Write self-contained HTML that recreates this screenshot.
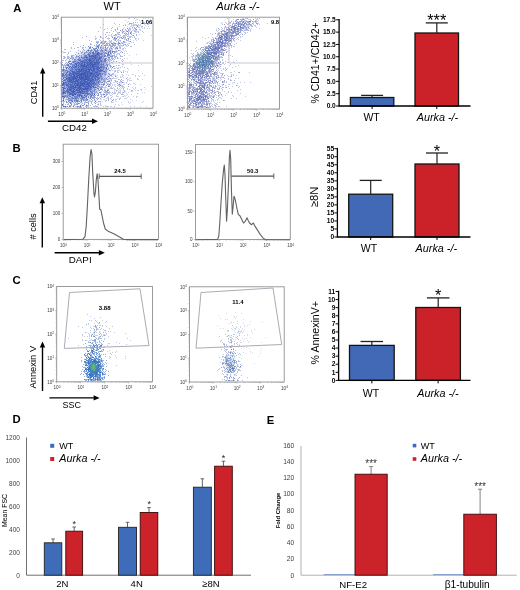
<!DOCTYPE html><html><head><meta charset="utf-8"><style>html,body{margin:0;padding:0;background:#fff;}body{width:520px;height:590px;overflow:hidden;}svg{display:block;font-family:"Liberation Sans",sans-serif;filter:blur(0.35px);}</style></head><body><svg width="520" height="590" viewBox="0 0 520 590"><defs><filter id="bl1" x="-60%" y="-60%" width="220%" height="220%"><feGaussianBlur stdDeviation="1"/></filter><filter id="bl2" x="-60%" y="-60%" width="220%" height="220%"><feGaussianBlur stdDeviation="2"/></filter><filter id="bl4" x="-60%" y="-60%" width="220%" height="220%"><feGaussianBlur stdDeviation="4"/></filter><clipPath id="cA1"><rect x="62.0" y="17.7" width="90.5" height="90.0"/></clipPath><clipPath id="cA2"><rect x="188.0" y="17.7" width="91.0" height="90.8"/></clipPath><clipPath id="cC1"><rect x="57.2" y="287.0" width="94.8" height="94.30000000000001"/></clipPath><clipPath id="cC2"><rect x="190.0" y="287.3" width="93.69999999999999" height="94.19999999999999"/></clipPath></defs><text x="13.2" y="11.9" font-size="11.3" font-weight="bold">A</text>
<text x="103.6" y="10" font-size="11">WT</text>
<text x="216.2" y="10" font-size="11.3" font-style="italic">Aurka -/-</text>
<g clip-path="url(#cA1)"><ellipse cx="84" cy="76" rx="17" ry="27" fill="#5472c6" opacity="0.8" filter="url(#bl4)" transform="rotate(40 84 76)"/></g>
<path d="M94 77h1M74 77h1M81 74h1M89 70h1M87 65h1M66 67h1M63 106h1M77 95h1M71 74h1M81 73h1M89 83h1M79 88h1M73 74h1M91 57h1M105 67h1M72 86h1M75 63h1M89 81h1M63 69h1M69 87h1M80 61h1M98 52h1M83 70h1M84 93h1M85 66h1M67 97h1M71 85h1M106 32h1M76 83h1M101 58h1M85 78h1M74 87h1M75 83h1M99 80h1M68 83h1M100 50h1M97 50h1M97 72h1M91 70h1M83 76h1M87 73h1M107 59h1M87 94h1M81 78h1M110 53h1M86 91h1M83 92h1M111 56h1M91 97h1M67 88h1M86 57h1M65 84h1M124 41h1M103 38h1M74 78h1M93 67h1M75 54h1M114 68h1M85 79h1M87 76h1M100 73h1M69 77h1M72 61h1M68 61h1M87 61h1M108 53h1M101 54h1M89 73h1M96 57h1M116 47h1M79 74h1M100 58h1M93 82h1M98 54h1M82 80h1M81 101h1M93 60h1M63 84h1M67 91h1M78 79h1M87 64h1M79 77h1M71 80h1M74 83h1M81 91h1M63 88h1M72 88h1M63 93h1M68 91h1M82 47h1M91 85h1M97 57h1M81 76h1M99 68h1M70 70h1M66 70h1M104 56h1M78 87h1M97 56h1M75 78h1M77 92h1M73 76h1M77 90h1M114 93h1M100 60h1M103 63h1M92 74h1M98 53h1M97 56h1M69 77h1M65 79h1M73 62h1M87 67h1M79 80h1M90 83h1M76 76h1M86 73h1M81 82h1M66 91h1M83 74h1M102 61h1M87 99h1M116 65h1M64 87h1M68 83h1M76 100h1M63 67h1M90 69h1M84 64h1M103 69h1M86 61h1M81 85h1M76 80h1M112 49h1M94 63h1M95 64h1M73 92h1M91 87h1M82 75h1M82 81h1M72 65h1M91 67h1M66 73h1M110 42h1M69 69h1M63 73h1M66 68h1M91 74h1M92 55h1M69 82h1M103 84h1M84 64h1M83 89h1M83 45h1M71 100h1M68 58h1M87 91h1M84 63h1M86 89h1M77 63h1M78 103h1M76 92h1M106 92h1M110 55h1M110 51h1M91 91h1M79 72h1M88 86h1M95 57h1M97 63h1M79 96h1M76 96h1M85 52h1M100 53h1M89 82h1M99 61h1M77 81h1M101 71h1M92 63h1M77 76h1M106 50h1M68 62h1M68 78h1M83 61h1M64 69h1M90 65h1M76 98h1M72 72h1M77 104h1M88 75h1M95 57h1M115 30h1M87 93h1M82 77h1M84 86h1M92 52h1M74 77h1M93 69h1M106 68h1M87 82h1M85 82h1M104 78h1M97 64h1M73 64h1M93 86h1M107 32h1M93 73h1M68 81h1M88 50h1M63 83h1M98 54h1M90 73h1M80 85h1M70 80h1M87 84h1M81 85h1M72 59h1M82 97h1M89 58h1M68 83h1M84 87h1M93 70h1M70 89h1M90 51h1M90 105h1M88 86h1M97 59h1M86 81h1M88 86h1M91 94h1M88 70h1M103 46h1M81 69h1M95 87h1M76 75h1M78 83h1M93 65h1M90 66h1M96 76h1M100 48h1M74 81h1M98 75h1M109 57h1M93 62h1M107 64h1M84 50h1M81 100h1M80 107h1M84 73h1M75 63h1M104 60h1M110 75h1M84 83h1M88 85h1M90 43h1M63 70h1M72 94h1M90 84h1M87 71h1M92 73h1M67 84h1M83 100h1M72 77h1M88 64h1M87 88h1M84 65h1M85 77h1M80 70h1M98 62h1M90 53h1M107 65h1M112 27h1M83 78h1M99 59h1M70 103h1M72 72h1M80 79h1M84 86h1M82 91h1M81 68h1M90 85h1M87 90h1M70 77h1M93 79h1M83 82h1M85 89h1M65 95h1M86 78h1M68 77h1M66 97h1M94 57h1M98 63h1M86 86h1M72 101h1M82 86h1M107 66h1M103 57h1M113 42h1M107 90h1M97 54h1M108 76h1M67 95h1M97 72h1M74 78h1M85 88h1M112 56h1M79 76h1M73 72h1M77 101h1M66 101h1M79 91h1M73 92h1M69 61h1M79 76h1M80 77h1M78 90h1M98 93h1M66 76h1M69 67h1M91 44h1M74 93h1M92 61h1M104 71h1M96 74h1M80 92h1M98 83h1M70 70h1M73 83h1M86 85h1M82 65h1M86 60h1M84 68h1M92 86h1M72 71h1M87 69h1M76 70h1M87 85h1M83 71h1M81 78h1M87 83h1M86 102h1M100 103h1M87 73h1M96 72h1M84 73h1M71 89h1M87 68h1M74 96h1M85 70h1M88 86h1M74 71h1M84 83h1M83 75h1M98 41h1M95 50h1M81 78h1M91 72h1M75 93h1M73 57h1M73 76h1M80 74h1M90 86h1M105 58h1M83 47h1M62 101h1M76 63h1M95 84h1M82 48h1M79 77h1M88 83h1M90 65h1M104 72h1M86 72h1M79 62h1M67 71h1M122 56h1M100 59h1M87 72h1M101 42h1M84 65h1M100 71h1M80 85h1M84 80h1M64 85h1M74 84h1M62 94h1M86 105h1M92 66h1M68 75h1M63 96h1M89 61h1M90 78h1M65 77h1M100 93h1M69 57h1M76 84h1M121 60h1M87 78h1M77 78h1M94 80h1M82 72h1M75 99h1M93 52h1M71 86h1M65 74h1M88 83h1M79 91h1M98 69h1M78 87h1M81 80h1M92 61h1M105 65h1M100 40h1M90 82h1M87 79h1M69 94h1M62 79h1M65 104h1M74 88h1M64 82h1M75 57h1M73 58h1M72 95h1M92 93h1M66 59h1M74 84h1M66 102h1M102 78h1M62 87h1M112 56h1M90 44h1M94 94h1M79 78h1M88 76h1M92 64h1M63 92h1M93 69h1M96 64h1M81 65h1M87 86h1M81 73h1M84 79h1M88 50h1M66 96h1M95 62h1M91 69h1M77 103h1M90 59h1M91 81h1M78 79h1M83 64h1M80 86h1M74 67h1M104 49h1M96 44h1M75 91h1M83 89h1M86 63h1M90 74h1M66 82h1M95 57h1M71 67h1M98 74h1M100 81h1M81 78h1M81 71h1M93 75h1M78 77h1M67 94h1M123 45h1M65 88h1M81 85h1M113 61h1M98 88h1M72 69h1M74 79h1M117 53h1M69 106h1M83 82h1M72 86h1M85 97h1M76 78h1M99 82h1M86 82h1M71 73h1M77 77h1M88 69h1M92 67h1M74 67h1M111 43h1M69 81h1M78 84h1M62 100h1M88 46h1M81 99h1M80 85h1M85 87h1M87 89h1M62 76h1M63 74h1M76 81h1M80 69h1M86 71h1M79 94h1M88 65h1M83 65h1M68 79h1M65 52h1M75 81h1M63 89h1M69 75h1M84 85h1M84 66h1M87 71h1M74 74h1M95 101h1M75 67h1M70 94h1M97 46h1M112 62h1M70 64h1M104 81h1M77 101h1M75 94h1M99 73h1M93 65h1M67 74h1M122 52h1M106 43h1M96 48h1M72 67h1M66 79h1M85 47h1M72 71h1M84 97h1M69 61h1M91 50h1M64 75h1M74 78h1M84 95h1M81 64h1M70 100h1M121 56h1M97 72h1M104 73h1M82 73h1M107 55h1M73 88h1M104 55h1M87 76h1M98 66h1M75 72h1M93 64h1M62 74h1M71 99h1M118 41h1M93 68h1M104 45h1M119 54h1M62 51h1M76 65h1M69 73h1M81 81h1M78 77h1M95 76h1M83 66h1M91 63h1M115 29h1M80 76h1M105 41h1M70 106h1M85 75h1M64 75h1M91 82h1M82 93h1M91 78h1M89 65h1M124 53h1M85 100h1M84 79h1M123 42h1M103 65h1M117 57h1M86 70h1M88 76h1M91 56h1M62 96h1M79 73h1M87 54h1M89 71h1M72 92h1M71 70h1M83 69h1M83 62h1M78 79h1M97 46h1M108 85h1M88 82h1M90 59h1M74 89h1M73 79h1M95 97h1M102 51h1M63 93h1M73 81h1M79 90h1M94 74h1M84 91h1M99 71h1M99 63h1M63 92h1M96 51h1M94 73h1M80 95h1M94 75h1M105 72h1M73 93h1M80 85h1M77 76h1M95 52h1M79 85h1M104 29h1M96 61h1M109 76h1M71 88h1M80 74h1M82 73h1M103 55h1M73 62h1M96 62h1M80 106h1M73 78h1M89 80h1M93 96h1M80 75h1M75 90h1M91 73h1M83 80h1M64 80h1M66 87h1M81 62h1M71 85h1M85 79h1M70 102h1M71 97h1M73 76h1M94 64h1M69 79h1M87 72h1M68 90h1M89 94h1M71 84h1M78 64h1M101 45h1M67 54h1M86 72h1M115 70h1M86 57h1M97 82h1M89 48h1M72 100h1M80 81h1M74 75h1M89 48h1M74 94h1M93 76h1M104 96h1M96 47h1M97 77h1M97 63h1M96 85h1M77 81h1M76 72h1M84 58h1M77 85h1M66 99h1M82 88h1M99 72h1M101 45h1M98 52h1M126 40h1M90 75h1M74 91h1M74 68h1M100 60h1M68 93h1M84 71h1M92 54h1M86 100h1M80 105h1M97 85h1M89 72h1M70 78h1M64 83h1M83 86h1M86 62h1M65 83h1M104 71h1M74 101h1M106 63h1M94 83h1M82 93h1M101 51h1M98 52h1M95 83h1M93 80h1M68 86h1M64 90h1M89 77h1M93 64h1M93 95h1M81 76h1M89 60h1M88 77h1M100 64h1M94 78h1M82 93h1M65 92h1M101 71h1M63 103h1M83 100h1M82 65h1M79 69h1M79 71h1M106 68h1M79 106h1M77 100h1M94 83h1M82 69h1M72 101h1M93 69h1M97 75h1M65 99h1M76 55h1M84 74h1M65 67h1M75 64h1M90 59h1M84 94h1M90 47h1M91 69h1M81 84h1M79 89h1M92 55h1M67 89h1M67 76h1M95 54h1M94 54h1M85 76h1M101 89h1M75 82h1M84 52h1M107 69h1M100 54h1M72 58h1M99 90h1M63 88h1M79 58h1M82 93h1M78 80h1M96 76h1M82 97h1M62 105h1M105 71h1M90 56h1M72 90h1M82 83h1M93 69h1M81 63h1M79 86h1M87 74h1M103 58h1M78 47h1M92 94h1M90 80h1M98 54h1M98 79h1M85 77h1M88 50h1M91 81h1M101 56h1M72 55h1M93 83h1M75 88h1M88 62h1M70 76h1M83 45h1M74 81h1M80 88h1M82 68h1M87 87h1M78 79h1M79 71h1M96 50h1M78 66h1M78 85h1M93 66h1M81 85h1M77 96h1M79 86h1M119 32h1M114 46h1M115 58h1M77 104h1M70 86h1M72 99h1M91 82h1M97 93h1M75 73h1M70 88h1M94 84h1M100 98h1M96 71h1M71 82h1M80 73h1M77 88h1M95 69h1M68 77h1M81 95h1M77 86h1M98 85h1M83 84h1M72 77h1M99 62h1M79 91h1M96 54h1M84 62h1M63 56h1M72 93h1M92 63h1M94 94h1M120 67h1M81 96h1M90 75h1M90 68h1M101 77h1M80 65h1M94 56h1M73 44h1M81 79h1M97 72h1M93 83h1M71 100h1M91 59h1M88 67h1M89 90h1M89 89h1M70 84h1M84 73h1M80 92h1M85 88h1M80 67h1M76 78h1M67 77h1M96 45h1M75 98h1M119 24h1M64 97h1M63 78h1M94 68h1M97 62h1M85 79h1M85 72h1M76 83h1M79 96h1M81 82h1M63 72h1M88 91h1M93 86h1M63 91h1M91 78h1M89 75h1M69 88h1M67 71h1M88 104h1M87 67h1M103 50h1M90 80h1M69 60h1M76 93h1M67 102h1M95 68h1M78 70h1M74 87h1M109 84h1M86 88h1M80 81h1M88 74h1M77 84h1M70 78h1M73 80h1M84 64h1M68 53h1M89 40h1M79 103h1M94 67h1M70 78h1M92 65h1M69 77h1M97 67h1M93 106h1M83 49h1M103 61h1M97 61h1M69 106h1M113 66h1M78 68h1M112 59h1M108 43h1M83 97h1M77 80h1M85 56h1M92 66h1M95 103h1M90 91h1M90 81h1M87 84h1M62 70h1M88 83h1M75 98h1M106 82h1M91 70h1M86 70h1M108 73h1M93 79h1M71 101h1M80 46h1M86 89h1M74 76h1M80 77h1M94 64h1M106 68h1M78 79h1M73 90h1M90 94h1M91 82h1M107 51h1M67 84h1M87 71h1M69 100h1M101 61h1M67 90h1M80 67h1M63 84h1M95 62h1M79 78h1M114 51h1M92 86h1M85 78h1M95 49h1M116 56h1M76 67h1M85 71h1M72 62h1M90 87h1M81 79h1M74 105h1M84 103h1M95 58h1M62 76h1M73 78h1M85 81h1M90 57h1M93 67h1M108 59h1M96 58h1M84 76h1M89 56h1M92 92h1M87 57h1M88 71h1M80 66h1M82 99h1M83 74h1M81 72h1M83 65h1M86 90h1M70 66h1M67 92h1M79 92h1M69 105h1M71 89h1M83 84h1M88 84h1M89 56h1M79 94h1M62 89h1M98 75h1M74 72h1M88 78h1M91 80h1M66 78h1M85 75h1M98 66h1M66 75h1M66 62h1M80 64h1M104 83h1M101 70h1M117 81h1M84 81h1M93 55h1M78 92h1M98 48h1M92 76h1M74 77h1M66 95h1M87 63h1M88 69h1M73 77h1M77 98h1M86 92h1M78 69h1M63 99h1M104 90h1M79 72h1M66 77h1M73 78h1M90 87h1M91 63h1M100 70h1M72 91h1M98 53h1M100 66h1M89 61h1M76 73h1M97 104h1M88 64h1M108 53h1M73 90h1M80 74h1M80 79h1M98 98h1M117 32h1M79 74h1M85 59h1M108 64h1M76 69h1M90 74h1M99 54h1M114 55h1M79 86h1M84 65h1M91 73h1M94 94h1M78 69h1M80 75h1M92 97h1M73 90h1M97 84h1M97 45h1M85 92h1M106 67h1M91 95h1M72 78h1M88 79h1M90 73h1M63 91h1M85 75h1M69 96h1M84 74h1M75 77h1M111 62h1M69 73h1M72 77h1M85 88h1M74 74h1M89 58h1M130 41h1M81 77h1M83 57h1M81 79h1M86 79h1M121 45h1M65 70h1M93 71h1M82 64h1M101 57h1M75 90h1M114 38h1M99 44h1M93 49h1M124 67h1M92 93h1M88 80h1M78 62h1M98 70h1M81 90h1M93 65h1M87 88h1M73 90h1M77 97h1M93 53h1M92 71h1M83 70h1M98 73h1M85 79h1M66 67h1M104 82h1M84 72h1M96 60h1M92 79h1M64 79h1M96 92h1M92 84h1M74 84h1M70 72h1M63 100h1M89 47h1M82 78h1M99 57h1M78 89h1M84 57h1M85 62h1M86 60h1M86 51h1M92 78h1M97 51h1M62 85h1M84 66h1M93 68h1M112 46h1M75 102h1M79 85h1M84 82h1M93 64h1M95 58h1M74 62h1M95 78h1M65 88h1M67 88h1M80 74h1M80 105h1M64 106h1M67 79h1M63 105h1M79 89h1M76 63h1M69 94h1M93 85h1M64 92h1M102 69h1M73 86h1M82 58h1M77 73h1M100 36h1M76 62h1M102 70h1M71 57h1M109 70h1M64 70h1M68 71h1M86 77h1M71 56h1M77 94h1M90 60h1M80 70h1M96 68h1M83 86h1M101 66h1M76 99h1M86 107h1M95 48h1M102 87h1M73 79h1M72 68h1M70 100h1M106 53h1M109 61h1M69 87h1M62 81h1M77 82h1M83 60h1M88 103h1M83 86h1M77 68h1M115 40h1M71 77h1M96 51h1M81 100h1M62 64h1M70 99h1M85 73h1M95 79h1M108 81h1M63 92h1M95 72h1M84 97h1M99 52h1M110 52h1M92 67h1M80 91h1M97 49h1M95 56h1M78 89h1M70 85h1M85 93h1M96 72h1M88 80h1M69 80h1M99 92h1M74 81h1M79 82h1M77 80h1M97 55h1M87 100h1M69 94h1M75 63h1M109 70h1M97 64h1M92 63h1M97 79h1M92 75h1M85 66h1M90 60h1M102 73h1M90 46h1M124 44h1M88 77h1M64 84h1M98 67h1M83 73h1M79 74h1M85 74h1M85 99h1M98 60h1M99 70h1M97 58h1M78 92h1M89 70h1M63 69h1M66 75h1M71 47h1M92 64h1M71 63h1M109 84h1M79 82h1M79 83h1M95 39h1M93 55h1M83 74h1M103 43h1M87 52h1M98 46h1M89 60h1M71 102h1M103 73h1M63 91h1M70 73h1M79 97h1M83 89h1M100 74h1M64 57h1M68 85h1M82 67h1M100 57h1M72 80h1M67 80h1M95 65h1M94 72h1M88 60h1M69 80h1M70 90h1M81 85h1M76 100h1M88 62h1M100 42h1M92 67h1M105 74h1M77 85h1M110 70h1M76 66h1M86 71h1M121 72h1M83 67h1M92 80h1M88 93h1M89 82h1M68 83h1M77 84h1M63 100h1M93 70h1M91 95h1M70 78h1M86 95h1M85 91h1M88 86h1M103 64h1M122 66h1M82 96h1M94 71h1M95 58h1M73 79h1M89 83h1M108 76h1M82 91h1M79 90h1M81 77h1M70 82h1M95 101h1M91 41h1M90 64h1M65 72h1M85 74h1M86 93h1M63 66h1M92 64h1M63 96h1M86 105h1M86 106h1M83 70h1M95 80h1M78 71h1M64 88h1M85 77h1M98 69h1M62 85h1M74 73h1M97 53h1M105 55h1M88 72h1M95 66h1M78 103h1M75 87h1M101 42h1M88 93h1M63 85h1M103 57h1M96 55h1M81 66h1M76 87h1M99 92h1M64 97h1M111 54h1M77 76h1M103 54h1M63 100h1M102 54h1M86 78h1M90 69h1M81 76h1M96 81h1M81 63h1M82 73h1M88 96h1M96 38h1M69 81h1M102 82h1M84 91h1M96 68h1M82 91h1M80 82h1M91 67h1M72 74h1M77 47h1M104 74h1M101 70h1M76 101h1M81 93h1M87 74h1M78 83h1M91 56h1M94 78h1M83 65h1M95 59h1M88 103h1M95 55h1M77 65h1M90 81h1M79 70h1M72 86h1M77 75h1M81 89h1M62 62h1M81 96h1M87 50h1M78 65h1M77 92h1M81 71h1M78 75h1M105 47h1M94 73h1M69 106h1M82 84h1M75 86h1M81 68h1M67 86h1M63 87h1M113 44h1M69 86h1M115 57h1M105 69h1M80 94h1M68 62h1M81 77h1M105 61h1M69 79h1M91 78h1M97 70h1M63 83h1M86 98h1M83 89h1M107 47h1M82 67h1M77 74h1M94 89h1M88 60h1M84 83h1M111 74h1M93 81h1M89 78h1M106 43h1M86 56h1M106 53h1M98 53h1M77 84h1M91 72h1M73 91h1M93 56h1M68 52h1M78 67h1M106 69h1M89 60h1M111 30h1M101 53h1M79 87h1M76 74h1M88 51h1M96 76h1M92 71h1M87 63h1M101 67h1M74 82h1M106 53h1M92 79h1M91 56h1M86 69h1M88 76h1M78 84h1M90 62h1M113 55h1M82 62h1M64 83h1M85 79h1M69 66h1M110 53h1M78 53h1M81 83h1M70 89h1M78 85h1M113 51h1M107 83h1M83 68h1M91 64h1M71 67h1M78 72h1M73 86h1M83 90h1M81 57h1M84 84h1M65 71h1M69 74h1M65 57h1M98 42h1M96 60h1M102 67h1M90 96h1M92 86h1M68 84h1M72 88h1M89 75h1M88 78h1M87 99h1M95 84h1M82 76h1M86 93h1M76 52h1M77 85h1M81 65h1M94 55h1M95 51h1M68 66h1M76 81h1M71 78h1M102 70h1M98 45h1M87 75h1M94 63h1M72 82h1M93 60h1M97 79h1M76 100h1M84 81h1M77 84h1M80 73h1M87 64h1M71 75h1M87 64h1M93 69h1M65 49h1M63 82h1M91 83h1M87 74h1M93 48h1M98 64h1M102 62h1M87 92h1M72 71h1M64 106h1M88 97h1M90 60h1M90 75h1M74 78h1M74 76h1M77 71h1M81 68h1M105 50h1M84 70h1M72 91h1M91 50h1M103 84h1M78 65h1M82 66h1M82 96h1M100 37h1M87 59h1M67 93h1M92 56h1M89 67h1M93 58h1M89 67h1M71 80h1M93 58h1M67 96h1M93 93h1M69 93h1M68 101h1M109 54h1M89 71h1M89 79h1M85 73h1M73 88h1M98 61h1M73 86h1M85 91h1M80 75h1M96 62h1M63 98h1M62 104h1M100 67h1M78 96h1M65 91h1M91 63h1M62 92h1M101 41h1M68 89h1M128 33h1M79 63h1M87 74h1M72 92h1M67 78h1M95 105h1M115 43h1M63 76h1M92 68h1M81 88h1M99 80h1M99 56h1M93 74h1M77 71h1M94 102h1M98 62h1M79 75h1M81 57h1M117 48h1M69 75h1M94 63h1M94 87h1M67 71h1M87 76h1M122 64h1M94 56h1M95 62h1M78 81h1M113 66h1M91 75h1M118 70h1M76 65h1M82 60h1M91 62h1M88 74h1M84 83h1M68 87h1M83 72h1M77 80h1M68 99h1M95 71h1M75 94h1M74 61h1M89 70h1M98 70h1M80 86h1M93 74h1M74 100h1M64 80h1M100 75h1M91 99h1M75 78h1M84 56h1M90 101h1M82 69h1M104 58h1M86 75h1M73 73h1M81 68h1M80 64h1M97 68h1M99 59h1M74 92h1M63 96h1M84 74h1M94 97h1M63 65h1M103 67h1M69 74h1M81 65h1M65 107h1M81 53h1M95 103h1M72 82h1M85 89h1M111 28h1M101 50h1M83 70h1M71 93h1M70 81h1M82 85h1M66 101h1M76 76h1M64 56h1M82 84h1M70 61h1M69 88h1M81 83h1M67 67h1M88 54h1M69 81h1M94 68h1M98 59h1M103 80h1M82 78h1M91 52h1M83 85h1M77 56h1M77 83h1M91 66h1M80 98h1M77 101h1M83 77h1M65 81h1M78 83h1M81 92h1M83 73h1M85 62h1M76 86h1M78 64h1M91 86h1M95 83h1M80 92h1M75 67h1M87 93h1M75 83h1M127 68h1M90 62h1M79 92h1M97 53h1M63 88h1M71 68h1M77 73h1M102 66h1M63 98h1M89 68h1M77 85h1M77 107h1M89 87h1M70 93h1M101 88h1M77 89h1M80 94h1M87 75h1M71 91h1M90 60h1M95 62h1M93 79h1M70 96h1M88 58h1M74 96h1M90 94h1M64 64h1M84 95h1M78 83h1M92 97h1M75 78h1M91 96h1M88 94h1M66 90h1M64 73h1M89 76h1M63 88h1M103 41h1M82 71h1M118 44h1M88 63h1M90 68h1M64 96h1M63 75h1M94 66h1M98 68h1M89 75h1M105 46h1M110 53h1M85 102h1M91 58h1M97 57h1M86 84h1M62 85h1M87 92h1M93 87h1M86 78h1M80 88h1M101 87h1M72 65h1M74 93h1M69 100h1M95 58h1M83 82h1M62 97h1M70 94h1M84 100h1M87 62h1M72 76h1M96 98h1M97 49h1M87 78h1M89 85h1M73 86h1M88 89h1M89 74h1M87 99h1M68 98h1M129 43h1M103 63h1M73 90h1M64 96h1M70 75h1M80 75h1M79 85h1M81 85h1M96 61h1M92 70h1M76 78h1M74 81h1M91 61h1M94 65h1M78 59h1M94 69h1M62 96h1M97 59h1M63 102h1M83 75h1M93 59h1M69 89h1M82 103h1M106 63h1M95 64h1M66 79h1M88 94h1M67 67h1M72 79h1M75 81h1M78 95h1M77 106h1M112 67h1M87 69h1M65 82h1M73 79h1M75 77h1M80 86h1M94 63h1M87 79h1M67 82h1M63 93h1M67 90h1M92 76h1M106 48h1M74 75h1M63 96h1M80 81h1M79 91h1M80 78h1M88 88h1M89 71h1M79 75h1M82 79h1M86 67h1M79 88h1M67 72h1M100 67h1M80 82h1M86 98h1M77 73h1M82 70h1M81 75h1M71 80h1M63 87h1M104 54h1M84 67h1M75 59h1M103 94h1M84 86h1M68 87h1M82 69h1M71 80h1M95 89h1M75 83h1M67 57h1M73 75h1M112 44h1M74 72h1M94 88h1M78 62h1M89 93h1M77 100h1M109 32h1M85 94h1M84 98h1M94 78h1M90 60h1M88 80h1M96 64h1M106 58h1M112 52h1M84 74h1M81 61h1M82 98h1M86 69h1M71 56h1M84 83h1M80 100h1M81 61h1M80 71h1M87 75h1M78 53h1M67 72h1M96 72h1M93 87h1M99 67h1M86 74h1M91 66h1M83 73h1M82 98h1M68 103h1M74 104h1M97 75h1M88 71h1M93 51h1M104 43h1M93 87h1M82 71h1M72 101h1M99 71h1M86 67h1M106 60h1M79 78h1M93 84h1M79 92h1M74 103h1M110 56h1M77 63h1M65 96h1M73 67h1M75 98h1M85 68h1M84 81h1M87 86h1M73 86h1M102 79h1M93 83h1M73 95h1M67 78h1M105 59h1M88 85h1M76 89h1M106 62h1M91 74h1M65 74h1M84 73h1M97 54h1M97 54h1M98 47h1M86 52h1M99 58h1M97 42h1M78 62h1M81 71h1M79 74h1M102 53h1M66 70h1M68 64h1M81 92h1M84 83h1M71 98h1M101 68h1M82 69h1M73 62h1M82 74h1M85 89h1M69 59h1M72 83h1M81 91h1M80 82h1M81 63h1M107 44h1M62 87h1M66 85h1M63 106h1M105 49h1M73 67h1M85 62h1M78 101h1M104 71h1M63 101h1M90 79h1M123 48h1M71 100h1M85 60h1M91 85h1M82 88h1M76 85h1M104 67h1M78 94h1M70 80h1M94 85h1M79 79h1M76 70h1M84 81h1M91 69h1M89 47h1M87 59h1M78 90h1M76 64h1M102 50h1M97 68h1M82 92h1M101 88h1M79 101h1M87 76h1M68 91h1M90 55h1M69 101h1M101 57h1M78 87h1M87 90h1M64 93h1M67 65h1M82 65h1M108 54h1M125 44h1M74 76h1M66 84h1M62 73h1M69 89h1M84 88h1M63 67h1M66 69h1M66 84h1M81 83h1M74 93h1M91 102h1M85 66h1M84 84h1M104 41h1M84 55h1M80 83h1M63 96h1M89 60h1M92 62h1M92 73h1M88 76h1M72 95h1M84 72h1M101 50h1M71 94h1M96 54h1M105 47h1M82 66h1M87 80h1M78 85h1M63 106h1M93 76h1M86 66h1M86 84h1M86 59h1M84 84h1M63 82h1M67 58h1M89 67h1M67 65h1M63 90h1M89 58h1M86 87h1M80 75h1M85 59h1M130 28h1M79 59h1M109 84h1M63 84h1M109 58h1M90 69h1M92 58h1M98 53h1M90 95h1M109 55h1M90 68h1M107 38h1M80 63h1M90 97h1M115 71h1M84 80h1M72 81h1M73 79h1M93 68h1M82 78h1M109 59h1M95 75h1M68 65h1M70 90h1M83 83h1M93 48h1M101 67h1M82 57h1M84 76h1M97 78h1M70 86h1M65 74h1M74 84h1M74 100h1M64 106h1M102 61h1M71 86h1M85 73h1M105 53h1M80 93h1M99 53h1M78 58h1M75 96h1M113 31h1M84 92h1M77 81h1M94 94h1M85 95h1M71 81h1M76 74h1M84 83h1M80 71h1M73 69h1M90 69h1M86 96h1M93 79h1M77 73h1M70 83h1M88 84h1M90 73h1M70 93h1M74 81h1M73 66h1M92 104h1M77 81h1M100 77h1M81 63h1M84 95h1M79 64h1M82 63h1M84 79h1M79 73h1M82 81h1M89 50h1M74 60h1M91 69h1M64 82h1M73 95h1M93 54h1M93 65h1M110 67h1M92 61h1M91 85h1M77 61h1M84 76h1M114 56h1M89 79h1M93 75h1M74 81h1M88 65h1M85 83h1M63 89h1M88 71h1M106 58h1M69 72h1M79 95h1M75 85h1M85 77h1M79 95h1M80 78h1M71 77h1M86 66h1M105 49h1M94 48h1M85 69h1M103 71h1M73 87h1M79 57h1M103 51h1M86 55h1M81 79h1M64 93h1M79 87h1M72 66h1M75 98h1M97 52h1M94 90h1M89 56h1M70 90h1M104 96h1M95 76h1M88 73h1M95 66h1M86 65h1M82 83h1M98 75h1M76 79h1M97 43h1M83 61h1M71 104h1M83 89h1M88 54h1M101 70h1M70 63h1M90 65h1M97 69h1M84 83h1M102 48h1M72 95h1M69 71h1M81 78h1M105 55h1M95 75h1M84 75h1M76 106h1M73 87h1M64 58h1M72 94h1M70 85h1M99 45h1M100 47h1M82 90h1M94 66h1M76 89h1M90 60h1M86 82h1M99 58h1M111 60h1M82 66h1M92 70h1M91 85h1M91 93h1M63 100h1M83 105h1M104 97h1M81 65h1M118 65h1M65 93h1M110 46h1M88 79h1M86 83h1M112 55h1M98 104h1M86 98h1M81 90h1M83 67h1M92 47h1M93 67h1M63 70h1M77 80h1M90 86h1M83 68h1M62 104h1M88 97h1M63 98h1M97 71h1M86 86h1M65 66h1M70 70h1M64 97h1M75 94h1M77 97h1M81 82h1M73 73h1M71 90h1M97 75h1M105 62h1M81 75h1M92 66h1M96 66h1M69 80h1M92 58h1M79 92h1M80 106h1M94 56h1M80 88h1M114 66h1M73 78h1M108 81h1M90 47h1M105 61h1M74 85h1M96 57h1M79 84h1M108 52h1M109 55h1M81 55h1M95 58h1M102 70h1M81 74h1M103 67h1M96 62h1M70 58h1M98 31h1M116 61h1M80 83h1M108 60h1M97 62h1M63 77h1M64 52h1M95 50h1M68 100h1M92 71h1M101 65h1M64 71h1M71 58h1M74 75h1M98 79h1M88 85h1M81 74h1M72 77h1M72 72h1M84 79h1M104 56h1M90 72h1M83 91h1M91 87h1M85 72h1M85 80h1M78 83h1M94 50h1M90 87h1M82 77h1M99 57h1M76 89h1M72 70h1M73 85h1M105 59h1M98 60h1M70 85h1M97 47h1M65 106h1M83 99h1M87 64h1M82 88h1M78 75h1M87 73h1M97 53h1M87 83h1M87 89h1M78 88h1M68 92h1M66 106h1M100 58h1M119 43h1M74 74h1M86 63h1M90 63h1M90 88h1M94 82h1M97 65h1M79 95h1M88 90h1M73 102h1M77 94h1M63 81h1M84 60h1M101 61h1M77 85h1M96 61h1M98 81h1M87 80h1M98 59h1M100 92h1M79 69h1M84 81h1M95 76h1M87 87h1M86 67h1M88 53h1M117 68h1M89 57h1M80 77h1M81 74h1M95 55h1M103 71h1M89 93h1M89 53h1M101 64h1M105 90h1M85 77h1M70 87h1M94 99h1M99 62h1M76 80h1M70 70h1M106 78h1M92 94h1M83 82h1M86 70h1M98 95h1M91 63h1M93 70h1M94 69h1M77 95h1M71 80h1M74 73h1M93 52h1M87 72h1M66 64h1M98 57h1M94 50h1M86 67h1M95 75h1M83 88h1M93 64h1M88 65h1M109 44h1M98 86h1M83 76h1M87 84h1M91 72h1M78 73h1M82 69h1M89 80h1M76 73h1M81 88h1M75 104h1M70 87h1M84 84h1M85 106h1M76 97h1M123 25h1M99 68h1M95 52h1M69 88h1M72 94h1M65 74h1M84 74h1M74 84h1M62 95h1M89 82h1M101 63h1M73 82h1M65 92h1M87 89h1M83 71h1M78 59h1M83 85h1M86 79h1M96 51h1M97 67h1M68 65h1M78 73h1M92 76h1M76 65h1M93 61h1M62 84h1M76 104h1M93 79h1M75 64h1M79 101h1M68 83h1M79 87h1M93 64h1M67 81h1M96 72h1M80 61h1M74 81h1M83 68h1M93 55h1M78 79h1M82 72h1M120 55h1M87 64h1M87 95h1M66 83h1M91 55h1M70 66h1M82 77h1M85 57h1M85 86h1M79 63h1M81 97h1M89 85h1M82 77h1M101 79h1M80 98h1M97 46h1M100 56h1M71 87h1M99 68h1M104 59h1M79 87h1M93 60h1M89 86h1M96 91h1M73 91h1M106 36h1M88 53h1M100 43h1M86 97h1M97 49h1M88 69h1M82 77h1M82 84h1M70 79h1M63 104h1M86 93h1M85 78h1M90 65h1M115 56h1M84 83h1M63 83h1M91 65h1M75 76h1M76 76h1M93 62h1M79 87h1M79 66h1M66 90h1M78 75h1M89 71h1M87 76h1M67 106h1M95 77h1M72 71h1M91 92h1M77 92h1M88 49h1M75 87h1M86 76h1M121 37h1M105 78h1M76 66h1M79 78h1M81 95h1M63 75h1M77 73h1M98 81h1M79 94h1M62 93h1M87 63h1M86 89h1M65 77h1M93 83h1M69 99h1M95 55h1M83 79h1M101 49h1M74 89h1M84 66h1M84 89h1M76 66h1M82 60h1M97 60h1M122 52h1M84 99h1M78 73h1M72 91h1M74 66h1M80 65h1M105 37h1M77 100h1M93 70h1M65 106h1M62 91h1M100 96h1M90 62h1M85 56h1M73 72h1M73 80h1M66 102h1M76 56h1M62 75h1M96 70h1M99 55h1M70 61h1M98 74h1M80 79h1M92 59h1M87 82h1M62 92h1M88 87h1M94 70h1M97 79h1M91 89h1M86 96h1M82 78h1M93 95h1M94 93h1M84 57h1M85 67h1M79 57h1M77 81h1M92 77h1M68 65h1M72 101h1M78 85h1M100 71h1M108 54h1M131 46h1M103 62h1M85 70h1M82 77h1M70 105h1M109 81h1M75 73h1M81 80h1M77 71h1M63 69h1M76 85h1M79 92h1M75 69h1M64 90h1M81 85h1M81 104h1M87 77h1M71 104h1M67 92h1M99 55h1M72 79h1M94 45h1M79 55h1M120 58h1M90 53h1M99 74h1M113 47h1M65 65h1M73 91h1M96 46h1M65 63h1M81 89h1M89 86h1M90 91h1M121 51h1M101 53h1M80 86h1M69 78h1M93 66h1M88 62h1M88 62h1M64 91h1M94 49h1M78 82h1M76 93h1M87 94h1M85 89h1M98 101h1M84 53h1M93 64h1M86 84h1M71 63h1M85 85h1M86 71h1M94 91h1M76 71h1M66 90h1M90 79h1M101 73h1M103 68h1M91 73h1M83 73h1M68 86h1M92 73h1M88 72h1M96 61h1M105 41h1M86 66h1M92 64h1M93 62h1M81 70h1M77 84h1M66 73h1M96 48h1M77 76h1M62 84h1M69 89h1M70 87h1M72 72h1M85 73h1M84 81h1M75 78h1M91 55h1M71 71h1M93 84h1M97 52h1M88 59h1M67 88h1M116 38h1M84 73h1M81 80h1M93 98h1M85 87h1M105 60h1M71 67h1M82 67h1M81 61h1M82 84h1M106 71h1M102 56h1M92 58h1M98 65h1M87 76h1M96 53h1M97 69h1M86 66h1M65 80h1M89 69h1M62 79h1M95 51h1M84 69h1M68 79h1M81 88h1M105 50h1M66 74h1M62 93h1M72 97h1M86 79h1M72 64h1M106 68h1M69 63h1M99 58h1M78 95h1M63 70h1M75 87h1M80 59h1M81 102h1M63 58h1M75 69h1M70 89h1M109 62h1M118 68h1M86 79h1M87 81h1M75 66h1M72 91h1M82 74h1M86 65h1M71 79h1M97 72h1M95 71h1M88 69h1M97 69h1M94 59h1M81 101h1M70 102h1M63 106h1M71 55h1M83 66h1M89 88h1M74 93h1M88 66h1M113 45h1M109 49h1M120 52h1M83 83h1M70 80h1M71 89h1M92 92h1M84 59h1M79 77h1M83 79h1M71 103h1M102 70h1M63 80h1M73 106h1M72 86h1M108 55h1M111 48h1M88 105h1M84 65h1M76 78h1M81 75h1M95 63h1M81 75h1M83 96h1M83 88h1M62 71h1M75 77h1M76 101h1M98 47h1M85 84h1M97 63h1M108 76h1M79 75h1M64 76h1M103 61h1M88 88h1M87 61h1M104 59h1M87 65h1M106 64h1M110 59h1M90 73h1M65 74h1M107 65h1M84 78h1M70 86h1M62 76h1M85 87h1M94 99h1M93 52h1M74 71h1M97 51h1M88 67h1M114 43h1M72 68h1M82 93h1M65 79h1M81 98h1M73 65h1M76 84h1M73 94h1M85 93h1M101 60h1M86 51h1M94 59h1M75 87h1M80 93h1M78 75h1M86 69h1M98 63h1M84 102h1M112 58h1M114 59h1M78 50h1M89 60h1M103 24h1M71 78h1M63 92h1M72 78h1M91 79h1M81 69h1M67 85h1M95 66h1M110 98h1M79 91h1M76 90h1M76 78h1M76 79h1M66 73h1M89 62h1M104 84h1M68 97h1M87 86h1M90 90h1M90 80h1M86 77h1M78 106h1M96 65h1M82 78h1M73 92h1M109 52h1M93 97h1M99 57h1M98 52h1M75 79h1M83 54h1M102 59h1M81 66h1M95 38h1M91 101h1M76 81h1M74 71h1M79 85h1M119 43h1M74 48h1M77 75h1M74 77h1M94 64h1M108 57h1M63 60h1M101 95h1M68 95h1M67 64h1M63 92h1M95 51h1M71 87h1M63 82h1M101 84h1M68 62h1M98 45h1M69 90h1M72 101h1M98 83h1M101 56h1M65 95h1M87 58h1M91 87h1M95 56h1M94 67h1M95 63h1M70 64h1M78 83h1M87 67h1M98 46h1M77 77h1M94 53h1M77 86h1M76 89h1M75 76h1M84 62h1M67 63h1M92 55h1M76 79h1M135 38h1M98 86h1M66 76h1M90 60h1M90 69h1M62 85h1M78 69h1M84 91h1M80 84h1M83 70h1M89 61h1M89 70h1M102 43h1M62 65h1M74 81h1M89 61h1M72 56h1M74 83h1M73 94h1M76 79h1M82 84h1M88 102h1M83 97h1M74 99h1M97 50h1M86 100h1M106 64h1M90 61h1M99 90h1M88 72h1M67 85h1M108 90h1M63 78h1M70 79h1M63 84h1M84 88h1M92 83h1M80 89h1M84 76h1M68 77h1M62 60h1M79 70h1M89 73h1M69 96h1M76 76h1M90 69h1M91 77h1M82 52h1M110 65h1M74 65h1M87 84h1M78 56h1M75 86h1M84 80h1M86 76h1M87 82h1M86 57h1M78 82h1M88 55h1M90 58h1M78 60h1M100 87h1M68 80h1M79 74h1M89 78h1M98 68h1M101 62h1M84 84h1M89 64h1M79 69h1M89 84h1M91 84h1M89 52h1M112 37h1M90 89h1M94 96h1M69 95h1M92 52h1M109 80h1M104 94h1M96 73h1M85 55h1M117 28h1M103 81h1M94 64h1M73 79h1M65 82h1M90 96h1M83 65h1M110 66h1M87 102h1M76 87h1M90 75h1M73 98h1M71 82h1M90 68h1M80 79h1M86 90h1M93 57h1M93 70h1M82 77h1M113 51h1M95 75h1M87 67h1M96 63h1M77 88h1M72 93h1M66 68h1M88 84h1M63 68h1M63 92h1M85 55h1M95 78h1M77 59h1M92 61h1M63 88h1M86 78h1M97 80h1M89 76h1M71 75h1M89 56h1M72 79h1M96 80h1M76 72h1M97 71h1M108 52h1M94 55h1M63 83h1M97 53h1M72 98h1M82 62h1M69 71h1M91 64h1M83 79h1M71 87h1M94 66h1M93 56h1M70 90h1M77 87h1M68 91h1M92 90h1M83 99h1M76 96h1M124 55h1M71 76h1M68 68h1M91 69h1M71 69h1M77 91h1M88 85h1M76 56h1M83 84h1M73 106h1M88 77h1M64 49h1M103 66h1M82 62h1M90 89h1M82 89h1M81 73h1M105 72h1M75 86h1M92 80h1M110 95h1M86 79h1M63 90h1M81 99h1M97 73h1M92 91h1M78 83h1M98 89h1M72 82h1M91 84h1M74 75h1M100 54h1M83 86h1M92 59h1M71 88h1M94 60h1M79 71h1M98 78h1M72 74h1M92 53h1M103 57h1M91 73h1M107 49h1M69 98h1M100 48h1M63 99h1M76 71h1M91 80h1M105 58h1M79 91h1M108 55h1M79 86h1M84 104h1M87 88h1M92 72h1M104 61h1M84 53h1M114 54h1M78 63h1M90 56h1M72 81h1M75 61h1M94 87h1M72 84h1M62 75h1M83 67h1M63 92h1M103 56h1M103 79h1M79 60h1M96 60h1M80 84h1M76 103h1M95 74h1M78 79h1M67 56h1M98 66h1M82 61h1M102 41h1M79 76h1M80 60h1M68 92h1M86 76h1M95 36h1M84 76h1M70 93h1M67 106h1M95 86h1M74 85h1M96 41h1M94 68h1M81 77h1M117 47h1M81 76h1M85 62h1M77 80h1M77 85h1M87 84h1M86 88h1M73 105h1M91 55h1M62 70h1M84 74h1M97 75h1M93 56h1M103 48h1M67 91h1M75 60h1M63 78h1M114 38h1M76 89h1M90 84h1M67 96h1M69 72h1M92 56h1M80 87h1M68 79h1M77 69h1M67 64h1M92 98h1M83 105h1M98 60h1M87 62h1M63 69h1M68 56h1M108 50h1M116 35h1M87 77h1M87 94h1M76 74h1M82 65h1M82 91h1M84 82h1M79 89h1M65 96h1M107 28h1M90 69h1M70 90h1M69 92h1M97 77h1M90 51h1M74 94h1M81 65h1M75 97h1M85 60h1M89 64h1M92 77h1M81 75h1M71 63h1M92 71h1M85 101h1M100 57h1M89 60h1M98 64h1M84 97h1M91 103h1M85 75h1M80 95h1M63 74h1M80 51h1M78 72h1M73 88h1M78 90h1M79 78h1M67 85h1M71 67h1M102 42h1M89 76h1M91 77h1M71 48h1M92 83h1M72 86h1M68 78h1M72 97h1M91 96h1M70 106h1M93 76h1M62 81h1M74 100h1M91 61h1M63 73h1M92 78h1M79 60h1M95 73h1M69 78h1M104 63h1M102 64h1M89 60h1M122 61h1M88 46h1M70 93h1M93 81h1M86 95h1M90 97h1M80 71h1M100 74h1M105 55h1M78 82h1M103 40h1M90 72h1M90 81h1M89 89h1M86 70h1M97 88h1M70 85h1M131 23h1M74 76h1M98 71h1M62 90h1M88 66h1M63 83h1M63 71h1M79 71h1M79 74h1M67 104h1M85 76h1M86 96h1M77 85h1M73 78h1M65 80h1M70 92h1M86 75h1M96 66h1M97 97h1M72 84h1M89 63h1M80 106h1M90 67h1M88 68h1M69 89h1M73 71h1M85 72h1M68 68h1M82 95h1M78 93h1M88 83h1M64 86h1M82 84h1M80 74h1M76 90h1M95 80h1M75 81h1M73 80h1M86 86h1M101 45h1M89 78h1M77 80h1M77 89h1M80 83h1M97 66h1M68 101h1M85 89h1M98 77h1M81 95h1M83 79h1M82 90h1M62 96h1M98 52h1M82 83h1M108 86h1M81 92h1M99 78h1M109 40h1M79 88h1M85 75h1M86 61h1M86 84h1M78 88h1M68 104h1M127 40h1M68 74h1M102 50h1M74 91h1M84 79h1M117 29h1M66 85h1M62 84h1M74 91h1M86 91h1M77 62h1M64 88h1M95 80h1M90 88h1M64 65h1M71 91h1M84 54h1M87 50h1M73 42h1M96 59h1M67 70h1M98 94h1M78 82h1M84 64h1M72 95h1M83 75h1M86 57h1M73 88h1M91 49h1M85 57h1M80 60h1M92 53h1M103 64h1M82 76h1M89 82h1M68 57h1M82 105h1M96 83h1M97 54h1M81 69h1M94 57h1M96 79h1M89 55h1M79 80h1M81 66h1M75 85h1M80 85h1M89 54h1M85 77h1M78 87h1M89 100h1M75 63h1M81 77h1M70 69h1M109 51h1M69 79h1M73 92h1M67 99h1M75 80h1M68 81h1M64 95h1M92 65h1M69 76h1M76 83h1M90 47h1M73 75h1M83 60h1M122 29h1M100 73h1M82 67h1M70 76h1M75 78h1M95 55h1M62 87h1M86 79h1M93 85h1M66 78h1M98 107h1M100 51h1M90 66h1M80 62h1M100 36h1M73 106h1M86 66h1M77 92h1M83 82h1M86 58h1M75 101h1M82 85h1M98 50h1M86 89h1M80 70h1M89 63h1M88 71h1M70 74h1M75 78h1M94 95h1M91 63h1M86 99h1M72 66h1M110 51h1M76 98h1M86 88h1M64 92h1M82 61h1M83 73h1M88 66h1M83 70h1M104 92h1M72 73h1M66 84h1M90 48h1M73 86h1M85 66h1M81 96h1M74 65h1M63 87h1M75 72h1M94 76h1M89 55h1M84 66h1M69 98h1M103 48h1M98 82h1M85 96h1M82 105h1M98 78h1M68 89h1M64 84h1M87 87h1M81 70h1M93 75h1M107 53h1M90 63h1M86 105h1M74 91h1M82 76h1M63 85h1M90 81h1M85 81h1M94 53h1M102 86h1M85 81h1M95 48h1M88 62h1M85 71h1M88 74h1M81 71h1M84 77h1M74 77h1M90 93h1M94 92h1M85 68h1M87 91h1M78 75h1M101 75h1M75 61h1M72 87h1M90 63h1M72 85h1M69 84h1M67 80h1M95 79h1M83 74h1M118 42h1M100 69h1M92 79h1M76 78h1M76 66h1M105 91h1M74 63h1M97 74h1M84 89h1M71 64h1M65 93h1M70 81h1M84 64h1M84 78h1M99 78h1M75 83h1M90 98h1M64 101h1M109 38h1M63 94h1M89 86h1M93 51h1M89 82h1M90 86h1M73 55h1M73 61h1M83 49h1M74 89h1M110 78h1M82 81h1M104 79h1M69 106h1M77 73h1M76 80h1M94 62h1M109 86h1M98 76h1M84 62h1M97 53h1M99 68h1M85 75h1M84 63h1M87 94h1M62 64h1M96 42h1M83 93h1M94 63h1M82 73h1M95 53h1M101 49h1M71 105h1M115 86h1M73 98h1M80 88h1M85 69h1M98 68h1M87 59h1M81 52h1M72 95h1M94 61h1M81 107h1M69 90h1M99 68h1M86 55h1M69 66h1M93 87h1M80 106h1M69 93h1M89 69h1M89 73h1M78 56h1M76 69h1M85 76h1M77 82h1M86 81h1M98 55h1M83 93h1M85 72h1M92 47h1M96 66h1M82 83h1M62 76h1M98 73h1M104 61h1M80 102h1M81 95h1M87 65h1M87 75h1M102 51h1M87 86h1M90 75h1M62 94h1M85 76h1M66 78h1M73 91h1M78 84h1M82 37h1M62 104h1M78 98h1M63 92h1M99 73h1M65 60h1M64 86h1M62 69h1M105 59h1M79 60h1M104 53h1M92 73h1M98 58h1M106 91h1M85 64h1M93 75h1M69 75h1M93 74h1M75 82h1M97 74h1M75 77h1M81 100h1M68 98h1M77 72h1M81 84h1M63 106h1M87 59h1M97 54h1M73 71h1M100 47h1M77 83h1M95 72h1M81 84h1M82 74h1M81 74h1M96 77h1M104 45h1M98 67h1M88 76h1M63 75h1M75 69h1M89 60h1M73 95h1M94 91h1M88 69h1M84 72h1M96 56h1M90 69h1M85 62h1M68 64h1M98 62h1M92 81h1M96 74h1M87 77h1M86 86h1M83 83h1M89 70h1M83 70h1M94 77h1M75 85h1M91 69h1M87 79h1M79 71h1M77 79h1M69 61h1M101 64h1M83 77h1M94 57h1M99 53h1M91 62h1M94 82h1M106 51h1M89 59h1M109 57h1M104 66h1M93 64h1M64 88h1M105 50h1M99 77h1M67 75h1M70 91h1M108 54h1M63 89h1M90 52h1M89 72h1M83 80h1M71 73h1M83 82h1M89 59h1M63 74h1M74 61h1M100 70h1M89 78h1M74 64h1M80 79h1M73 74h1M81 96h1M73 86h1M85 70h1M98 81h1M103 62h1M70 89h1M77 106h1M77 81h1M74 59h1M100 27h1M81 68h1M70 103h1M75 100h1M93 53h1M95 66h1M80 81h1M63 97h1M74 98h1M107 65h1M96 68h1M100 69h1M69 74h1M69 67h1M104 56h1M91 81h1M79 78h1M71 82h1M107 56h1M78 74h1M100 58h1M75 87h1M70 73h1M87 78h1M86 83h1M77 77h1M84 89h1M86 76h1M94 82h1M74 72h1M88 78h1M66 68h1M86 65h1M92 73h1M70 61h1M75 74h1M84 73h1M81 56h1M62 83h1M79 69h1M71 93h1M63 96h1M88 84h1M90 66h1M95 87h1M88 88h1M71 94h1M80 83h1M78 72h1M81 88h1M65 77h1M72 57h1M92 50h1M85 87h1M80 89h1M102 74h1M111 58h1M80 77h1M63 88h1M70 73h1M73 87h1M102 60h1M104 80h1M96 59h1M71 81h1M104 51h1M83 93h1M78 69h1M84 61h1M112 67h1M95 87h1M90 68h1M76 90h1M73 73h1M90 75h1M88 80h1M85 65h1M68 81h1M86 76h1M70 94h1M75 93h1M113 58h1M87 81h1M87 106h1M89 56h1M102 56h1M84 63h1M80 74h1M91 76h1M88 82h1M88 84h1M70 96h1M74 87h1M79 87h1M78 79h1M74 78h1M69 84h1M83 58h1M97 66h1M73 89h1M82 63h1M84 104h1M102 84h1M131 36h1M63 80h1M63 83h1M71 71h1M70 82h1M99 101h1M84 65h1M83 80h1M66 82h1M87 105h1M90 81h1M100 60h1M83 78h1M71 91h1M86 68h1M111 57h1M101 57h1M86 69h1M69 63h1M94 49h1M87 73h1M74 91h1M90 91h1M90 98h1M90 63h1M129 23h1M83 69h1M91 64h1M93 72h1M96 52h1M113 53h1M106 67h1M99 84h1M91 95h1M71 75h1M80 91h1M86 74h1M86 36h1M69 67h1M69 102h1M80 87h1M84 89h1M116 47h1M70 84h1M95 79h1M75 81h1M79 86h1M79 77h1M103 43h1M74 73h1M81 87h1M81 72h1M76 87h1M105 74h1M63 93h1M68 78h1M72 86h1M78 67h1M74 97h1M87 83h1M65 91h1M80 91h1M69 80h1M80 59h1M86 65h1M75 80h1M62 73h1M83 97h1M79 74h1M86 78h1M102 56h1M108 73h1M119 62h1M94 85h1M99 62h1M90 62h1M78 99h1M75 66h1M84 80h1M82 82h1M111 53h1M92 100h1M84 65h1M90 74h1M86 76h1M95 62h1M85 67h1M91 60h1M92 82h1M72 94h1M84 97h1M84 90h1M71 92h1M99 58h1M84 95h1M95 64h1M94 70h1M101 96h1M90 75h1M81 87h1M72 82h1M96 69h1M105 45h1M63 78h1M70 98h1M119 46h1M90 73h1M66 85h1M76 60h1M96 67h1M101 43h1M84 72h1M88 87h1M62 74h1M65 75h1M111 35h1M73 76h1M91 73h1M114 23h1M77 91h1M63 77h1M92 65h1M65 70h1M75 94h1M100 67h1M77 74h1M94 100h1M72 81h1M84 70h1M120 56h1M67 81h1M99 56h1M64 80h1M84 88h1M62 74h1M111 66h1M91 69h1M112 78h1M88 68h1M66 91h1M100 104h1M85 81h1M89 54h1M95 55h1M112 37h1M73 94h1M69 77h1M88 86h1M66 65h1M99 70h1M64 92h1M72 77h1M96 48h1M71 79h1M70 58h1M82 78h1M78 100h1M63 95h1M96 87h1M74 59h1M85 88h1M90 84h1M76 64h1M77 71h1M75 67h1M83 68h1M104 42h1M119 47h1M67 91h1M109 51h1M73 77h1M112 43h1M79 74h1M89 73h1M97 106h1M87 71h1M72 98h1M84 78h1M69 92h1M64 77h1M69 77h1M81 80h1M64 72h1M70 68h1M105 34h1M82 98h1M90 84h1M87 88h1M90 50h1M101 86h1M89 55h1M92 61h1M67 72h1M88 85h1M67 89h1M93 56h1M77 76h1M81 57h1M78 103h1M88 101h1M99 68h1M95 76h1M117 58h1M86 71h1M82 51h1M87 73h1M81 80h1M110 65h1M81 69h1M93 65h1M76 64h1M65 106h1M100 76h1M74 89h1M116 61h1M86 93h1M90 65h1M101 78h1M78 106h1M96 74h1M66 72h1M79 107h1M72 74h1M74 89h1M75 73h1M93 80h1M74 78h1M87 76h1M98 82h1M83 76h1M87 57h1M75 66h1M91 57h1M88 88h1M91 80h1M63 83h1M63 67h1M62 105h1M96 84h1M73 95h1M95 58h1M104 68h1M99 44h1M62 104h1M102 50h1M79 71h1M95 95h1M76 81h1M85 96h1M70 74h1M78 90h1M79 91h1M74 89h1M79 70h1M71 76h1M72 86h1M73 61h1M63 52h1M92 66h1M85 82h1M97 62h1M62 83h1M97 76h1M78 71h1M81 74h1M101 37h1M90 76h1M95 101h1M76 75h1M92 95h1M103 60h1M93 52h1M90 64h1M79 76h1M91 69h1M103 52h1M80 70h1M117 37h1M70 51h1M84 70h1M77 77h1" stroke="#3a52ae" stroke-opacity="0.4" stroke-width="1" transform="translate(0 0.5)"/>
<path d="M119 86h1M102 38h1M111 68h1M111 56h1M91 94h1M108 52h1M128 30h1M132 87h1M122 38h1M107 44h1M102 74h1M104 76h1M101 46h1M119 48h1M98 54h1M112 36h1M76 57h1M120 85h1M107 54h1M111 55h1M110 82h1M102 78h1M116 41h1M103 63h1M133 74h1M105 86h1M116 46h1M110 50h1M118 39h1M132 28h1M106 85h1M111 80h1M92 78h1M133 35h1M111 88h1M105 96h1M103 83h1M106 70h1M89 88h1M108 54h1M127 31h1M120 89h1M122 87h1M108 74h1M112 33h1M96 60h1M130 80h1M106 95h1M118 34h1M125 33h1M96 69h1M127 36h1M96 94h1M102 58h1M115 92h1M81 90h1M87 66h1M99 97h1M135 28h1M118 39h1M91 56h1M105 96h1M115 38h1M116 51h1M108 51h1M99 53h1M115 43h1M131 32h1M92 63h1M90 70h1M100 88h1M119 82h1M98 95h1M112 51h1M127 22h1M115 39h1M114 71h1M129 24h1M107 92h1M130 33h1M119 50h1M140 84h1M125 20h1M123 82h1M100 66h1M115 76h1M80 68h1M91 50h1M107 79h1M103 61h1M108 46h1M108 57h1M119 83h1M123 32h1M108 79h1M114 52h1M131 24h1M147 24h1M135 20h1M97 98h1M101 97h1M125 48h1M107 43h1M108 90h1M109 94h1M113 39h1M96 91h1M118 93h1M127 79h1M136 29h1M109 49h1M100 82h1M110 47h1M111 79h1M127 31h1M105 48h1M117 58h1M123 96h1M138 27h1M145 89h1M92 72h1M122 45h1M104 59h1M106 87h1M120 35h1M112 51h1M103 61h1M117 87h1M127 71h1M110 45h1M128 18h1M98 72h1M108 45h1M135 29h1M101 89h1M105 100h1M143 40h1M119 79h1M138 70h1M115 47h1M110 45h1M123 41h1M105 34h1M93 65h1M104 52h1M80 105h1M135 84h1M94 97h1M93 70h1M117 98h1M123 28h1M123 35h1M103 52h1M89 75h1M136 34h1M109 64h1M126 31h1M83 77h1M120 48h1M105 89h1M136 96h1M106 41h1M107 54h1M106 100h1M127 44h1M125 36h1M106 36h1M110 41h1M108 89h1M93 56h1M99 58h1M118 50h1M138 90h1M102 53h1M94 94h1M128 31h1M98 90h1M103 106h1M140 30h1M124 58h1M84 89h1M107 91h1M118 104h1M114 106h1M73 89h1M141 26h1M126 33h1M117 96h1M132 37h1M114 52h1M110 87h1M107 79h1M131 64h1M89 80h1M103 47h1M109 50h1M110 84h1M127 88h1M123 38h1M107 106h1M111 40h1M106 91h1M136 29h1M101 82h1M96 55h1M129 28h1M134 37h1M117 94h1M124 35h1M113 87h1M102 47h1M119 70h1M138 79h1M105 53h1M103 85h1M92 61h1M119 37h1M106 74h1M114 43h1M118 50h1M123 94h1M107 81h1M108 97h1M122 32h1M103 85h1M135 29h1M123 86h1M115 24h1M86 76h1M96 74h1M94 97h1M109 86h1M99 39h1M124 36h1M140 89h1M111 86h1M126 46h1M77 77h1M116 50h1M138 38h1M107 94h1M95 63h1M115 84h1M86 73h1M128 21h1M120 41h1M121 85h1M81 88h1M84 76h1M108 56h1M119 105h1M102 58h1M83 82h1M97 95h1M120 37h1M112 51h1M105 77h1M116 43h1M95 106h1M117 71h1M114 61h1M112 96h1M106 93h1M125 96h1M114 40h1M110 83h1M110 85h1M108 35h1M114 82h1M122 29h1M98 52h1M100 92h1M105 75h1M108 100h1M103 57h1M107 55h1M82 65h1M107 92h1M129 28h1M121 79h1M123 43h1M122 92h1M115 52h1M121 82h1M120 43h1M118 42h1M80 93h1M136 29h1M133 83h1M103 58h1M130 33h1M94 98h1M112 46h1M117 36h1M94 58h1M81 71h1M146 22h1M130 30h1M136 35h1M104 52h1M143 22h1M94 74h1M107 94h1M135 75h1M128 38h1M87 62h1M117 90h1M114 29h1M123 45h1M123 88h1M102 89h1M113 38h1M100 67h1M118 45h1M114 38h1M139 34h1M117 88h1M128 38h1M106 72h1M105 95h1M99 50h1M75 70h1M90 69h1M118 36h1M98 51h1M103 52h1M121 94h1M105 50h1M135 88h1M123 37h1M106 45h1M99 87h1M111 95h1M112 51h1M98 58h1M89 80h1M82 90h1M111 48h1M120 77h1M80 75h1M104 94h1M141 23h1M125 39h1M88 96h1M130 78h1M125 45h1M109 81h1M107 79h1M101 54h1M120 47h1M115 37h1M111 52h1M106 73h1M87 76h1M110 83h1M131 42h1M123 37h1M109 44h1M93 62h1M97 67h1M99 77h1M122 43h1M101 65h1M121 77h1M122 76h1M108 92h1M76 76h1M109 92h1M109 93h1M106 70h1M116 34h1M126 34h1M120 91h1M101 68h1M137 90h1M112 52h1M139 29h1M105 56h1M113 44h1M123 35h1M104 99h1M75 106h1M135 22h1M130 23h1M92 52h1M120 40h1M102 53h1M113 74h1M90 81h1M114 35h1M108 98h1M108 106h1M121 102h1M110 54h1M101 76h1M113 78h1M90 83h1M113 99h1M123 87h1M94 90h1M126 98h1M125 42h1M103 53h1M151 35h1M94 61h1M128 102h1M124 42h1M95 100h1M125 24h1M123 90h1M103 91h1M116 90h1M140 25h1M100 70h1M90 76h1M115 44h1M131 94h1M143 32h1M123 36h1M87 92h1M101 52h1M120 45h1M109 45h1M131 32h1M127 28h1M126 82h1M118 43h1M115 34h1M117 44h1M134 28h1M104 49h1M107 54h1M114 51h1M89 78h1M129 37h1M115 51h1M91 74h1M91 57h1M110 82h1M133 88h1M127 94h1M105 52h1M128 39h1M112 57h1M87 56h1M123 60h1M129 55h1M96 106h1M132 100h1M112 43h1M121 31h1M131 90h1M99 84h1M100 89h1M112 63h1M133 29h1M129 89h1M112 45h1M116 78h1M108 89h1M99 61h1M132 27h1M114 85h1M115 80h1M138 39h1M135 24h1M109 75h1M128 41h1M134 33h1M125 44h1M114 51h1M107 77h1M121 81h1M97 74h1M100 70h1M103 87h1M109 41h1M120 84h1M109 48h1M122 42h1M136 35h1M118 72h1M116 67h1M88 56h1M110 48h1M121 94h1M133 42h1M134 30h1M89 87h1M116 99h1M115 48h1M123 80h1M117 48h1M124 33h1M128 29h1M107 50h1M94 53h1M128 40h1M148 24h1M121 81h1M121 72h1M109 54h1M126 30h1M126 39h1M112 48h1M112 100h1M127 89h1M111 102h1M97 81h1M102 74h1M109 65h1M135 31h1M107 48h1M122 46h1M114 43h1M111 34h1M138 25h1M105 92h1M128 92h1M119 50h1M119 43h1M91 99h1M122 86h1M110 92h1M100 101h1M138 26h1M99 46h1M116 90h1M131 33h1M126 39h1M118 43h1M102 77h1M123 89h1M117 88h1M130 32h1M114 70h1M122 32h1M98 105h1M111 101h1M97 86h1M106 78h1M97 92h1M110 78h1M109 48h1M136 30h1M127 31h1M101 47h1M91 63h1M112 85h1M98 94h1M93 91h1M122 74h1M120 92h1M114 35h1M86 56h1M100 94h1M77 102h1M124 37h1M100 50h1M120 40h1M91 67h1M96 89h1M118 32h1M97 43h1M114 56h1M108 86h1M109 44h1M133 24h1M102 44h1M121 79h1M83 92h1M112 52h1M109 78h1M122 85h1M103 70h1M140 29h1M124 27h1M107 66h1M139 76h1M96 106h1M76 77h1M119 43h1M115 74h1M142 92h1M117 51h1M117 37h1M115 39h1M143 18h1M113 73h1M85 62h1M107 42h1M102 59h1M125 34h1M108 53h1M89 77h1M126 83h1M94 83h1M107 55h1M121 37h1M128 84h1M102 101h1M95 90h1M117 43h1M97 87h1M123 37h1M92 94h1M103 84h1M111 46h1M105 105h1M119 43h1M98 47h1M127 81h1M105 45h1M116 96h1M97 41h1M92 59h1M103 93h1M103 99h1M74 74h1M115 51h1M113 82h1M114 57h1M122 104h1M115 75h1M107 106h1M122 30h1M98 83h1M131 91h1M94 89h1M86 104h1M90 61h1M107 91h1M128 101h1M130 26h1M109 91h1M129 41h1M122 82h1M127 28h1M144 87h1M133 25h1M110 66h1M136 100h1M119 34h1M114 106h1M111 97h1M119 43h1M96 56h1M129 31h1M107 98h1M95 92h1M87 99h1M110 44h1M136 38h1M114 72h1M82 63h1M151 86h1M107 84h1M109 85h1M135 28h1M111 75h1M110 52h1M105 106h1M104 87h1M107 61h1M98 47h1M142 26h1M113 60h1M119 40h1M138 32h1M108 96h1M104 47h1M127 28h1M100 46h1M87 67h1M92 56h1M105 53h1M85 73h1M98 101h1M92 59h1M110 106h1M105 82h1M126 95h1M98 94h1M73 73h1M104 75h1M107 45h1M94 66h1M99 55h1M110 60h1M127 31h1M105 81h1M110 56h1M125 37h1M132 90h1M97 90h1M106 94h1M99 74h1M136 19h1M106 56h1M105 52h1M103 95h1M111 51h1M93 90h1M130 33h1M111 46h1M109 77h1M145 18h1M101 82h1M102 82h1M81 64h1M107 47h1M118 79h1M109 73h1M121 88h1M122 30h1M102 46h1M94 93h1M104 96h1M94 49h1M100 50h1M115 45h1M117 93h1M115 100h1M134 37h1M122 82h1M96 75h1M106 56h1M133 40h1M102 51h1M101 91h1M128 45h1M142 31h1M111 36h1M86 83h1M117 70h1M109 74h1M129 23h1M134 27h1M104 94h1M105 44h1M127 46h1M120 48h1M104 54h1M94 81h1M149 23h1M128 86h1M130 61h1M115 81h1M130 84h1M108 98h1M69 77h1M98 88h1M101 55h1M123 31h1M95 93h1M110 75h1M108 52h1M127 77h1M128 45h1M134 83h1M117 83h1M92 57h1M108 60h1M77 90h1M117 81h1M98 44h1M125 98h1M110 50h1M124 98h1M134 24h1M114 89h1M114 37h1M116 48h1M137 19h1M93 65h1M120 93h1M102 54h1M97 67h1M118 44h1M112 44h1M109 92h1M114 78h1M118 34h1M81 64h1M122 31h1M112 43h1M128 86h1M104 43h1M127 53h1M114 53h1M102 90h1M107 90h1M84 92h1M108 52h1M91 91h1M99 57h1M97 88h1M142 31h1M104 81h1M110 49h1M109 54h1M113 35h1M92 101h1M108 39h1M98 77h1M119 36h1M100 99h1M122 49h1M115 43h1M111 40h1M79 68h1M88 107h1M118 65h1M129 27h1M137 26h1M89 79h1M86 72h1M117 83h1M118 79h1M122 94h1M103 54h1M125 25h1M120 81h1M102 55h1M115 68h1M106 95h1M146 106h1M118 53h1M102 51h1M91 69h1M123 72h1M128 69h1M116 52h1M95 92h1M95 61h1M108 80h1M88 63h1M111 42h1M117 40h1M106 85h1M127 31h1M96 57h1M87 102h1M111 43h1M109 63h1M111 43h1M100 105h1M100 89h1M123 70h1M124 91h1M91 57h1M121 86h1M101 55h1M114 52h1M127 72h1M116 101h1M117 48h1M114 90h1M111 83h1M129 36h1M120 98h1M130 23h1M140 106h1M111 87h1M112 74h1M98 75h1M98 56h1M122 43h1M120 44h1M97 84h1M124 84h1M109 51h1M107 75h1M136 54h1M92 61h1M122 33h1M123 31h1M90 66h1M101 54h1M122 86h1M107 77h1M103 85h1M123 41h1M150 19h1M100 71h1M96 98h1M113 51h1M128 38h1M104 60h1M113 73h1M141 90h1M111 80h1M126 42h1M130 106h1M77 97h1M130 29h1M124 47h1M110 50h1M139 29h1M97 72h1M127 58h1M91 107h1M137 93h1M113 77h1M124 90h1M112 92h1M104 56h1M130 39h1M125 29h1M112 70h1M120 35h1M129 30h1M149 28h1M116 91h1M96 82h1M133 35h1M121 43h1M112 50h1M75 58h1M117 72h1M108 84h1M126 45h1M104 53h1M108 92h1M108 53h1M108 86h1M130 102h1M87 80h1M119 53h1M118 92h1M117 34h1M96 53h1M110 47h1M118 84h1M120 30h1M98 103h1M114 37h1M116 81h1M130 32h1M112 92h1M115 34h1M98 55h1M139 27h1M100 102h1M90 89h1M88 76h1M113 53h1M108 86h1M136 25h1M106 100h1M105 92h1M134 28h1M115 52h1M92 79h1M89 59h1M148 26h1M144 22h1M126 51h1M107 84h1M106 51h1M126 33h1M137 78h1M106 94h1M137 25h1M113 45h1M128 84h1M104 62h1M123 92h1M134 31h1M84 74h1M114 44h1M133 30h1M105 42h1M108 38h1M107 81h1M137 79h1M129 103h1M129 18h1M144 28h1M123 92h1M97 76h1M123 88h1M130 33h1M133 23h1M137 26h1M120 85h1M123 64h1M106 52h1M136 24h1M108 99h1M122 59h1M93 65h1M112 76h1M111 69h1M111 45h1M89 95h1M102 94h1M136 31h1M117 48h1M137 31h1M138 75h1M99 56h1M102 89h1M142 79h1M90 92h1M105 62h1M83 77h1M118 36h1M123 29h1M99 87h1M99 70h1M134 89h1M112 88h1M108 100h1M115 99h1M131 25h1M133 26h1M118 67h1M105 60h1M88 86h1M125 30h1M124 33h1M108 54h1M118 96h1M101 57h1M120 37h1M122 82h1M97 42h1M105 81h1M92 62h1M109 35h1M105 50h1M88 55h1M118 33h1M125 91h1M115 35h1M141 27h1M117 54h1M119 38h1M98 98h1M108 47h1M100 61h1M75 87h1M110 41h1M105 56h1M116 38h1M90 98h1M135 90h1M99 75h1M128 84h1M102 52h1M126 30h1M90 60h1M130 46h1M102 97h1M97 95h1M118 91h1M114 84h1M97 55h1M117 48h1M111 49h1M99 74h1M106 45h1M115 78h1M83 107h1M130 32h1M88 87h1M119 34h1M128 79h1M114 92h1M124 91h1M100 52h1M130 99h1M89 98h1M112 100h1M110 50h1M124 33h1M98 88h1M116 48h1M115 49h1M128 33h1M122 75h1M101 53h1M107 55h1M86 99h1M108 52h1M119 99h1M130 23h1M127 34h1M95 54h1M127 38h1M97 99h1M108 37h1M122 80h1M125 38h1M112 73h1M129 29h1M114 80h1M92 59h1M83 72h1M118 85h1M109 63h1M104 84h1M119 84h1M138 31h1M125 50h1M100 89h1M97 102h1M81 106h1M131 34h1M81 71h1M103 94h1M115 76h1M109 60h1M125 25h1M106 85h1M99 64h1M132 74h1M111 41h1M92 80h1M115 48h1M132 23h1M94 60h1M142 102h1M128 43h1M100 47h1M115 36h1M133 22h1M119 92h1M129 37h1M134 31h1M125 32h1M123 31h1M105 60h1M121 42h1M116 50h1M91 75h1M96 42h1M96 82h1M111 50h1M114 37h1M109 43h1M111 93h1M139 25h1M115 44h1M100 88h1M112 100h1M83 98h1M113 93h1M108 51h1M123 44h1M134 27h1M106 49h1M114 42h1M112 51h1M118 58h1M105 46h1M123 77h1M105 60h1M114 88h1M124 82h1M120 80h1M113 68h1M123 41h1M99 54h1M130 33h1M106 45h1M120 76h1M95 46h1M112 94h1M122 38h1M132 25h1M124 87h1M116 39h1M110 80h1M117 33h1M135 30h1M91 60h1M103 71h1M106 83h1M97 54h1M111 97h1M97 46h1M96 63h1M111 78h1M82 93h1M128 24h1M116 95h1M118 40h1M124 38h1M120 87h1M91 60h1M108 78h1M119 86h1M101 76h1M98 89h1M105 52h1M119 99h1M119 65h1M112 45h1M108 58h1M113 99h1M111 46h1M107 93h1M106 65h1M95 89h1M99 86h1M88 93h1M111 81h1M105 87h1M133 33h1M124 51h1M103 43h1M118 89h1M100 92h1M145 25h1M121 83h1M135 76h1M142 23h1M102 82h1M87 62h1M88 106h1M127 36h1M134 25h1M126 93h1M101 80h1M115 39h1M104 88h1M108 68h1M100 59h1M122 93h1M101 48h1M94 58h1M107 54h1M104 55h1M107 45h1M120 90h1M103 77h1M109 42h1M116 82h1M111 101h1M91 67h1M108 57h1M101 52h1M106 48h1M130 41h1M107 62h1M97 88h1M112 74h1M120 50h1M137 25h1M101 92h1M105 93h1M128 32h1M99 92h1M117 46h1M92 56h1M115 49h1M109 81h1M122 48h1M148 18h1M109 56h1M133 25h1M98 79h1M96 102h1M141 64h1M134 18h1M81 70h1M101 105h1M97 61h1M130 36h1M105 79h1M128 38h1M116 51h1M109 45h1M101 89h1M142 73h1M133 35h1M103 94h1M92 80h1M84 83h1M109 84h1M140 22h1M78 80h1M110 51h1M119 84h1M112 55h1M125 37h1M147 28h1M88 76h1M135 39h1M127 28h1M116 55h1M98 69h1M106 78h1M87 67h1M116 31h1M115 89h1M110 88h1M101 64h1M99 79h1M108 99h1M93 54h1M107 88h1M132 91h1M123 72h1M89 101h1M91 80h1M119 85h1M106 98h1M114 75h1M96 55h1M131 31h1M117 49h1M130 41h1M138 32h1M117 75h1M130 37h1M120 85h1M90 58h1M110 52h1M99 81h1M111 48h1M111 75h1M121 38h1M120 80h1M94 106h1M101 96h1M115 93h1M111 99h1M98 48h1M119 26h1M114 39h1M131 80h1M128 34h1M129 78h1M107 90h1M144 24h1M101 76h1M132 35h1M126 78h1M100 101h1M143 101h1M114 45h1M131 26h1M110 79h1M115 104h1M115 38h1M124 92h1M120 46h1M144 92h1M120 30h1M82 64h1M135 22h1M119 42h1M109 78h1M131 90h1M112 59h1M106 60h1M104 91h1M136 40h1M136 27h1M125 29h1M109 88h1M97 83h1M119 92h1M139 20h1M117 27h1M118 50h1M112 56h1M132 30h1M120 71h1M73 90h1M129 80h1M119 82h1M124 31h1M82 72h1M122 38h1M115 45h1M125 71h1M105 48h1M89 83h1M128 32h1M128 96h1M120 85h1M128 29h1M102 49h1M127 97h1M135 31h1M144 75h1M126 31h1M133 35h1M113 100h1M137 26h1M118 85h1M122 94h1M98 83h1M108 53h1M114 93h1M112 88h1M119 32h1M112 84h1M113 102h1M122 96h1M93 95h1M105 90h1M141 89h1M127 31h1M91 92h1M107 57h1M108 83h1M94 96h1M116 76h1M95 56h1M91 51h1M99 49h1M116 41h1M136 97h1M105 42h1M111 76h1M120 30h1M124 39h1M98 53h1M107 89h1M107 90h1M127 34h1M128 39h1M142 26h1M128 30h1M111 47h1M118 43h1M114 91h1M112 102h1M107 55h1M101 94h1M134 18h1M110 74h1M90 54h1M128 36h1M94 106h1M123 84h1M120 97h1M114 37h1M128 35h1M126 78h1M127 26h1M135 32h1M106 71h1M104 94h1M123 75h1M99 78h1M142 28h1M96 100h1M106 79h1M117 29h1M119 45h1M119 98h1M106 43h1M83 62h1M88 81h1M105 69h1M123 96h1M106 50h1M86 61h1M129 83h1M104 89h1M103 44h1M116 54h1M94 90h1M108 68h1M115 76h1M119 32h1M126 35h1M136 29h1M105 70h1M94 102h1M119 90h1M100 66h1M98 59h1M104 50h1M132 27h1M109 74h1M106 44h1M91 89h1M120 47h1M101 53h1M123 71h1M134 36h1M136 27h1M117 77h1M131 31h1M88 99h1M125 34h1M106 94h1M125 35h1M114 45h1M119 54h1M104 84h1M140 24h1M97 99h1M101 47h1M119 88h1M99 53h1M93 58h1M101 60h1M108 69h1M99 62h1M128 75h1M101 79h1M101 94h1M147 20h1M106 50h1M106 106h1M84 71h1M96 87h1M115 40h1M104 61h1M116 38h1M111 106h1M101 99h1M127 80h1M138 65h1M93 61h1M124 95h1M101 84h1M124 35h1M108 57h1M95 57h1M108 93h1M136 34h1M135 25h1M108 92h1M96 54h1M107 81h1M120 82h1M113 43h1M96 106h1M127 44h1M134 106h1M111 56h1M120 30h1M105 80h1M134 44h1M104 65h1M118 84h1M93 60h1M131 34h1M133 96h1M86 69h1M102 52h1M89 52h1M138 24h1M115 80h1M107 97h1M121 37h1M137 22h1M88 74h1M136 25h1M135 87h1M115 81h1M113 39h1M122 32h1M95 53h1M93 57h1M122 36h1M103 97h1M98 95h1M102 55h1M117 83h1M126 74h1M88 90h1M111 88h1M137 96h1M117 85h1M144 27h1M119 45h1M133 22h1M105 73h1M114 48h1M108 57h1M96 53h1M124 42h1M108 67h1M123 49h1M99 56h1M123 41h1M84 85h1M119 84h1M107 52h1M98 55h1M115 34h1M92 81h1M121 81h1M86 85h1M105 101h1M136 32h1M106 91h1M91 88h1M96 55h1M92 88h1" stroke="#5262b8" stroke-opacity="0.3" stroke-width="1" transform="translate(0 0.5)"/>
<rect x="61.5" y="17.2" width="91.5" height="91" fill="none" stroke="#909090" stroke-width="0.9"/>
<text x="61.8" y="115.8" font-size="4.6" text-anchor="middle" fill="#3a3a3a">10<tspan font-size="3.22" dy="-1.5">0</tspan></text>
<text x="84.67" y="115.8" font-size="4.6" text-anchor="middle" fill="#3a3a3a">10<tspan font-size="3.22" dy="-1.5">1</tspan></text>
<text x="107.55" y="115.8" font-size="4.6" text-anchor="middle" fill="#3a3a3a">10<tspan font-size="3.22" dy="-1.5">2</tspan></text>
<text x="130.43" y="115.8" font-size="4.6" text-anchor="middle" fill="#3a3a3a">10<tspan font-size="3.22" dy="-1.5">3</tspan></text>
<text x="153.3" y="115.8" font-size="4.6" text-anchor="middle" fill="#3a3a3a">10<tspan font-size="3.22" dy="-1.5">4</tspan></text>
<text x="58.9" y="109.9" font-size="4.6" text-anchor="end" fill="#3a3a3a">10<tspan font-size="3.22" dy="-1.5">0</tspan></text>
<text x="58.9" y="87.15" font-size="4.6" text-anchor="end" fill="#3a3a3a">10<tspan font-size="3.22" dy="-1.5">1</tspan></text>
<text x="58.9" y="64.4" font-size="4.6" text-anchor="end" fill="#3a3a3a">10<tspan font-size="3.22" dy="-1.5">2</tspan></text>
<text x="58.9" y="41.65" font-size="4.6" text-anchor="end" fill="#3a3a3a">10<tspan font-size="3.22" dy="-1.5">3</tspan></text>
<text x="58.9" y="18.9" font-size="4.6" text-anchor="end" fill="#3a3a3a">10<tspan font-size="3.22" dy="-1.5">4</tspan></text>
<path d="M61.5 108.2v1.6M68.39 108.2v1M72.41 108.2v1M75.27 108.2v1M77.49 108.2v1M79.3 108.2v1M80.83 108.2v1M82.16 108.2v1M83.33 108.2v1M84.38 108.2v1.6M91.26 108.2v1M95.29 108.2v1M98.15 108.2v1M100.36 108.2v1M102.18 108.2v1M103.71 108.2v1M105.03 108.2v1M106.2 108.2v1M107.25 108.2v1.6M114.14 108.2v1M118.16 108.2v1M121.02 108.2v1M123.24 108.2v1M125.05 108.2v1M126.58 108.2v1M127.91 108.2v1M129.08 108.2v1M130.12 108.2v1.6M137.01 108.2v1M141.04 108.2v1M143.9 108.2v1M146.11 108.2v1M147.93 108.2v1M149.46 108.2v1M150.78 108.2v1M151.95 108.2v1M61.5 108.2h-1.6M61.5 101.35h-1M61.5 97.35h-1M61.5 94.5h-1M61.5 92.3h-1M61.5 90.5h-1M61.5 88.97h-1M61.5 87.65h-1M61.5 86.49h-1M61.5 85.45h-1.6M61.5 78.6h-1M61.5 74.6h-1M61.5 71.75h-1M61.5 69.55h-1M61.5 67.75h-1M61.5 66.22h-1M61.5 64.9h-1M61.5 63.74h-1M61.5 62.7h-1.6M61.5 55.85h-1M61.5 51.85h-1M61.5 49h-1M61.5 46.8h-1M61.5 45h-1M61.5 43.47h-1M61.5 42.15h-1M61.5 40.99h-1M61.5 39.95h-1.6M61.5 33.1h-1M61.5 29.1h-1M61.5 26.25h-1M61.5 24.05h-1M61.5 22.25h-1M61.5 20.72h-1M61.5 19.4h-1M61.5 18.24h-1" stroke="#999" stroke-width="0.6"/>
<path d="M103.1 17.2L103.1 63" stroke="#c0b6c6" stroke-width="0.8"/>
<path d="M103.1 63L153 63" stroke="#c0b6c6" stroke-width="0.8"/>
<text x="152.3" y="24.4" font-size="5.8" text-anchor="end" font-weight="bold">1.06</text>
<path d="M224 80h1M204 85h1M222 41h1M207 68h1M232 83h1M205 93h1M215 38h1M219 47h1M196 55h1M214 44h1M200 66h1M206 50h1M250 29h1M196 99h1M216 67h1M242 24h1M211 63h1M193 91h1M196 98h1M202 103h1M191 96h1M189 107h1M200 87h1M189 94h1M229 36h1M231 30h1M208 107h1M198 64h1M221 49h1M199 97h1M209 64h1M209 48h1M209 77h1M210 67h1M216 60h1M191 102h1M232 86h1M220 41h1M235 25h1M209 56h1M200 53h1M218 44h1M195 57h1M203 71h1M197 69h1M207 107h1M222 33h1M196 56h1M200 96h1M208 50h1M205 85h1M213 91h1M216 48h1M213 46h1M195 76h1M228 36h1M253 19h1M234 35h1M211 60h1M207 72h1M197 97h1M199 72h1M218 96h1M203 58h1M220 61h1M210 51h1M207 104h1M255 21h1M199 64h1M213 59h1M229 88h1M198 92h1M208 80h1M224 33h1M195 59h1M205 46h1M224 39h1M199 97h1M209 64h1M212 55h1M205 76h1M196 72h1M212 71h1M213 56h1M209 85h1M221 36h1M222 42h1M216 38h1M204 62h1M204 88h1M214 50h1M213 42h1M245 29h1M203 49h1M203 65h1M216 43h1M238 22h1M212 81h1M202 56h1M218 57h1M239 26h1M224 36h1M228 39h1M212 66h1M193 77h1M210 63h1M218 50h1M234 25h1M245 26h1M228 44h1M211 61h1M198 86h1M198 97h1M206 67h1M204 65h1M205 96h1M229 29h1M221 50h1M223 100h1M189 70h1M224 100h1M214 49h1M195 89h1M229 41h1M189 77h1M250 25h1M228 30h1M223 45h1M194 69h1M206 64h1M223 41h1M212 47h1M202 66h1M210 71h1M217 36h1M215 52h1M207 54h1M205 57h1M227 68h1M232 26h1M215 48h1M202 70h1M215 72h1M199 97h1M200 97h1M240 26h1M203 90h1M231 80h1M198 104h1M192 90h1M213 48h1M215 42h1M216 61h1M249 24h1M219 36h1M230 29h1M205 93h1M227 32h1M207 59h1M190 100h1M203 60h1M190 76h1M203 61h1M203 65h1M206 50h1M200 83h1M236 34h1M215 51h1M228 23h1M196 99h1M192 90h1M229 38h1M217 47h1M204 60h1M197 88h1M202 79h1M196 72h1M198 105h1M234 29h1M212 90h1M241 25h1M222 42h1M204 62h1M220 78h1M223 40h1M211 62h1M228 78h1M219 52h1M205 74h1M240 19h1M199 98h1M236 28h1M199 64h1M189 91h1M240 21h1M218 85h1M226 87h1M191 73h1M190 102h1M202 55h1M245 21h1M234 30h1M206 63h1M194 76h1M247 21h1M197 62h1M250 82h1M198 54h1M205 59h1M215 33h1M211 46h1M197 64h1M211 55h1M212 49h1M250 31h1M213 68h1M200 89h1M215 105h1M201 71h1M206 80h1M191 85h1M229 29h1M215 52h1M222 63h1M234 38h1M189 101h1M219 41h1M205 50h1M214 72h1M231 98h1M225 85h1M197 101h1M208 60h1M196 79h1M205 106h1M228 76h1M237 34h1M188 71h1M198 55h1M229 38h1M207 63h1M216 41h1M196 104h1M244 26h1M238 39h1M211 61h1M229 28h1M194 92h1M238 28h1M195 103h1M236 23h1M244 27h1M237 90h1M222 62h1M219 48h1M222 36h1M198 74h1M204 69h1M200 63h1M228 35h1M199 63h1M199 65h1M215 47h1M226 29h1M221 46h1M190 70h1M204 63h1M232 28h1M193 102h1M210 80h1M195 101h1M189 84h1M205 61h1M236 75h1M229 45h1M214 44h1M223 35h1M233 27h1M222 47h1M212 46h1M215 56h1M226 37h1M215 106h1M198 98h1M207 58h1M210 97h1M196 89h1M210 62h1M201 105h1M195 102h1M226 30h1M218 42h1M214 56h1M210 58h1M209 53h1M225 95h1M219 38h1M218 46h1M234 80h1M201 72h1M203 64h1M210 96h1M231 27h1M206 100h1M216 76h1M197 66h1M238 26h1M205 96h1M236 85h1M199 62h1M211 105h1M236 27h1M209 107h1M225 41h1M199 103h1M222 54h1M211 60h1M208 46h1M225 70h1M207 106h1M219 41h1M226 23h1M188 106h1M225 46h1M228 35h1M197 88h1M197 56h1M209 90h1M202 61h1M215 58h1M240 24h1M203 60h1M203 100h1M235 31h1M203 52h1M229 38h1M213 79h1M189 91h1M199 68h1M196 75h1M205 57h1M226 35h1M202 62h1M189 93h1M195 67h1M194 89h1M221 41h1M198 102h1M225 26h1M240 26h1M236 20h1M211 90h1M203 67h1M238 24h1M212 90h1M196 93h1M208 53h1M211 67h1M202 61h1M203 104h1M201 78h1M253 24h1M207 85h1M210 92h1M223 53h1M204 86h1M189 104h1M200 102h1M227 34h1M189 73h1M215 87h1M217 82h1M228 84h1M196 100h1M208 81h1M199 98h1M242 27h1M197 99h1M237 30h1M215 47h1M216 43h1M237 22h1M250 24h1M206 53h1M215 61h1M205 60h1M210 59h1M191 103h1M240 28h1M237 26h1M250 21h1M213 58h1M200 71h1M217 48h1M196 100h1M201 93h1M252 21h1M226 36h1M200 95h1M242 27h1M215 45h1M202 49h1M201 70h1M205 60h1M204 79h1M229 65h1M224 31h1M214 81h1M214 61h1M233 32h1M190 60h1M230 80h1M205 106h1M199 70h1M193 70h1M194 63h1M193 91h1M202 69h1M205 96h1M228 36h1M215 66h1M248 22h1M248 28h1M211 62h1M220 40h1M216 74h1M226 38h1M212 43h1M208 64h1M196 67h1M196 85h1M219 57h1M230 55h1M220 93h1M189 80h1M215 50h1M194 106h1M245 27h1M219 37h1M216 46h1M199 96h1M211 53h1M212 63h1M200 66h1M208 88h1M252 23h1M222 38h1M204 85h1M204 96h1M222 41h1M198 66h1M202 60h1M202 99h1M213 61h1M222 36h1M190 85h1M218 45h1M231 37h1M210 56h1M194 68h1M201 69h1M207 75h1M219 85h1M192 65h1M214 60h1M202 105h1M238 24h1M199 101h1M212 37h1M203 49h1M223 45h1M205 74h1M204 85h1M251 20h1M208 37h1M192 71h1M239 32h1M189 104h1M218 63h1M222 74h1M218 39h1M211 61h1M205 95h1M206 48h1M256 20h1M208 58h1M216 81h1M215 60h1M223 50h1M204 57h1M202 97h1M201 58h1M199 92h1M213 53h1M200 84h1M198 81h1M201 64h1M222 89h1M217 50h1M203 66h1M201 94h1M227 35h1M191 96h1M206 91h1M219 35h1M212 73h1M200 62h1M211 81h1M214 48h1M210 82h1M210 61h1M238 23h1M208 87h1M222 81h1M194 101h1M198 96h1M199 96h1M214 61h1M200 64h1M212 47h1M209 53h1M210 102h1M217 50h1M222 41h1M197 66h1M222 51h1M214 75h1M204 89h1M224 45h1M221 98h1M223 68h1M237 27h1M206 91h1M197 54h1M211 44h1M207 81h1M208 62h1M218 42h1M219 36h1M194 73h1M215 46h1M208 53h1M230 72h1M224 45h1M206 55h1M208 47h1M228 45h1M207 59h1M212 87h1M191 84h1M221 36h1M201 64h1M223 38h1M193 86h1M236 31h1M222 43h1M210 65h1M213 56h1M221 53h1M199 104h1M190 97h1M194 61h1M227 27h1M216 104h1M215 44h1M219 63h1M188 107h1M189 90h1M236 31h1M229 32h1M212 56h1M234 25h1M193 69h1M194 101h1M230 38h1M204 99h1M240 25h1M216 97h1M224 38h1M206 77h1M188 74h1M193 64h1M211 63h1M215 103h1M191 94h1M194 80h1M219 44h1M222 85h1M191 75h1M209 82h1M202 106h1M218 49h1M194 74h1M209 56h1M204 56h1M212 64h1M205 68h1M217 45h1M200 100h1M197 73h1M214 67h1M188 70h1M198 77h1M218 106h1M255 18h1M189 75h1M233 29h1M201 76h1M202 61h1M223 46h1M221 39h1M201 71h1M197 61h1M196 77h1M217 43h1M198 58h1M188 81h1M207 102h1M246 24h1M203 87h1M201 83h1M209 50h1M212 81h1M211 55h1M216 48h1M211 52h1M189 85h1M218 37h1M223 30h1M213 52h1M204 57h1M211 103h1M220 36h1M224 46h1M206 100h1M207 53h1M204 88h1M227 32h1M221 56h1M201 65h1M241 24h1M200 76h1M201 71h1M203 93h1M247 24h1M192 70h1M213 74h1M213 63h1M205 48h1M228 41h1M209 91h1M206 56h1M188 103h1M197 70h1M201 73h1M204 84h1M199 75h1M245 25h1M206 65h1M212 55h1M249 19h1M221 33h1M197 98h1M196 80h1M211 66h1M207 73h1M259 28h1M189 98h1M199 99h1M223 84h1M202 61h1M223 42h1M199 55h1M203 63h1M223 62h1M197 57h1M207 46h1M224 40h1M235 27h1M202 60h1M193 76h1M201 104h1M199 89h1M205 60h1M199 102h1M192 72h1M248 27h1M204 100h1M204 62h1M189 76h1M245 23h1M195 64h1M189 75h1M198 71h1M197 101h1M220 45h1M206 101h1M210 48h1M204 54h1M198 103h1M202 63h1M222 82h1M208 65h1M213 52h1M207 47h1M201 99h1M223 33h1M220 73h1M256 22h1M221 54h1M244 19h1M209 104h1M206 57h1M203 72h1M194 97h1M203 62h1M193 79h1M188 72h1M230 25h1M204 89h1M206 107h1M192 74h1M195 107h1M242 20h1M210 61h1M199 55h1M214 53h1M246 30h1M239 23h1M238 31h1M198 107h1M203 57h1M204 46h1M240 23h1M217 46h1M223 77h1M208 56h1M199 56h1M199 96h1M213 71h1M234 27h1M191 70h1M196 76h1M216 52h1M228 47h1M210 90h1M188 79h1M214 54h1M221 46h1M203 60h1M258 23h1M222 24h1M199 70h1M192 67h1M202 89h1M206 63h1M201 73h1M234 41h1M217 46h1M204 100h1M228 30h1M200 80h1M217 61h1M206 107h1M205 66h1M220 57h1M221 34h1M241 20h1M192 100h1M228 28h1M197 72h1M219 87h1M213 57h1M200 83h1M244 22h1M202 78h1M206 71h1M224 34h1M211 61h1M201 78h1M199 97h1M235 29h1M212 41h1M211 95h1M238 25h1M215 71h1M220 41h1M192 96h1M203 60h1M213 80h1M202 64h1M190 105h1M202 68h1M204 88h1M204 64h1M206 101h1M234 31h1M207 50h1M206 76h1M217 45h1M225 31h1M209 70h1M197 62h1M242 21h1M192 67h1M200 65h1M202 56h1M198 73h1M205 49h1M195 73h1M210 65h1M199 73h1M189 72h1M225 36h1M238 19h1M211 53h1M199 106h1M204 104h1M205 92h1M215 58h1M194 97h1M196 105h1M236 29h1M205 101h1M202 55h1M202 67h1M202 98h1M213 62h1M231 42h1M189 86h1M213 97h1M194 97h1M198 68h1M210 55h1M235 28h1M213 87h1M210 80h1M209 76h1M214 50h1M194 87h1M200 87h1M198 82h1M207 76h1M211 57h1M193 84h1M199 68h1M205 71h1M202 56h1M204 56h1M228 38h1M202 83h1M223 40h1M189 74h1M208 54h1M213 39h1M206 58h1M193 105h1M219 51h1M210 50h1M203 99h1M204 80h1M218 48h1M216 38h1M221 23h1M225 39h1M196 104h1M242 30h1M236 22h1M208 52h1M235 31h1M216 67h1M204 100h1M201 73h1M201 85h1M214 63h1M231 26h1M248 25h1M214 48h1M202 71h1M189 85h1M217 58h1M221 36h1M193 80h1M200 58h1M254 21h1M203 53h1M214 77h1M195 96h1M221 94h1M192 76h1M203 73h1M227 35h1M208 87h1M200 87h1M203 56h1M188 77h1M196 70h1M222 87h1M207 93h1M201 67h1M206 47h1M205 59h1M208 57h1M200 98h1M211 60h1M209 54h1M214 87h1M208 102h1M195 75h1M203 64h1M195 94h1M197 98h1M210 75h1M203 99h1M236 33h1M200 98h1M218 44h1M218 45h1M217 69h1M240 28h1M210 74h1M204 60h1M219 48h1M241 28h1M222 36h1M220 42h1M231 92h1M188 94h1M196 102h1M227 29h1M198 77h1M231 46h1M221 35h1M188 102h1M195 67h1M257 24h1M249 22h1M213 97h1M223 49h1M205 58h1M225 37h1M215 92h1M226 38h1M195 73h1M207 96h1M194 59h1M233 28h1M208 64h1M199 82h1M217 59h1M226 31h1M226 87h1M222 77h1M218 41h1M199 62h1M200 74h1M190 73h1M202 77h1M212 79h1M199 63h1M223 54h1M218 38h1M192 98h1M201 84h1M215 44h1M221 35h1M205 84h1M219 54h1M205 58h1M210 65h1M214 56h1M220 45h1M194 60h1M211 58h1M225 40h1M211 53h1M211 63h1M217 41h1M202 107h1M221 39h1M202 73h1M200 105h1M208 68h1M210 48h1M239 32h1M208 70h1M208 98h1M202 57h1M217 99h1M222 59h1M200 99h1M199 62h1M235 23h1M242 30h1M213 85h1M208 56h1M209 70h1M198 100h1M203 97h1M202 91h1M243 22h1M224 43h1M222 44h1M218 57h1M210 106h1M211 55h1M240 26h1M201 107h1M204 90h1M220 92h1M224 46h1M200 90h1M221 44h1M193 107h1M234 29h1M213 50h1M202 83h1M230 32h1M220 41h1M215 53h1M226 40h1M216 53h1M201 85h1M218 77h1M215 58h1M251 25h1M201 56h1M247 25h1M227 43h1M206 102h1M252 21h1M206 62h1M221 36h1M206 99h1M196 84h1M207 51h1M237 31h1M224 31h1M217 65h1M214 73h1M233 32h1M208 74h1M193 90h1M215 47h1M204 62h1M202 96h1M229 50h1M228 34h1M197 52h1M226 36h1M216 77h1M237 29h1M221 31h1M242 22h1M217 52h1M197 70h1M204 79h1M197 95h1M205 50h1M224 27h1M236 26h1M196 59h1M216 54h1M203 74h1M195 61h1M243 25h1M208 52h1M218 49h1M229 29h1M199 88h1M214 79h1M215 79h1M204 67h1M235 28h1M227 33h1M241 27h1M190 67h1M209 72h1M220 66h1M225 40h1M203 98h1M213 45h1M218 47h1M218 45h1M237 32h1M238 30h1M233 28h1M198 64h1M208 75h1M212 64h1M188 81h1M235 24h1M239 30h1M214 64h1M205 92h1M196 74h1M217 33h1M211 48h1M197 65h1M202 65h1M197 87h1M234 30h1M206 103h1M202 102h1M213 47h1M212 45h1M197 99h1M214 52h1M217 40h1M219 40h1M202 86h1M203 55h1M231 26h1M230 32h1M214 73h1M222 37h1M211 98h1M219 40h1M195 65h1M215 48h1M201 77h1M230 40h1M201 104h1M216 51h1M200 90h1M196 94h1M210 42h1M203 50h1M225 33h1M210 62h1M189 94h1M213 64h1M199 97h1M228 37h1M210 68h1M235 21h1M244 30h1M201 59h1M238 37h1M206 92h1M216 103h1M202 106h1M211 76h1M222 49h1M202 60h1M216 49h1M205 92h1M199 59h1M202 94h1M204 99h1M219 43h1M221 38h1M216 57h1M207 90h1M227 33h1M227 40h1M220 39h1M233 21h1M230 64h1M236 25h1M201 77h1M206 101h1M219 65h1M206 96h1M206 60h1M201 100h1M198 100h1M238 32h1M201 94h1M218 47h1M205 80h1M225 26h1M231 40h1M189 100h1M216 47h1M234 28h1M198 77h1M200 67h1M198 76h1M259 18h1M229 37h1M216 49h1M195 51h1M206 107h1M213 97h1M225 61h1M209 65h1M209 97h1M227 29h1M192 100h1M202 51h1M219 67h1M210 54h1M211 99h1M211 48h1M194 79h1M241 25h1M240 27h1M193 90h1M231 21h1M213 56h1M197 82h1M201 92h1M202 62h1M213 42h1M214 57h1M221 54h1M200 95h1M189 96h1M210 65h1M197 107h1M213 57h1M204 54h1M206 57h1M204 49h1M199 88h1M197 89h1M222 46h1M191 84h1M214 52h1M224 75h1M206 47h1M217 34h1M202 58h1M233 74h1M222 57h1M191 75h1M200 78h1M212 89h1M201 106h1M217 50h1M209 54h1M218 38h1M213 51h1M224 75h1M207 52h1M220 45h1M229 41h1M216 52h1M193 74h1M188 93h1M226 35h1M222 42h1M221 73h1M246 28h1M227 24h1M196 75h1M201 96h1M216 67h1M193 85h1M203 94h1M201 81h1M205 96h1M204 91h1M218 43h1M249 24h1M200 62h1M215 58h1M194 63h1M217 45h1M219 77h1M229 37h1M208 66h1M217 57h1M206 74h1M218 89h1M217 41h1M204 66h1M197 81h1M230 33h1M195 67h1M218 68h1M192 76h1M189 88h1M196 76h1M203 84h1M197 102h1M216 55h1M195 81h1M240 24h1M191 79h1M210 62h1M206 74h1M190 104h1M205 95h1M201 65h1M189 84h1M199 99h1M193 69h1M201 80h1M199 70h1M233 61h1M206 90h1M194 79h1M212 49h1M220 41h1M233 28h1M202 65h1M210 33h1M208 90h1M233 36h1M202 70h1M200 96h1M229 33h1M201 60h1M213 55h1M221 42h1M200 91h1M199 61h1M205 54h1M211 60h1M193 105h1M203 83h1M209 60h1M214 75h1M195 88h1M225 42h1M188 107h1M206 100h1M236 35h1M202 68h1M211 55h1M190 83h1M205 72h1M209 84h1M225 36h1M198 57h1M208 49h1M196 92h1M212 66h1M205 85h1M196 64h1M226 52h1M200 57h1M235 34h1M207 52h1M214 45h1M221 49h1M207 65h1M251 28h1M194 64h1M224 38h1M226 34h1M208 81h1M246 29h1M218 28h1M222 40h1M250 20h1M197 69h1M201 53h1M205 99h1M237 24h1M220 77h1M188 65h1M210 44h1M195 66h1M221 42h1M229 25h1M202 99h1M235 30h1M214 68h1M218 40h1M217 43h1M212 62h1M201 62h1M232 24h1M202 56h1M213 96h1M205 92h1M213 97h1M233 37h1M196 98h1M231 29h1M203 73h1M197 55h1M219 64h1M207 66h1M201 70h1M224 52h1M206 105h1M225 43h1M189 107h1M242 26h1M229 33h1M194 69h1M194 67h1M196 73h1M243 29h1M211 86h1M203 64h1M191 99h1M226 28h1M213 69h1M207 58h1M209 54h1M219 88h1M233 35h1M194 72h1M237 28h1M201 83h1M243 19h1M198 71h1M245 32h1M223 55h1M231 21h1M209 89h1M214 73h1M228 40h1M225 40h1M199 99h1M190 91h1M224 34h1M199 72h1M223 81h1M209 103h1M203 54h1M202 57h1M204 77h1M204 62h1M206 65h1M209 68h1M228 41h1M222 30h1M229 35h1M209 61h1M205 101h1M189 76h1M221 76h1M215 48h1M198 94h1M189 94h1M229 23h1M202 97h1M201 57h1M197 60h1M194 69h1M201 54h1M222 43h1M216 77h1M203 60h1M209 61h1M230 27h1M215 86h1M204 87h1M241 21h1M227 44h1M225 68h1M222 48h1M231 75h1M224 43h1M202 70h1M220 42h1M230 43h1M217 50h1M197 106h1M193 103h1M194 69h1M207 97h1M204 91h1M219 54h1M201 57h1M207 72h1M199 83h1M226 34h1M211 55h1M232 27h1M215 44h1M219 42h1M199 93h1M226 41h1M213 70h1M219 56h1M203 67h1M206 104h1M208 100h1M220 54h1M213 74h1M191 75h1M208 98h1M241 30h1M207 85h1M236 19h1M191 85h1M203 92h1M213 46h1M204 68h1M214 83h1M199 92h1M230 44h1M198 75h1M211 44h1M219 47h1M206 71h1M190 66h1M241 21h1M234 28h1M195 66h1M200 80h1M220 64h1M196 85h1M228 41h1M197 68h1M191 75h1M216 78h1M210 59h1M206 68h1M214 44h1M194 90h1M230 35h1M190 103h1M208 55h1M202 58h1M217 48h1M196 107h1M207 71h1M218 55h1M195 101h1M239 24h1M202 55h1M202 66h1M192 92h1M201 56h1M199 107h1M230 40h1M188 96h1M229 43h1M212 49h1M195 95h1M209 49h1M191 75h1M250 25h1M207 96h1M221 47h1M196 81h1M210 59h1M226 33h1M192 97h1M216 57h1M195 72h1M208 64h1M202 76h1M238 72h1M203 82h1M192 60h1M198 49h1M205 55h1M235 29h1M189 107h1M189 100h1M200 70h1M196 66h1M202 77h1M196 69h1M228 28h1M190 107h1M189 82h1M233 19h1M197 64h1M203 97h1M207 84h1M200 85h1M237 29h1M194 80h1M199 66h1M221 38h1M224 42h1M189 83h1M207 75h1M217 100h1M213 49h1M195 104h1M225 39h1M210 58h1M193 95h1M219 32h1M217 51h1M216 53h1M210 52h1M210 48h1M203 57h1M222 35h1M208 60h1M213 87h1M215 62h1M241 24h1M209 77h1M197 102h1M222 57h1M206 61h1M201 81h1M240 31h1M188 94h1M196 63h1M206 56h1M198 107h1M192 79h1M201 63h1M214 59h1M220 33h1M190 87h1M203 61h1M192 93h1M219 36h1M196 71h1M200 67h1M231 32h1M233 31h1M196 68h1M196 93h1M215 45h1M211 51h1M194 63h1M197 95h1M243 25h1M230 40h1M200 71h1M212 92h1M198 107h1M231 33h1M228 27h1M196 104h1M197 91h1M203 71h1M210 47h1M235 21h1M202 47h1M216 59h1M194 82h1M210 66h1M244 23h1M247 22h1M216 39h1M211 52h1M209 82h1M236 39h1M203 54h1M234 31h1M199 102h1M204 65h1M206 60h1M222 30h1M196 94h1M235 35h1M192 93h1M195 98h1M203 72h1M214 82h1M201 88h1M208 75h1M208 67h1M210 70h1M192 71h1M211 46h1M195 70h1M210 68h1M189 92h1M211 69h1M205 59h1M211 72h1M198 99h1M209 57h1M201 91h1M205 52h1M208 51h1M200 100h1M222 81h1M215 92h1M208 49h1M233 38h1M220 46h1M204 80h1M190 104h1M195 67h1M238 78h1M193 97h1M227 45h1M208 103h1M194 100h1M197 104h1M210 62h1M203 100h1M201 107h1M213 46h1M189 86h1M226 29h1M199 98h1M234 26h1M217 43h1M195 74h1M217 78h1M194 100h1M195 91h1M204 56h1M246 27h1M217 82h1M245 27h1M205 72h1M193 59h1M201 59h1M219 46h1M203 75h1M257 21h1M211 50h1M213 44h1M192 102h1M225 63h1M201 97h1M195 94h1M206 75h1M217 53h1M215 49h1M190 81h1M195 66h1M207 74h1M209 93h1M213 63h1M219 43h1M207 89h1M205 60h1M218 45h1M202 104h1M193 94h1M212 57h1M216 47h1M201 55h1M189 92h1M230 79h1M247 24h1M203 71h1M196 63h1M217 84h1M214 96h1M200 81h1M194 64h1M215 54h1M229 36h1M238 28h1M195 96h1M220 49h1M195 105h1M197 90h1M256 21h1M199 99h1M198 66h1M211 53h1M207 66h1M201 80h1M191 93h1M209 101h1M189 88h1M217 71h1M196 98h1M199 60h1M202 93h1M209 88h1M219 94h1M195 59h1M221 37h1M223 35h1M195 72h1M196 89h1M215 94h1M204 86h1M193 63h1M224 50h1M236 43h1M200 71h1M215 50h1M210 82h1M234 27h1M227 29h1M196 88h1M214 58h1M209 61h1M189 87h1M218 56h1M204 98h1M199 73h1M191 82h1M190 103h1M198 86h1M200 48h1M195 101h1M224 39h1M202 64h1M201 86h1M189 72h1M207 94h1M218 49h1M218 42h1M235 35h1M228 32h1M206 60h1M201 90h1M209 59h1M234 35h1M216 80h1M209 60h1M237 33h1M200 89h1M206 54h1M257 23h1M227 30h1M205 47h1M205 59h1M204 100h1M218 62h1M242 28h1M198 58h1M188 101h1M222 40h1M200 62h1M228 42h1M191 53h1M215 53h1M222 49h1M212 94h1M193 55h1M207 94h1M195 81h1M200 64h1M215 86h1M206 62h1M212 73h1M196 89h1M220 37h1M206 93h1M207 60h1M216 51h1M193 64h1M221 33h1M205 66h1M200 72h1M196 55h1M196 90h1M225 42h1M206 67h1M221 57h1M206 74h1M196 62h1M214 48h1M218 40h1M196 64h1M208 52h1M210 63h1M212 52h1M204 48h1M200 75h1M188 92h1M235 32h1M218 92h1M208 49h1M199 106h1M215 57h1M223 34h1M202 103h1M205 56h1M199 63h1M214 91h1M203 58h1M198 63h1M230 22h1M202 64h1M243 22h1M191 68h1M212 69h1M199 92h1M196 88h1M208 54h1M201 98h1M225 33h1M219 60h1M241 20h1M219 48h1M217 65h1M199 89h1M192 86h1M214 51h1M224 45h1M209 47h1M195 69h1M202 105h1M197 65h1M192 57h1M193 101h1M212 69h1M205 49h1M203 80h1M196 74h1M221 77h1M195 73h1M202 84h1M213 83h1M203 99h1M201 100h1M209 57h1M208 58h1M218 38h1M214 63h1M194 69h1M227 51h1M234 29h1M209 57h1M195 102h1M216 30h1M230 40h1M216 47h1M247 32h1M197 90h1M202 107h1M236 22h1M206 82h1M210 46h1M217 104h1M207 52h1M194 71h1M197 100h1M221 36h1M202 65h1M220 47h1M195 71h1M239 21h1M228 21h1M213 86h1M239 21h1M218 106h1M199 69h1M215 57h1M208 82h1M235 32h1M189 85h1M193 69h1M210 64h1M196 98h1M229 32h1M208 70h1M220 68h1M210 50h1M203 79h1M213 59h1M211 45h1M213 69h1M200 65h1M215 56h1M202 71h1M246 23h1M207 57h1M201 96h1M197 88h1M227 39h1M199 66h1M222 90h1M223 84h1M202 73h1M221 38h1M208 78h1M198 86h1M221 94h1M257 19h1M212 97h1M222 53h1M196 83h1M189 97h1M208 54h1M241 23h1M235 25h1M204 91h1M198 92h1M224 42h1M227 38h1M207 53h1M195 103h1M229 37h1M201 58h1M237 19h1M191 83h1M208 56h1M193 77h1M193 79h1M202 65h1M210 47h1M215 44h1M233 35h1M205 58h1M214 64h1M194 78h1M238 28h1M219 87h1M205 74h1M199 79h1M189 72h1M189 97h1M222 60h1M242 19h1M196 59h1M255 25h1M210 43h1M205 83h1M209 94h1M219 51h1M222 43h1M233 75h1M205 97h1M189 90h1M197 91h1M198 82h1M213 50h1M198 79h1M197 100h1M208 60h1M210 67h1M194 78h1M205 66h1M211 62h1M226 38h1M206 95h1M203 95h1M228 36h1M207 103h1M229 84h1M196 106h1M199 58h1M245 22h1M216 63h1M203 87h1M189 71h1M215 82h1M205 67h1M195 94h1M231 36h1M188 72h1M233 39h1M210 58h1M198 59h1M227 36h1M224 78h1M206 92h1M195 85h1M214 46h1M238 22h1M223 84h1M199 80h1M197 74h1M198 72h1M218 48h1M189 77h1M212 55h1M205 50h1M216 42h1M211 49h1M202 85h1M220 37h1M207 63h1M191 96h1M213 53h1M203 63h1M245 18h1M229 34h1M247 29h1M212 104h1M209 64h1M233 28h1M191 76h1M197 60h1M192 105h1M208 61h1M228 55h1M202 77h1M234 71h1M208 73h1M209 63h1M202 75h1M191 50h1M223 53h1M214 50h1M199 65h1M224 91h1M220 35h1M213 49h1M225 37h1M194 71h1M195 58h1M195 105h1M203 99h1M193 79h1M204 71h1M222 74h1M217 40h1M198 78h1M208 54h1M217 72h1M203 95h1M231 29h1M213 61h1M231 29h1M213 65h1M204 87h1M215 42h1M200 96h1M204 58h1M204 92h1M212 34h1M213 73h1M201 93h1M196 93h1M229 41h1M208 69h1M206 87h1M213 42h1M195 81h1M200 91h1M251 25h1M225 39h1M240 32h1M206 92h1M194 80h1M231 29h1M188 75h1M228 31h1M215 38h1M196 72h1M206 58h1M234 28h1M189 77h1M224 36h1M238 65h1M221 52h1M209 60h1M199 98h1M225 50h1M215 85h1M236 34h1M202 53h1M225 45h1M202 62h1M218 59h1M199 86h1M210 56h1M221 37h1M198 60h1M200 73h1M224 46h1M222 42h1M194 68h1M252 23h1M205 67h1M189 98h1M209 47h1M206 64h1M210 57h1M196 82h1M242 36h1M211 46h1M203 60h1M215 51h1M204 70h1M199 73h1M201 86h1M192 96h1M233 31h1M191 70h1M218 45h1M206 87h1M212 65h1M204 94h1M206 52h1M208 76h1M220 37h1M248 24h1M199 91h1M203 86h1M190 98h1M199 79h1M215 52h1M224 36h1M214 53h1M189 104h1M202 89h1M222 39h1M189 89h1M240 40h1M202 65h1M200 85h1M220 41h1M199 96h1M218 39h1M202 61h1M219 51h1M242 22h1M206 60h1M217 56h1M201 82h1M197 69h1M231 34h1M225 44h1M221 37h1M226 43h1M211 93h1M232 36h1M234 23h1M232 38h1M196 102h1M215 88h1M210 79h1M214 102h1M203 81h1M246 18h1M189 64h1M221 75h1M197 68h1M191 66h1M201 96h1M215 59h1M244 28h1M211 101h1M203 58h1M211 86h1M195 83h1M198 83h1M208 71h1M211 100h1M191 85h1M201 105h1M196 91h1M212 63h1M193 88h1M198 103h1M202 87h1M192 101h1M220 37h1M209 41h1M211 46h1M195 79h1M193 66h1M208 93h1M222 43h1M201 75h1M227 35h1M199 56h1M216 56h1M194 88h1M189 96h1M188 74h1M196 47h1M207 73h1M189 87h1M250 21h1M212 89h1M231 39h1M194 95h1M209 45h1M220 40h1M212 52h1M204 51h1M200 73h1M241 27h1M233 96h1M192 69h1M206 99h1M199 63h1M219 38h1M200 73h1M208 84h1M227 36h1M193 92h1M223 100h1M206 68h1M207 105h1M226 51h1M236 32h1M200 78h1M231 32h1M213 83h1M214 88h1M205 74h1M196 103h1M200 66h1M208 46h1M244 20h1M217 58h1M246 20h1M224 31h1M224 48h1M205 55h1M222 50h1M217 42h1M190 75h1M236 23h1M198 99h1M240 29h1M227 62h1M204 53h1M207 48h1M206 82h1M237 19h1M198 97h1M203 94h1M206 88h1M243 24h1M195 67h1M214 49h1M197 91h1M213 55h1M202 67h1M210 56h1M243 21h1M250 24h1M213 99h1M190 65h1M222 50h1M189 75h1M205 66h1M222 49h1M208 62h1M200 92h1M204 68h1M222 81h1M205 64h1M239 26h1M222 45h1M197 74h1M217 73h1M197 107h1M240 93h1M200 71h1M212 73h1M223 87h1M210 80h1M231 36h1M202 76h1M202 82h1M207 47h1M231 37h1M211 70h1M252 26h1M234 28h1M203 47h1M197 70h1M231 74h1M198 63h1M215 58h1M190 86h1M212 49h1M206 74h1M208 45h1M210 52h1M212 77h1M219 48h1M200 80h1M189 69h1M216 39h1M195 55h1M207 87h1M247 21h1M203 54h1M209 56h1M203 99h1M209 104h1M193 65h1M218 47h1M233 23h1M214 72h1M190 73h1M195 91h1M199 71h1M221 42h1M218 76h1M212 47h1M224 31h1M222 39h1M225 34h1M218 56h1M194 69h1M202 105h1M223 52h1M259 24h1M212 63h1M214 72h1M198 96h1M237 28h1M214 48h1M249 23h1M201 101h1M225 41h1M192 94h1M205 60h1M195 97h1M217 47h1M216 62h1M210 69h1M198 97h1M218 75h1M201 89h1M199 61h1M221 42h1M218 55h1M207 51h1M203 103h1M206 72h1M195 91h1M220 39h1M221 31h1M198 70h1M209 51h1M214 53h1M198 99h1M209 103h1M207 99h1M215 37h1M199 68h1M202 59h1M212 50h1M214 59h1M213 40h1M192 102h1M204 58h1M248 21h1M193 60h1M191 93h1M212 47h1M224 37h1M203 58h1M193 99h1M201 62h1M225 36h1M211 46h1M207 68h1M218 95h1M218 50h1M205 67h1M238 26h1M240 27h1M221 31h1M209 56h1M212 99h1M195 75h1M203 65h1M200 55h1M194 65h1M209 63h1M250 30h1M231 33h1M237 38h1M215 33h1M190 99h1M196 104h1M200 82h1M231 76h1M207 52h1M209 50h1M198 98h1M202 77h1M196 85h1M221 49h1M207 107h1M213 41h1M237 19h1M218 48h1M205 74h1M220 40h1M240 21h1M202 60h1M217 59h1M194 87h1M232 32h1M213 53h1M207 72h1M207 43h1M238 29h1M204 72h1M189 98h1M199 91h1M232 33h1M211 74h1M205 55h1M215 73h1M208 58h1M196 76h1M209 104h1M218 37h1M207 84h1M192 72h1M198 75h1M190 63h1M215 100h1M199 58h1M208 76h1M236 23h1M223 73h1M209 86h1M203 56h1M223 54h1M212 65h1M190 103h1M235 27h1M197 107h1M222 87h1M220 37h1M233 30h1M199 54h1M206 104h1M205 83h1M214 90h1M207 53h1M193 104h1M204 96h1M245 33h1M220 39h1M200 72h1M222 96h1M228 91h1M208 62h1M203 61h1M223 45h1M231 41h1M226 69h1M206 58h1M189 75h1M193 100h1M219 33h1M203 71h1M202 61h1M213 56h1M249 21h1M191 73h1M230 31h1M238 31h1M202 82h1M191 91h1M222 73h1M209 84h1M219 37h1M224 46h1M197 98h1M193 64h1M207 58h1M192 101h1M206 80h1M200 68h1M235 28h1M193 87h1M200 74h1M205 63h1M197 96h1M195 100h1M207 42h1M196 62h1M197 99h1M204 66h1M193 77h1M196 77h1M239 29h1M226 33h1M225 40h1M250 21h1M209 73h1M201 65h1M209 61h1M205 70h1M214 47h1M258 20h1M203 82h1M214 52h1M222 82h1M207 79h1M216 56h1M256 23h1M232 26h1M199 65h1M193 64h1M257 23h1M202 74h1M201 73h1M200 76h1M215 54h1M217 88h1M188 105h1M206 77h1M220 46h1M228 62h1M209 45h1M241 24h1M220 35h1M205 64h1M202 63h1M242 28h1M210 56h1M216 51h1M210 61h1M199 59h1M193 76h1M242 23h1M244 25h1M217 44h1M242 22h1M228 41h1M199 87h1M205 63h1M199 80h1M218 93h1M194 66h1M202 92h1M207 48h1M218 70h1M203 90h1M218 32h1M199 58h1M190 84h1M214 49h1M208 62h1M207 98h1M194 101h1M204 106h1M189 74h1M214 88h1M206 103h1M205 70h1M211 85h1M189 91h1M191 105h1M232 30h1M243 19h1M211 96h1M229 36h1M244 32h1M214 52h1M203 69h1M216 78h1M206 50h1M198 77h1M230 43h1M196 70h1M219 51h1M204 72h1M206 91h1M222 46h1M197 71h1M209 59h1M205 49h1M220 48h1M194 91h1M238 26h1M198 73h1M207 73h1M217 38h1M232 24h1M203 101h1M210 59h1M191 95h1M199 75h1M225 36h1M205 60h1M208 96h1M208 80h1M213 39h1M210 106h1M226 81h1M212 62h1M236 20h1M198 89h1M233 33h1M204 75h1M192 74h1M194 100h1M244 24h1M202 66h1M195 92h1M210 48h1M224 24h1M199 62h1M228 27h1M208 63h1M236 60h1M209 47h1M216 68h1M203 100h1M202 91h1M249 21h1M216 60h1M201 90h1M192 89h1M197 74h1M204 65h1M243 19h1M222 41h1M213 53h1M206 73h1M231 35h1M203 85h1M204 53h1M199 58h1M199 69h1M205 76h1M205 65h1M228 33h1M194 93h1M207 76h1M216 44h1M235 27h1M199 85h1M212 58h1M235 27h1M243 31h1M213 100h1M239 86h1M202 85h1M196 81h1M222 46h1M191 77h1M194 77h1M189 82h1M200 79h1M198 99h1M215 60h1M200 62h1M205 48h1M219 43h1M214 53h1M220 45h1M205 107h1M202 93h1M196 63h1M220 46h1M231 36h1M225 46h1M214 105h1M191 96h1M201 106h1M220 37h1M240 30h1M210 68h1M193 85h1M209 87h1M190 100h1M198 66h1M218 55h1M189 96h1M208 62h1M205 62h1M193 81h1M199 85h1M197 99h1M204 70h1M195 75h1M200 60h1M219 35h1M201 72h1M199 70h1M217 56h1M218 48h1M203 98h1M212 50h1M211 57h1M207 56h1M232 33h1M198 58h1M206 65h1M218 77h1M209 69h1M230 44h1M200 99h1M196 62h1M243 25h1M216 81h1M237 31h1M192 68h1M208 66h1M204 54h1M199 95h1M240 21h1M199 63h1M222 41h1M211 49h1M210 68h1M197 103h1M202 59h1M203 63h1M230 35h1M200 81h1M220 97h1M197 90h1M202 72h1M197 66h1M213 49h1M221 32h1M212 63h1M216 54h1M226 52h1M218 48h1M191 86h1M204 64h1M212 60h1M198 75h1M217 88h1M217 43h1M216 36h1M191 89h1M219 47h1M208 86h1M238 28h1M232 26h1M201 103h1M224 35h1M233 22h1M217 51h1M211 66h1M206 72h1M215 57h1M235 66h1M237 30h1M200 101h1M231 36h1M203 61h1M242 24h1M221 47h1M205 57h1M225 34h1M193 71h1M235 27h1M215 72h1M192 54h1M212 67h1M200 88h1M217 58h1M208 100h1M198 61h1M226 32h1M194 64h1M211 48h1M206 64h1M202 79h1M199 82h1M220 50h1M214 54h1M211 52h1M189 74h1M207 82h1M203 64h1M193 59h1M193 69h1M243 28h1M200 58h1M200 78h1M209 105h1M227 43h1M203 54h1M197 77h1M218 53h1M195 76h1M205 62h1M241 33h1M230 36h1M198 56h1M204 78h1M199 67h1M203 64h1M224 80h1M201 97h1M208 91h1M210 85h1M208 59h1M242 34h1M189 64h1M193 107h1M207 61h1M198 64h1M215 66h1M248 21h1M190 65h1M202 66h1M218 50h1M231 35h1M205 79h1M215 46h1M229 33h1M205 70h1M203 87h1M212 52h1M206 75h1M213 49h1M205 67h1M203 97h1M193 103h1M189 93h1M219 58h1M219 92h1M213 64h1M237 28h1M213 58h1M230 34h1M224 35h1M216 53h1M203 98h1M196 93h1M201 74h1M199 83h1M207 55h1M204 67h1M215 62h1M202 69h1M255 21h1M234 36h1M198 95h1M203 63h1M228 24h1M200 84h1M211 57h1M226 34h1M218 33h1M205 83h1M192 77h1M238 33h1M208 75h1M191 91h1M223 37h1M201 106h1M208 53h1M195 90h1M204 103h1M224 24h1M200 81h1M234 26h1M210 66h1M225 87h1M197 62h1M200 49h1M206 73h1M190 75h1M235 23h1M230 31h1M221 39h1M213 97h1M226 93h1M196 67h1M195 101h1M210 53h1M240 37h1M190 84h1M205 60h1M199 98h1M200 73h1M212 81h1M197 99h1M227 18h1M226 37h1M209 96h1M224 82h1M206 62h1M188 93h1M194 106h1M255 22h1M240 32h1M211 98h1M202 81h1M204 69h1M206 48h1M243 27h1M249 21h1M193 66h1M216 73h1M220 37h1M207 61h1M203 83h1M191 97h1M207 104h1M202 57h1M211 66h1M189 92h1M215 48h1M206 80h1M232 29h1M191 98h1M202 91h1M205 69h1M198 53h1M191 72h1M207 54h1M207 78h1M209 78h1M198 64h1M213 61h1M204 72h1M208 42h1M205 47h1M201 101h1M206 64h1M238 34h1M212 92h1M212 81h1M210 54h1M210 46h1M193 106h1M202 74h1M201 97h1M226 34h1M207 64h1M206 55h1M201 62h1M219 88h1M225 32h1M196 104h1M222 52h1M198 68h1M201 62h1M206 57h1M226 35h1M194 91h1M213 41h1M209 50h1M232 67h1M194 69h1M191 85h1M217 43h1M204 83h1M201 88h1M220 62h1M207 104h1M201 59h1M240 30h1M227 32h1M216 72h1M209 70h1M208 62h1M221 70h1M211 70h1M199 63h1M202 81h1M202 106h1M220 51h1M217 57h1M198 93h1M205 97h1M202 61h1M208 60h1M229 48h1M196 77h1M229 40h1M205 56h1M240 22h1M229 37h1M240 82h1M221 27h1M188 92h1M223 55h1M220 86h1M226 40h1M203 64h1M199 61h1M212 71h1M193 73h1M221 43h1M200 82h1M205 95h1M248 24h1M209 57h1M212 45h1M200 98h1M189 106h1M199 80h1M197 83h1M217 44h1M210 85h1M212 56h1M204 85h1M213 55h1M218 55h1M216 52h1M204 66h1M196 50h1M205 97h1M194 97h1M204 63h1M227 35h1M232 25h1M200 65h1M211 49h1M190 70h1M221 48h1M204 84h1M216 50h1M220 39h1M192 96h1M238 33h1M249 26h1M222 45h1M208 50h1M220 31h1M239 26h1M189 87h1M233 31h1M203 52h1M207 56h1M238 31h1M194 75h1M221 88h1M205 78h1M199 88h1M198 57h1M189 96h1M221 45h1M229 39h1M221 44h1M199 59h1M213 66h1M202 72h1M189 100h1M209 68h1M200 88h1M210 74h1M252 23h1M234 32h1M212 88h1M204 75h1M209 57h1M231 27h1M192 72h1M205 50h1M203 61h1M212 60h1M197 91h1M215 80h1M217 58h1M194 99h1M226 38h1M203 96h1M247 22h1M200 70h1M203 59h1M217 91h1M214 92h1M203 70h1M199 65h1M196 62h1M194 61h1M191 103h1M211 71h1M218 39h1M193 77h1M209 91h1M236 25h1M205 73h1M196 81h1M234 62h1M204 94h1M199 63h1M234 32h1M236 21h1M213 51h1M189 86h1M219 72h1M203 91h1M211 53h1M231 27h1M211 53h1M217 35h1M195 78h1M195 87h1M222 39h1M196 71h1M226 27h1M207 66h1M238 34h1M207 67h1M240 29h1M203 61h1M217 49h1M200 59h1M206 58h1M222 28h1M218 81h1M196 55h1M224 81h1M188 84h1M238 25h1M225 45h1M201 81h1M207 50h1M199 65h1M223 43h1M198 67h1M210 74h1M218 66h1M207 62h1M198 89h1M190 88h1M219 42h1M207 82h1M210 90h1M230 39h1M205 65h1M203 54h1M191 87h1M229 28h1M207 92h1M193 56h1M197 89h1M240 23h1M191 79h1M192 69h1M204 61h1M209 51h1M189 101h1M207 104h1M240 28h1M243 28h1M217 66h1M234 29h1M200 107h1M214 45h1M246 27h1M255 20h1M208 53h1M213 69h1M204 100h1M203 75h1M204 53h1M218 34h1M231 32h1M206 55h1M199 85h1M212 60h1M243 25h1M211 92h1M204 77h1M227 40h1M188 79h1M204 70h1M235 28h1M196 67h1M208 94h1M225 37h1M226 82h1M210 48h1M236 85h1M199 59h1M207 60h1M207 87h1M200 102h1M212 53h1M199 73h1M223 38h1M215 49h1M213 58h1M202 89h1M232 34h1M217 52h1M196 102h1M227 39h1M214 46h1M208 75h1M205 65h1M218 62h1M190 99h1M210 83h1M191 72h1M237 21h1M192 77h1M222 75h1M212 50h1M200 59h1M207 61h1M215 107h1M194 66h1M209 58h1M243 18h1M219 43h1M190 84h1M236 25h1M227 37h1M203 68h1M215 81h1M204 69h1M209 50h1M202 73h1M205 61h1M202 85h1M189 107h1M193 65h1M228 31h1M215 66h1M200 106h1M199 74h1M205 98h1M197 59h1M195 69h1M200 99h1M232 27h1M200 69h1M208 48h1M217 43h1M197 106h1M202 80h1M193 55h1M200 106h1M200 76h1M217 60h1M203 61h1M214 47h1M219 57h1M224 37h1M214 52h1M218 30h1M212 55h1M235 33h1M208 50h1M213 52h1M210 60h1M255 21h1M200 61h1M223 82h1M217 63h1M194 87h1M226 40h1M201 99h1M214 51h1M199 64h1M209 63h1M197 62h1M189 100h1M212 82h1M199 79h1M219 50h1M208 97h1M228 40h1M202 66h1M208 56h1M202 64h1M210 59h1M216 49h1M223 43h1M207 57h1M211 64h1M224 40h1M223 63h1M222 31h1M207 64h1M204 86h1M206 51h1M189 102h1M212 82h1M236 33h1M219 52h1M209 64h1M256 19h1M198 70h1M190 85h1M213 58h1M256 23h1M217 52h1M204 107h1M228 37h1M197 100h1M200 54h1M195 95h1M191 68h1M212 61h1M218 47h1M202 101h1M200 76h1M210 48h1M213 48h1M206 52h1M217 43h1M224 36h1M207 66h1M221 49h1M228 40h1M209 68h1M218 93h1M216 59h1M217 83h1M205 77h1M232 33h1M202 94h1M232 38h1M236 98h1M217 49h1M220 46h1M227 38h1M238 19h1M216 106h1M196 81h1M212 69h1M216 65h1M199 65h1M223 45h1M203 87h1M222 36h1M210 55h1M226 33h1M238 30h1M201 101h1M189 94h1M229 40h1M223 49h1M201 97h1M196 70h1M219 43h1M221 37h1M210 52h1M201 94h1M189 68h1M221 54h1M239 24h1M215 50h1M206 62h1M212 51h1M224 44h1M205 97h1M214 78h1M205 52h1M197 68h1M233 32h1M208 48h1M224 30h1M195 106h1M198 97h1M209 58h1M210 54h1M200 85h1M218 42h1M245 20h1M228 39h1M224 48h1M199 67h1M215 74h1M222 41h1M234 38h1M208 75h1M202 58h1M241 24h1M206 51h1M218 34h1M223 45h1M228 31h1M191 92h1M227 32h1M198 64h1M222 43h1M251 24h1M222 34h1M248 23h1M240 25h1M210 66h1M196 75h1M219 48h1M221 95h1M199 92h1M213 42h1M228 28h1M226 69h1M199 83h1M199 66h1M223 34h1M232 26h1M200 67h1M221 44h1M203 85h1M214 50h1M210 46h1M234 26h1M209 93h1M193 82h1M207 68h1M238 26h1M239 23h1M188 68h1M238 33h1M228 29h1M200 48h1M208 63h1M206 57h1M202 65h1M212 55h1M241 28h1M206 96h1M189 78h1M228 40h1M203 61h1M227 75h1M217 42h1M200 60h1M241 30h1M202 69h1M200 57h1M214 55h1M243 21h1M206 61h1M216 47h1M217 49h1M202 86h1M237 21h1M239 28h1M193 76h1M232 30h1M191 98h1M221 53h1M205 99h1M214 55h1M222 84h1M216 42h1M209 71h1M195 62h1M216 48h1M249 72h1M221 39h1M203 65h1M224 33h1M213 54h1M216 44h1M234 24h1M192 68h1M204 64h1M199 82h1M217 49h1M226 38h1M208 68h1M192 90h1M210 103h1M247 26h1M215 57h1M210 54h1M228 45h1M240 34h1M208 101h1M210 95h1M212 52h1M218 59h1M200 61h1M245 28h1M198 72h1M240 29h1M205 70h1M206 64h1M208 72h1M198 82h1M214 40h1M194 97h1M202 94h1M206 83h1M220 80h1M192 76h1M209 53h1M244 30h1M209 82h1M200 91h1M189 66h1M238 22h1M228 32h1M189 68h1M225 40h1M203 91h1M199 86h1M228 23h1M206 78h1M267 23h1M224 32h1M221 39h1M242 18h1M227 40h1M211 81h1M204 59h1M206 43h1M200 79h1M202 68h1M228 27h1M205 56h1M198 97h1M206 60h1M219 47h1M200 103h1M194 67h1M199 65h1M199 62h1M219 95h1M239 32h1M256 27h1M193 68h1M188 95h1M214 40h1M213 73h1M206 57h1M249 21h1M211 83h1M210 68h1M208 60h1M189 107h1M213 56h1M202 72h1M198 100h1M204 88h1M245 26h1M189 86h1M225 36h1M206 62h1M193 65h1M224 29h1M246 21h1M196 75h1M218 45h1M210 80h1M209 53h1M237 31h1M230 23h1M207 55h1M202 51h1M215 85h1M221 39h1M211 76h1M196 71h1M196 96h1M205 60h1M200 82h1M207 50h1M210 107h1M216 48h1M204 98h1M209 52h1M213 95h1M225 27h1M210 53h1M229 35h1M196 74h1M196 41h1M205 55h1M205 64h1M193 70h1M214 80h1M209 54h1M189 75h1M206 58h1M202 91h1M193 77h1M213 40h1M194 75h1M218 50h1M194 93h1M214 53h1M193 65h1M196 58h1M220 56h1M191 80h1M206 71h1M231 34h1M207 58h1M201 104h1M197 78h1M221 47h1M206 65h1M203 58h1M201 70h1M217 91h1M227 46h1M190 91h1M215 76h1M195 101h1M213 49h1M199 87h1M189 77h1M213 61h1M212 62h1M236 29h1M248 27h1M253 23h1M240 23h1M206 48h1M237 29h1M200 102h1M211 52h1M209 85h1M196 71h1M201 92h1M206 96h1M195 75h1M193 66h1M209 57h1M208 98h1M197 100h1M208 89h1M214 74h1M211 49h1M194 80h1M225 39h1M219 37h1M220 52h1M203 90h1M218 92h1M227 33h1M189 96h1M193 91h1M233 82h1M214 90h1M207 66h1M212 65h1M204 84h1M215 44h1M219 55h1M207 57h1M207 103h1M226 32h1M216 74h1M203 60h1M201 61h1M196 63h1M202 67h1M238 28h1M222 37h1M204 99h1M246 29h1M198 67h1M225 43h1M212 55h1M196 101h1M215 46h1M192 76h1M207 76h1M202 59h1M211 83h1M220 42h1M190 98h1M215 48h1M212 55h1M203 55h1M209 88h1M190 84h1M194 67h1M217 45h1M242 25h1M212 61h1M211 62h1M208 48h1M200 77h1M201 100h1M210 72h1M205 38h1M193 79h1M204 77h1M188 90h1M203 59h1M241 29h1M203 64h1M195 56h1M197 67h1M196 66h1M220 44h1M189 71h1M215 48h1M195 65h1M208 50h1M194 72h1M197 95h1M208 67h1M229 26h1M201 81h1M192 72h1M208 71h1M197 73h1M210 59h1M208 67h1M207 56h1M209 72h1M227 42h1M206 87h1M207 50h1M203 83h1M213 43h1M207 89h1M234 30h1M244 23h1M193 74h1M221 43h1M197 97h1M211 45h1M211 58h1M213 47h1M236 23h1M205 66h1M207 57h1M209 49h1M206 82h1M206 102h1M221 52h1M192 56h1M193 74h1M244 21h1M193 61h1M257 18h1M193 87h1M221 42h1M238 25h1M221 51h1M249 28h1M189 57h1M200 93h1M209 50h1M195 66h1M214 92h1M219 106h1M210 81h1M189 75h1M233 46h1M232 35h1M226 40h1M189 71h1M218 41h1M196 98h1M202 94h1M196 62h1M218 56h1M206 53h1M199 96h1M189 69h1M198 80h1M219 29h1M221 43h1M246 23h1M208 62h1M210 56h1M200 95h1M221 29h1M239 72h1M226 46h1M202 86h1M205 99h1M202 92h1M247 18h1M197 82h1M212 91h1M201 83h1M218 46h1M203 97h1M201 63h1M191 92h1M211 40h1M206 60h1M197 67h1M209 106h1M254 25h1M203 77h1M196 81h1M222 55h1M203 106h1M206 61h1M230 45h1M197 91h1M191 66h1M240 19h1M204 87h1M211 54h1M193 69h1M226 106h1M205 104h1M205 68h1M204 75h1M209 80h1M214 55h1M196 89h1M220 41h1M195 71h1M221 79h1M225 22h1M196 65h1M227 37h1M194 65h1M206 63h1M202 99h1M234 46h1M211 39h1M213 58h1M198 88h1M210 52h1M206 86h1M221 32h1M204 94h1M230 35h1M228 39h1M224 46h1M229 43h1M200 71h1M237 23h1M189 71h1M228 30h1M197 76h1M201 47h1M255 26h1M196 94h1M212 96h1M197 107h1M231 39h1M192 59h1M192 74h1M226 37h1M207 101h1M234 27h1M228 79h1M188 68h1M217 64h1M201 91h1M198 80h1M224 37h1M192 87h1M199 101h1M199 103h1M193 70h1M196 76h1M213 107h1M200 59h1M197 54h1M189 99h1M207 66h1M202 58h1M203 102h1M220 44h1M228 32h1M223 77h1M229 40h1M195 67h1M228 43h1M211 53h1M242 23h1M225 44h1M199 63h1M215 53h1M211 74h1M217 66h1M217 45h1M202 64h1M189 65h1M189 82h1M200 97h1M211 50h1M218 51h1M207 94h1M198 99h1M192 69h1M202 87h1M203 82h1M253 22h1M204 90h1M195 59h1M219 47h1M220 66h1M230 22h1M216 53h1M219 45h1M205 52h1M199 74h1M219 37h1M191 85h1M215 83h1M248 19h1M200 61h1M199 58h1M252 26h1M212 48h1M209 95h1M251 26h1M203 62h1M207 98h1M227 35h1M193 71h1M189 77h1M236 27h1M216 51h1M218 52h1M202 65h1M216 76h1M206 77h1M195 89h1M220 38h1M213 96h1M207 51h1M198 57h1M199 88h1M211 63h1M225 39h1M205 74h1M231 30h1M200 94h1M218 62h1M215 66h1M215 94h1M202 73h1M232 35h1M214 72h1M201 59h1M202 100h1M208 59h1M240 27h1M205 96h1M204 87h1M204 87h1M229 33h1M209 56h1M218 54h1M245 96h1M204 101h1M203 54h1M205 54h1M200 72h1M201 90h1M188 91h1M206 61h1M207 74h1M218 46h1M204 64h1M201 97h1M209 69h1M214 104h1M190 78h1M193 91h1M233 26h1M228 86h1M218 98h1M235 37h1M200 75h1M209 78h1M213 66h1M191 56h1M211 61h1M208 54h1M212 49h1M219 53h1M207 56h1M205 50h1M229 36h1M189 104h1M209 64h1M231 37h1M243 24h1M200 82h1M198 58h1M203 64h1M188 87h1M195 97h1M189 94h1M204 62h1M198 68h1M189 67h1M206 95h1M198 64h1M227 34h1M199 66h1M230 38h1M200 89h1M210 59h1M214 40h1M203 73h1M198 86h1M212 57h1M197 63h1M216 65h1M218 47h1M211 41h1M231 41h1M204 73h1M201 69h1M193 53h1M247 30h1M238 26h1M219 36h1M219 47h1M218 77h1M212 64h1M240 36h1M203 70h1M222 34h1M226 33h1M226 43h1M207 97h1M248 26h1M198 80h1M210 54h1M208 64h1M190 87h1M192 68h1M219 62h1M244 23h1M243 21h1M218 50h1M226 37h1M204 54h1M243 22h1M215 42h1M198 77h1M237 34h1M210 66h1M218 33h1M231 29h1M193 100h1M207 53h1M223 31h1M209 54h1M208 56h1M218 51h1M196 84h1M221 48h1M213 57h1M209 52h1M189 105h1M209 89h1M211 86h1M217 31h1M210 59h1M207 64h1M198 86h1M240 27h1M198 104h1M200 96h1M216 76h1M210 47h1M233 32h1M201 92h1M196 91h1M215 74h1M209 71h1M223 54h1M206 46h1M202 95h1M205 98h1M220 52h1M202 76h1M216 51h1M238 22h1M221 38h1M205 82h1M246 23h1M202 76h1M203 57h1M223 43h1M232 33h1M199 86h1M198 62h1M217 75h1M197 92h1M191 101h1M201 59h1M197 95h1M246 25h1M236 35h1M195 91h1M194 63h1M231 29h1M231 35h1M204 56h1M222 46h1M204 51h1M212 61h1M215 52h1M237 29h1M198 103h1M203 50h1M244 23h1M215 38h1M202 101h1M201 64h1M203 74h1M202 65h1M214 59h1M189 106h1M209 76h1M200 106h1M189 101h1M219 59h1M229 46h1M197 98h1M206 88h1M229 29h1M237 85h1M190 75h1M207 58h1M219 41h1M212 39h1M231 40h1M191 75h1M197 67h1M201 87h1M211 64h1M232 56h1M230 30h1M208 56h1M200 75h1M189 64h1M189 88h1M215 54h1M204 62h1M212 80h1M192 96h1M240 26h1M208 61h1M200 74h1M204 64h1M204 106h1M221 45h1M197 69h1M247 18h1M208 55h1M216 57h1M211 43h1M238 28h1M217 39h1M190 88h1M199 64h1M209 62h1M212 52h1M191 100h1M209 62h1M196 76h1M192 78h1M204 103h1M214 80h1M208 56h1M194 99h1M220 86h1M199 106h1M226 49h1M210 73h1M219 89h1M230 25h1M206 65h1M219 42h1M200 93h1M203 90h1M202 97h1M211 61h1M238 87h1M235 20h1M204 67h1M223 42h1M217 89h1M200 62h1M204 95h1M197 63h1M231 28h1M209 54h1M234 82h1M203 70h1M215 55h1M198 67h1M217 59h1M224 50h1M223 50h1M224 50h1M213 42h1M214 48h1M210 89h1M203 57h1M203 57h1M204 101h1M212 50h1M212 43h1M203 97h1M226 39h1M227 37h1M204 104h1M199 84h1M188 93h1M227 33h1M194 69h1M195 68h1M214 65h1M223 50h1M211 40h1M200 68h1M202 61h1M214 56h1M198 76h1M229 30h1M202 68h1M213 48h1M213 42h1M201 90h1M188 88h1M197 73h1M232 26h1M223 34h1M194 75h1M203 94h1M192 84h1M202 83h1M225 34h1M213 38h1M231 72h1M243 27h1M206 76h1M223 69h1M217 49h1M217 42h1M224 39h1M209 59h1M211 57h1M210 75h1M210 54h1M229 30h1M194 103h1M238 29h1M212 55h1M212 106h1M233 27h1M190 90h1M212 47h1M244 82h1M238 23h1M202 75h1M196 100h1M224 64h1M229 28h1M231 38h1M193 98h1M203 62h1M234 44h1M226 45h1M249 23h1M220 43h1M206 99h1M201 89h1M209 95h1M214 62h1M233 35h1M226 41h1M203 100h1M218 95h1M213 45h1M197 63h1M200 65h1M213 93h1M210 76h1M214 95h1M189 77h1M216 70h1M202 37h1M211 73h1M210 71h1M205 59h1M191 84h1M196 73h1M197 73h1M207 85h1M217 77h1M210 76h1M203 73h1M206 78h1M209 54h1M206 61h1M208 57h1M194 71h1M219 37h1M210 71h1M224 43h1M212 49h1M189 70h1M209 82h1M222 43h1M189 84h1M218 63h1M211 60h1M211 50h1M199 72h1M209 58h1M197 62h1M208 98h1M189 107h1M225 31h1M230 41h1M198 63h1M202 62h1M194 67h1M216 95h1M233 36h1M214 49h1M208 53h1M213 53h1M216 53h1M211 70h1M202 62h1M217 43h1M214 50h1M214 43h1M206 75h1M208 46h1M215 58h1M200 54h1M237 24h1M234 40h1M208 67h1M216 72h1M209 58h1M218 45h1M219 97h1M199 60h1M197 107h1M232 95h1M202 60h1M204 84h1M204 77h1M216 29h1M199 63h1M207 86h1M200 103h1M201 78h1M218 42h1M234 29h1M230 80h1M198 107h1M197 82h1M210 86h1M203 62h1M208 78h1M218 44h1M202 72h1M235 32h1M207 53h1M193 92h1M201 88h1M249 23h1M222 34h1M226 37h1M226 34h1M205 89h1M240 26h1M198 71h1M193 100h1M253 19h1M232 31h1M217 52h1M195 77h1M209 47h1M219 45h1M215 65h1M216 40h1M207 48h1M188 63h1M191 98h1M248 22h1M233 26h1M193 92h1M245 23h1M236 34h1M189 100h1M211 90h1M205 63h1M244 26h1M240 89h1M203 72h1M243 28h1M207 73h1M218 91h1M207 59h1M213 46h1M203 65h1M216 63h1M199 70h1M198 97h1M194 75h1M203 88h1M200 52h1M222 34h1M237 29h1M227 42h1M204 87h1M227 38h1M207 61h1M206 76h1M214 46h1M204 96h1M203 92h1M196 63h1M213 51h1M189 91h1M209 53h1M226 39h1M238 23h1M206 80h1M215 45h1M210 50h1M245 30h1M242 34h1M202 56h1M202 65h1M215 47h1M233 39h1M219 41h1M209 46h1M193 68h1M196 61h1M207 87h1M198 75h1M202 71h1M195 68h1M199 93h1M233 32h1M206 69h1M237 34h1M197 74h1M206 66h1M198 73h1M202 87h1M224 40h1M225 67h1M217 55h1M233 23h1M209 46h1M198 107h1M212 82h1M190 96h1M199 77h1M225 49h1M212 63h1M191 99h1M189 99h1M248 30h1M241 27h1M237 33h1M217 43h1M189 98h1M203 99h1M206 85h1M217 48h1M188 89h1M238 29h1M196 105h1M203 61h1M197 65h1M211 48h1M218 79h1M225 35h1M221 46h1M216 70h1M250 21h1M201 67h1M235 33h1M244 26h1M219 33h1M216 41h1M203 75h1M230 32h1M217 48h1M192 75h1M203 95h1M214 66h1M205 82h1M195 63h1M213 76h1M196 73h1M246 24h1M202 69h1M235 30h1M189 107h1M190 75h1M213 42h1M220 42h1M189 71h1M222 22h1M201 67h1M218 52h1M203 47h1M226 40h1M218 44h1M234 31h1M195 99h1M202 64h1M201 88h1M197 89h1M231 47h1M202 76h1M207 59h1M192 58h1M203 102h1M203 86h1M231 29h1M200 67h1M228 39h1M207 97h1M204 76h1M203 86h1M204 65h1M207 59h1M201 50h1M218 89h1M204 71h1M203 68h1M220 64h1M200 65h1M211 63h1M202 91h1M211 52h1M215 49h1M207 60h1M207 73h1M209 83h1M207 79h1M188 76h1M212 55h1M231 45h1M238 33h1M227 33h1M217 65h1M212 87h1M197 96h1M191 97h1M188 74h1M201 69h1M196 104h1M200 57h1M195 83h1M200 91h1M188 72h1M223 30h1M219 41h1M225 38h1M232 36h1M201 77h1M222 43h1M209 63h1M213 62h1M196 71h1M208 65h1M197 53h1M205 82h1M200 102h1M200 101h1M208 65h1M229 38h1M205 98h1M193 88h1M215 48h1M202 60h1M202 71h1M204 91h1M224 28h1M204 53h1M214 52h1M226 47h1M194 101h1M232 35h1M240 31h1M201 62h1M229 40h1M189 99h1M217 74h1M207 76h1M244 24h1M225 36h1M207 62h1M213 66h1M188 105h1M227 38h1M198 78h1M199 73h1M238 24h1M209 47h1M209 43h1M213 101h1M209 72h1M212 87h1M199 73h1M189 101h1M195 96h1M204 102h1M243 24h1M201 97h1M190 96h1M215 105h1M193 61h1M193 103h1M204 68h1M193 79h1M204 69h1M205 95h1M208 61h1M204 60h1M209 69h1M238 25h1M192 89h1M229 37h1M193 89h1M201 52h1M200 61h1M195 104h1M229 33h1M206 97h1M233 26h1M228 29h1M208 58h1M248 27h1M204 83h1M207 76h1M202 65h1M196 63h1M237 83h1M208 59h1M213 74h1M233 33h1M196 93h1M212 44h1M216 54h1M208 107h1M221 64h1M189 74h1M201 64h1M247 27h1M206 76h1M192 88h1M236 35h1M211 54h1M227 40h1M212 91h1M231 76h1M200 90h1M192 106h1M208 61h1M231 36h1M220 50h1M202 71h1M220 45h1M193 91h1M195 77h1M232 23h1M203 107h1M190 105h1M193 91h1M221 45h1M221 38h1M198 54h1M204 94h1M198 62h1M196 107h1M217 42h1M200 95h1M195 83h1M201 95h1M226 42h1M205 83h1M237 31h1M232 38h1M235 78h1M207 95h1M211 56h1M240 26h1M227 35h1M233 40h1M198 106h1M232 31h1M213 78h1M197 60h1M211 75h1M198 59h1M198 76h1M237 27h1M207 54h1M250 22h1M206 63h1M193 68h1M199 74h1M247 29h1M212 78h1M189 106h1M198 94h1M224 35h1M206 95h1M229 38h1M209 83h1M201 62h1M208 45h1M208 101h1M243 26h1M193 84h1M191 79h1M195 48h1M201 89h1M228 31h1M211 44h1M196 61h1M194 60h1M194 89h1M211 57h1M228 32h1M204 86h1M203 87h1M194 71h1M199 95h1M205 61h1M196 70h1M206 60h1M245 22h1M217 102h1M230 38h1M232 32h1M207 86h1M218 58h1M209 58h1M216 46h1M198 106h1M241 19h1M209 80h1M193 107h1M198 89h1M234 29h1M217 47h1M210 43h1M248 30h1M192 67h1M194 83h1M227 32h1M188 103h1M223 34h1M197 79h1M220 47h1M198 70h1M188 106h1M219 37h1M224 44h1M201 72h1M226 35h1M203 93h1M227 43h1M192 86h1M212 52h1M201 47h1M222 40h1M204 55h1M246 21h1M202 59h1M242 19h1M192 66h1M189 99h1M230 76h1M207 52h1M208 98h1M215 63h1M201 85h1M214 93h1M204 83h1M190 66h1M210 63h1M189 92h1M220 46h1M201 66h1M190 98h1M193 93h1M197 94h1M229 39h1M219 83h1M210 78h1M212 69h1M203 56h1M212 65h1M241 27h1M200 89h1M201 88h1M213 77h1M203 96h1M204 66h1M218 28h1M201 79h1M216 42h1M219 34h1M225 33h1M204 71h1M199 71h1M215 59h1M193 66h1M204 64h1M216 57h1M230 29h1M246 28h1M221 49h1M194 60h1M209 72h1M199 85h1M198 102h1M198 79h1M225 49h1M231 45h1M213 45h1M212 56h1M223 34h1M201 96h1M206 104h1M189 89h1M210 68h1M192 78h1M218 75h1M253 21h1M219 102h1M206 62h1M227 44h1M229 31h1M206 58h1M194 89h1M203 62h1M200 93h1M202 96h1M213 78h1M231 30h1M204 66h1M229 31h1M199 75h1M193 103h1M225 42h1M215 53h1M209 67h1M189 85h1M192 70h1M222 44h1M191 101h1M218 65h1M216 54h1M218 35h1M228 38h1M211 69h1M209 71h1M195 103h1M218 38h1M206 61h1M221 42h1M205 69h1M202 86h1M229 31h1M235 30h1M211 46h1M233 31h1M206 56h1M192 92h1M215 47h1M192 107h1M188 96h1M202 102h1M228 34h1M208 79h1M201 93h1M203 93h1M229 22h1M198 78h1M222 44h1M198 72h1M226 33h1M239 35h1M198 60h1M208 48h1M199 71h1M215 53h1M233 26h1M197 64h1M214 74h1M200 83h1M220 62h1M197 93h1M216 42h1M208 100h1M200 90h1M216 82h1M209 54h1M205 70h1M216 86h1M210 62h1M231 38h1M239 22h1M219 39h1M216 57h1M216 64h1M190 76h1M244 34h1M242 27h1M202 67h1M216 58h1M239 72h1M189 72h1M220 38h1M205 88h1M198 62h1M212 61h1M194 75h1M199 60h1M193 72h1M206 47h1M198 100h1M211 93h1M203 75h1M193 91h1M213 52h1M234 29h1M214 42h1M212 55h1M194 103h1M218 53h1M216 91h1M205 66h1M221 36h1M208 66h1M209 88h1M228 92h1M198 55h1M235 25h1M198 67h1M207 73h1M250 19h1M195 106h1M188 98h1M202 100h1" stroke="#5a68b4" stroke-opacity="0.37" stroke-width="1" transform="translate(0 0.5)"/>
<g clip-path="url(#cA2)"><ellipse cx="204" cy="61" rx="9" ry="9" fill="#40a098" opacity="0.26" filter="url(#bl2)" transform="rotate(-30 204 61)"/></g>
<rect x="187.5" y="17.2" width="92" height="91.8" fill="none" stroke="#909090" stroke-width="0.9"/>
<text x="187.8" y="116.6" font-size="4.6" text-anchor="middle" fill="#3a3a3a">10<tspan font-size="3.22" dy="-1.5">0</tspan></text>
<text x="210.8" y="116.6" font-size="4.6" text-anchor="middle" fill="#3a3a3a">10<tspan font-size="3.22" dy="-1.5">1</tspan></text>
<text x="233.8" y="116.6" font-size="4.6" text-anchor="middle" fill="#3a3a3a">10<tspan font-size="3.22" dy="-1.5">2</tspan></text>
<text x="256.8" y="116.6" font-size="4.6" text-anchor="middle" fill="#3a3a3a">10<tspan font-size="3.22" dy="-1.5">3</tspan></text>
<text x="279.8" y="116.6" font-size="4.6" text-anchor="middle" fill="#3a3a3a">10<tspan font-size="3.22" dy="-1.5">4</tspan></text>
<text x="184.9" y="110.7" font-size="4.6" text-anchor="end" fill="#3a3a3a">10<tspan font-size="3.22" dy="-1.5">0</tspan></text>
<text x="184.9" y="87.75" font-size="4.6" text-anchor="end" fill="#3a3a3a">10<tspan font-size="3.22" dy="-1.5">1</tspan></text>
<text x="184.9" y="64.8" font-size="4.6" text-anchor="end" fill="#3a3a3a">10<tspan font-size="3.22" dy="-1.5">2</tspan></text>
<text x="184.9" y="41.85" font-size="4.6" text-anchor="end" fill="#3a3a3a">10<tspan font-size="3.22" dy="-1.5">3</tspan></text>
<text x="184.9" y="18.9" font-size="4.6" text-anchor="end" fill="#3a3a3a">10<tspan font-size="3.22" dy="-1.5">4</tspan></text>
<path d="M187.5 109v1.6M194.42 109v1M198.47 109v1M201.35 109v1M203.58 109v1M205.4 109v1M206.94 109v1M208.27 109v1M209.45 109v1M210.5 109v1.6M217.42 109v1M221.47 109v1M224.35 109v1M226.58 109v1M228.4 109v1M229.94 109v1M231.27 109v1M232.45 109v1M233.5 109v1.6M240.42 109v1M244.47 109v1M247.35 109v1M249.58 109v1M251.4 109v1M252.94 109v1M254.27 109v1M255.45 109v1M256.5 109v1.6M263.42 109v1M267.47 109v1M270.35 109v1M272.58 109v1M274.4 109v1M275.94 109v1M277.27 109v1M278.45 109v1M187.5 109h-1.6M187.5 102.09h-1M187.5 98.05h-1M187.5 95.18h-1M187.5 92.96h-1M187.5 91.14h-1M187.5 89.6h-1M187.5 88.27h-1M187.5 87.1h-1M187.5 86.05h-1.6M187.5 79.14h-1M187.5 75.1h-1M187.5 72.23h-1M187.5 70.01h-1M187.5 68.19h-1M187.5 66.65h-1M187.5 65.32h-1M187.5 64.15h-1M187.5 63.1h-1.6M187.5 56.19h-1M187.5 52.15h-1M187.5 49.28h-1M187.5 47.06h-1M187.5 45.24h-1M187.5 43.7h-1M187.5 42.37h-1M187.5 41.2h-1M187.5 40.15h-1.6M187.5 33.24h-1M187.5 29.2h-1M187.5 26.33h-1M187.5 24.11h-1M187.5 22.29h-1M187.5 20.75h-1M187.5 19.42h-1M187.5 18.25h-1" stroke="#999" stroke-width="0.6"/>
<path d="M228.9 17.2L228.9 63" stroke="#c0b6c6" stroke-width="0.8"/>
<path d="M228.9 63L279.5 63" stroke="#c0b6c6" stroke-width="0.8"/>
<text x="279" y="24.4" font-size="5.8" text-anchor="end" font-weight="bold">9.8</text>
<path d="M42.7 71.5L42.7 116.7" stroke="#000" stroke-width="1.4"/>
<path d="M40 73.5L42.7 67.5L45.4 73.5Z"/>
<text x="36.5" y="92.5" font-size="9.2" text-anchor="middle" transform="rotate(-90 36.5 92.5)">CD41</text>
<path d="M47.9 121.2L94 121.2" stroke="#000" stroke-width="1.4"/>
<path d="M92 118.5L98 121.2L92 123.9Z"/>
<text x="74.5" y="130.7" font-size="9.7" text-anchor="middle">CD42</text>
<text x="335.8" y="108.2" font-size="6.6" text-anchor="end" font-weight="bold">0.0</text>
<text x="335.8" y="95.89" font-size="6.6" text-anchor="end" font-weight="bold">2.5</text>
<text x="335.8" y="83.57" font-size="6.6" text-anchor="end" font-weight="bold">5.0</text>
<text x="335.8" y="71.26" font-size="6.6" text-anchor="end" font-weight="bold">7.5</text>
<text x="335.8" y="58.94" font-size="6.6" text-anchor="end" font-weight="bold">10.0</text>
<text x="335.8" y="46.63" font-size="6.6" text-anchor="end" font-weight="bold">12.5</text>
<text x="335.8" y="34.31" font-size="6.6" text-anchor="end" font-weight="bold">15.0</text>
<text x="335.8" y="22" font-size="6.6" text-anchor="end" font-weight="bold">17.5</text>
<path d="M336.1 106h3M336.1 93.69h3M336.1 81.37h3M336.1 69.06h3M336.1 56.74h3M336.1 44.43h3M336.1 32.11h3M336.1 19.8h3" stroke="#000" stroke-width="1"/>
<rect x="350.4" y="97.5" width="43.4" height="8.5" fill="#4169b5" stroke="#151515" stroke-width="1.3"/>
<rect x="415" y="33" width="43.5" height="73" fill="#cb2129" stroke="#151515" stroke-width="1.3"/>
<path d="M372.1 97.5L372.1 95.4" stroke="#222" stroke-width="1.2"/>
<path d="M361.1 95.4L383.1 95.4" stroke="#222" stroke-width="1.3"/>
<path d="M436.8 33L436.8 22.9" stroke="#222" stroke-width="1.2"/>
<path d="M425.8 22.9L447.8 22.9" stroke="#222" stroke-width="1.3"/>
<path d="M339.1 19L339.1 106.65" stroke="#000" stroke-width="1.3"/>
<path d="M339.1 106L470.5 106" stroke="#000" stroke-width="1.3"/>
<path d="M372.1 106L372.1 109" stroke="#000" stroke-width="1"/>
<path d="M436.75 106L436.75 109" stroke="#000" stroke-width="1"/>
<text x="371.6" y="121" font-size="10.5" text-anchor="middle">WT</text>
<text x="437.5" y="121" font-size="10.8" text-anchor="middle" font-style="italic">Aurka -/-</text>
<text x="318.6" y="62.9" font-size="10.5" text-anchor="middle" transform="rotate(-90 318.6 62.9)">% CD41+/CD42+</text>
<text x="436.75" y="26" font-size="16.3" text-anchor="middle">***</text>
<text x="334.1" y="239.2" font-size="6.6" text-anchor="end" font-weight="bold">0</text>
<text x="334.1" y="231.17" font-size="6.6" text-anchor="end" font-weight="bold">5</text>
<text x="334.1" y="223.15" font-size="6.6" text-anchor="end" font-weight="bold">10</text>
<text x="334.1" y="215.12" font-size="6.6" text-anchor="end" font-weight="bold">15</text>
<text x="334.1" y="207.09" font-size="6.6" text-anchor="end" font-weight="bold">20</text>
<text x="334.1" y="199.06" font-size="6.6" text-anchor="end" font-weight="bold">25</text>
<text x="334.1" y="191.04" font-size="6.6" text-anchor="end" font-weight="bold">30</text>
<text x="334.1" y="183.01" font-size="6.6" text-anchor="end" font-weight="bold">35</text>
<text x="334.1" y="174.98" font-size="6.6" text-anchor="end" font-weight="bold">40</text>
<text x="334.1" y="166.95" font-size="6.6" text-anchor="end" font-weight="bold">45</text>
<text x="334.1" y="158.93" font-size="6.6" text-anchor="end" font-weight="bold">50</text>
<text x="334.1" y="150.9" font-size="6.6" text-anchor="end" font-weight="bold">55</text>
<path d="M334.4 237h3M334.4 228.97h3M334.4 220.95h3M334.4 212.92h3M334.4 204.89h3M334.4 196.86h3M334.4 188.84h3M334.4 180.81h3M334.4 172.78h3M334.4 164.75h3M334.4 156.73h3M334.4 148.7h3" stroke="#000" stroke-width="1"/>
<rect x="348.7" y="194.2" width="44" height="42.8" fill="#4169b5" stroke="#151515" stroke-width="1.3"/>
<rect x="415" y="164" width="44" height="73" fill="#cb2129" stroke="#151515" stroke-width="1.3"/>
<path d="M370.7 194.2L370.7 180.4" stroke="#222" stroke-width="1.2"/>
<path d="M359.7 180.4L381.7 180.4" stroke="#222" stroke-width="1.3"/>
<path d="M437 164L437 153" stroke="#222" stroke-width="1.2"/>
<path d="M426 153L448 153" stroke="#222" stroke-width="1.3"/>
<path d="M337.4 147.9L337.4 237.65" stroke="#000" stroke-width="1.3"/>
<path d="M337.4 237L470.5 237" stroke="#000" stroke-width="1.3"/>
<path d="M370.7 237L370.7 240" stroke="#000" stroke-width="1"/>
<path d="M437 237L437 240" stroke="#000" stroke-width="1"/>
<text x="369" y="251.5" font-size="10.5" text-anchor="middle">WT</text>
<text x="436.3" y="251.5" font-size="10.8" text-anchor="middle" font-style="italic">Aurka -/-</text>
<text x="318.4" y="197" font-size="11.2" text-anchor="middle" transform="rotate(-90 318.4 197)">≥8N</text>
<text x="437" y="157.3" font-size="16.3" text-anchor="middle">*</text>
<text x="335.3" y="382.6" font-size="6.6" text-anchor="end" font-weight="bold">0</text>
<text x="335.3" y="374.52" font-size="6.6" text-anchor="end" font-weight="bold">1</text>
<text x="335.3" y="366.44" font-size="6.6" text-anchor="end" font-weight="bold">2</text>
<text x="335.3" y="358.35" font-size="6.6" text-anchor="end" font-weight="bold">3</text>
<text x="335.3" y="350.27" font-size="6.6" text-anchor="end" font-weight="bold">4</text>
<text x="335.3" y="342.19" font-size="6.6" text-anchor="end" font-weight="bold">5</text>
<text x="335.3" y="334.11" font-size="6.6" text-anchor="end" font-weight="bold">6</text>
<text x="335.3" y="326.03" font-size="6.6" text-anchor="end" font-weight="bold">7</text>
<text x="335.3" y="317.95" font-size="6.6" text-anchor="end" font-weight="bold">8</text>
<text x="335.3" y="309.86" font-size="6.6" text-anchor="end" font-weight="bold">9</text>
<text x="335.3" y="301.78" font-size="6.6" text-anchor="end" font-weight="bold">10</text>
<text x="335.3" y="293.7" font-size="6.6" text-anchor="end" font-weight="bold">11</text>
<path d="M335.6 380.4h3M335.6 372.32h3M335.6 364.24h3M335.6 356.15h3M335.6 348.07h3M335.6 339.99h3M335.6 331.91h3M335.6 323.83h3M335.6 315.75h3M335.6 307.66h3M335.6 299.58h3M335.6 291.5h3" stroke="#000" stroke-width="1"/>
<rect x="349.5" y="345.4" width="44.7" height="35" fill="#4169b5" stroke="#151515" stroke-width="1.3"/>
<rect x="415.8" y="307.5" width="44.6" height="72.9" fill="#cb2129" stroke="#151515" stroke-width="1.3"/>
<path d="M371.8 345.4L371.8 341.5" stroke="#222" stroke-width="1.2"/>
<path d="M360.5 341.5L383.1 341.5" stroke="#222" stroke-width="1.3"/>
<path d="M438.2 307.5L438.2 297.9" stroke="#222" stroke-width="1.2"/>
<path d="M426.9 297.9L449.5 297.9" stroke="#222" stroke-width="1.3"/>
<path d="M338.6 290.7L338.6 381.05" stroke="#000" stroke-width="1.3"/>
<path d="M338.6 380.4L470.5 380.4" stroke="#000" stroke-width="1.3"/>
<path d="M371.85 380.4L371.85 383.4" stroke="#000" stroke-width="1"/>
<path d="M438.1 380.4L438.1 383.4" stroke="#000" stroke-width="1"/>
<text x="371" y="397.3" font-size="10.5" text-anchor="middle">WT</text>
<text x="438" y="397.3" font-size="10.8" text-anchor="middle" font-style="italic">Aurka -/-</text>
<text x="318.8" y="332.7" font-size="10.6" text-anchor="middle" transform="rotate(-90 318.8 332.7)">% AnnexinV+</text>
<text x="438.1" y="301.3" font-size="16.3" text-anchor="middle">*</text>
<text x="12.4" y="151.9" font-size="11.3" font-weight="bold">B</text>
<rect x="63.2" y="144.2" width="95.3" height="95.2" fill="none" stroke="#909090" stroke-width="0.9"/>
<text x="63.5" y="247" font-size="4.6" text-anchor="middle" fill="#3a3a3a">10<tspan font-size="3.22" dy="-1.5">0</tspan></text>
<text x="87.33" y="247" font-size="4.6" text-anchor="middle" fill="#3a3a3a">10<tspan font-size="3.22" dy="-1.5">1</tspan></text>
<text x="111.15" y="247" font-size="4.6" text-anchor="middle" fill="#3a3a3a">10<tspan font-size="3.22" dy="-1.5">2</tspan></text>
<text x="134.98" y="247" font-size="4.6" text-anchor="middle" fill="#3a3a3a">10<tspan font-size="3.22" dy="-1.5">3</tspan></text>
<text x="158.8" y="247" font-size="4.6" text-anchor="middle" fill="#3a3a3a">10<tspan font-size="3.22" dy="-1.5">4</tspan></text>
<path d="M63.2 239.4v1.6M70.37 239.4v1M74.57 239.4v1M77.54 239.4v1M79.85 239.4v1M81.74 239.4v1M83.33 239.4v1M84.72 239.4v1M85.93 239.4v1M87.03 239.4v1.6M94.2 239.4v1M98.39 239.4v1M101.37 239.4v1M103.68 239.4v1M105.56 239.4v1M107.16 239.4v1M108.54 239.4v1M109.76 239.4v1M110.85 239.4v1.6M118.02 239.4v1M122.22 239.4v1M125.19 239.4v1M127.5 239.4v1M129.39 239.4v1M130.98 239.4v1M132.37 239.4v1M133.58 239.4v1M134.68 239.4v1.6M141.85 239.4v1M146.04 239.4v1M149.02 239.4v1M151.33 239.4v1M153.21 239.4v1M154.81 239.4v1M156.19 239.4v1M157.41 239.4v1" stroke="#999" stroke-width="0.6"/>
<text x="60.2" y="241" font-size="4.5" text-anchor="end" fill="#3a3a3a">0</text>
<text x="60.2" y="215" font-size="4.5" text-anchor="end" fill="#3a3a3a">100</text>
<text x="60.2" y="189.1" font-size="4.5" text-anchor="end" fill="#3a3a3a">200</text>
<text x="60.2" y="163.1" font-size="4.5" text-anchor="end" fill="#3a3a3a">300</text>
<path d="M61.4 239.4h1.8M61.4 213.4h1.8M61.4 187.5h1.8M61.4 161.5h1.8" stroke="#999" stroke-width="0.6"/>
<path d="M64 239.6L82.8 239.3L85 236.6L86.2 226.4L87.4 205.7L88.8 178L90.2 155.6L91.1 149.5L91.9 153.8L92.8 174.6L94 193.6L94.5 197L95.4 191.9L96.3 179.8L97.1 173.7L98 179.8L98.9 195.3L99.7 209.2L100.9 210L101.8 214.3L103.5 223L105.3 229L108.7 231.6L114.8 234.2L119.1 236.8L123.4 239.2L126.9 239.6L158 239.6" fill="none" stroke="#626262" stroke-width="1.1" stroke-linejoin="round"/>
<path d="M99.2 176.3L141.2 176.3" stroke="#555" stroke-width="1.2"/>
<path d="M99.2 173.6L99.2 179" stroke="#555" stroke-width="0.9"/>
<path d="M141.2 173.6L141.2 179" stroke="#555" stroke-width="0.9"/>
<text x="120" y="173.4" font-size="5.8" text-anchor="middle" font-weight="bold">24.5</text>
<rect x="195.5" y="144.5" width="94.8" height="95" fill="none" stroke="#909090" stroke-width="0.9"/>
<text x="195.8" y="247.1" font-size="4.6" text-anchor="middle" fill="#3a3a3a">10<tspan font-size="3.22" dy="-1.5">0</tspan></text>
<text x="219.5" y="247.1" font-size="4.6" text-anchor="middle" fill="#3a3a3a">10<tspan font-size="3.22" dy="-1.5">1</tspan></text>
<text x="243.2" y="247.1" font-size="4.6" text-anchor="middle" fill="#3a3a3a">10<tspan font-size="3.22" dy="-1.5">2</tspan></text>
<text x="266.9" y="247.1" font-size="4.6" text-anchor="middle" fill="#3a3a3a">10<tspan font-size="3.22" dy="-1.5">3</tspan></text>
<text x="290.6" y="247.1" font-size="4.6" text-anchor="middle" fill="#3a3a3a">10<tspan font-size="3.22" dy="-1.5">4</tspan></text>
<path d="M195.5 239.5v1.6M202.63 239.5v1M206.81 239.5v1M209.77 239.5v1M212.07 239.5v1M213.94 239.5v1M215.53 239.5v1M216.9 239.5v1M218.12 239.5v1M219.2 239.5v1.6M226.33 239.5v1M230.51 239.5v1M233.47 239.5v1M235.77 239.5v1M237.64 239.5v1M239.23 239.5v1M240.6 239.5v1M241.82 239.5v1M242.9 239.5v1.6M250.03 239.5v1M254.21 239.5v1M257.17 239.5v1M259.47 239.5v1M261.34 239.5v1M262.93 239.5v1M264.3 239.5v1M265.52 239.5v1M266.6 239.5v1.6M273.73 239.5v1M277.91 239.5v1M280.87 239.5v1M283.17 239.5v1M285.04 239.5v1M286.63 239.5v1M288 239.5v1M289.22 239.5v1" stroke="#999" stroke-width="0.6"/>
<text x="192.5" y="241.1" font-size="4.5" text-anchor="end" fill="#3a3a3a">0</text>
<text x="192.5" y="212.8" font-size="4.5" text-anchor="end" fill="#3a3a3a">50</text>
<text x="192.5" y="183.4" font-size="4.5" text-anchor="end" fill="#3a3a3a">100</text>
<text x="192.5" y="153.9" font-size="4.5" text-anchor="end" fill="#3a3a3a">150</text>
<path d="M193.7 239.5h1.8M193.7 211.2h1.8M193.7 181.8h1.8M193.7 152.3h1.8" stroke="#999" stroke-width="0.6"/>
<path d="M196 239.7L217.6 239.4L218.8 236L219.8 223L221 202.2L222.3 183.2L223.6 169.4L224.3 165L225 174.6L225.7 197L226.6 221.3L227.4 209.2L228.5 183.2L229.4 157.3L230 150.4L230.7 159L231.4 188.4L232.3 214.3L233.2 205.7L234 196.2L235 198.8L236.1 204L237.1 209.2L238.3 214.3L240.1 216L241.8 219.5L243.5 223L245.3 221.3L247 217.8L248.2 220.4L249.6 223L251.3 224.7L253.4 223L255.1 226.4L257.4 229.9L260 234.2L263.4 238.5L266 239.7L290 239.7" fill="none" stroke="#626262" stroke-width="1.1" stroke-linejoin="round"/>
<path d="M231.4 176.1L273.8 176.1" stroke="#555" stroke-width="1.2"/>
<path d="M273.8 173.4L273.8 178.8" stroke="#555" stroke-width="0.9"/>
<text x="252.6" y="173.3" font-size="5.8" text-anchor="middle" font-weight="bold">50.3</text>
<path d="M42.3 201.2L42.3 247.5" stroke="#000" stroke-width="1.4"/>
<path d="M39.6 203.2L42.3 197.2L45 203.2Z"/>
<text x="36.4" y="226.5" font-size="9.2" text-anchor="middle" transform="rotate(-90 36.4 226.5)"># cells</text>
<path d="M54.6 252.7L100.8 252.7" stroke="#000" stroke-width="1.4"/>
<path d="M98.8 250L104.8 252.7L98.8 255.4Z"/>
<text x="80.2" y="262.7" font-size="9.8" text-anchor="middle">DAPI</text>
<text x="12.6" y="283.6" font-size="11.3" font-weight="bold">C</text>
<path d="M95 375h1M93 344h1M90 368h1M85 369h1M98 379h1M93 370h1M89 371h1M93 366h1M85 361h1M95 362h1M96 377h1M97 371h1M100 345h1M97 369h1M87 365h1M92 366h1M92 376h1M88 353h1M94 360h1M92 371h1M95 372h1M86 359h1M90 370h1M84 379h1M95 357h1M87 361h1M98 370h1M96 350h1M93 350h1M86 357h1M92 364h1M98 367h1M92 351h1M90 364h1M102 373h1M85 379h1M97 361h1M101 363h1M97 362h1M85 343h1M96 379h1M99 344h1M95 367h1M103 347h1M100 357h1M89 363h1M94 355h1M96 368h1M98 361h1M92 369h1M90 370h1M88 369h1M102 373h1M99 365h1M100 362h1M95 362h1M93 367h1M92 342h1M88 351h1M103 369h1M87 369h1M93 368h1M94 361h1M99 369h1M89 375h1M94 362h1M105 369h1M95 342h1M98 370h1M91 369h1M91 362h1M94 361h1M94 365h1M87 377h1M90 375h1M91 350h1M88 370h1M100 372h1M95 370h1M88 370h1M88 369h1M94 359h1M93 380h1M95 363h1M92 362h1M103 368h1M94 369h1M93 361h1M95 362h1M93 346h1M91 367h1M88 374h1M94 367h1M94 365h1M95 364h1M92 374h1M93 349h1M93 366h1M94 368h1M94 367h1M95 369h1M97 358h1M102 375h1M93 363h1M91 371h1M92 366h1M87 362h1M86 370h1M100 345h1M93 375h1M86 349h1M96 366h1M96 369h1M94 365h1M90 371h1M98 365h1M94 367h1M90 377h1M88 370h1M81 371h1M88 361h1M95 379h1M97 373h1M98 362h1M86 365h1M97 364h1M81 361h1M93 349h1M89 354h1M92 357h1M90 365h1M98 363h1M93 380h1M88 353h1M96 362h1M93 368h1M95 375h1M92 369h1M99 376h1M105 371h1M93 363h1M94 364h1M85 340h1M85 373h1M100 356h1M92 363h1M84 371h1M93 367h1M89 358h1M91 371h1M95 372h1M85 363h1M95 350h1M98 377h1M92 370h1M101 358h1M96 366h1M91 365h1M93 378h1M94 369h1M92 352h1M92 364h1M95 378h1M98 367h1M89 365h1M91 365h1M95 372h1M92 368h1M89 375h1M91 367h1M91 364h1M86 355h1M100 373h1M91 375h1M94 354h1M90 355h1M88 371h1M88 363h1M89 374h1M95 364h1M93 364h1M94 364h1M86 374h1M101 368h1M90 375h1M92 359h1M97 353h1M90 374h1M91 347h1M91 366h1M90 368h1M95 363h1M90 369h1M90 368h1M94 370h1M91 345h1M90 369h1M101 350h1M91 357h1M96 367h1M96 352h1M84 379h1M99 368h1M100 379h1M92 351h1M96 369h1M97 348h1M90 345h1M92 379h1M87 372h1M92 359h1M94 361h1M86 364h1M85 369h1M96 368h1M93 363h1M87 363h1M91 336h1M92 367h1M103 374h1M96 379h1M95 376h1M88 353h1M94 380h1M85 365h1M93 368h1M99 378h1M90 342h1M93 378h1M96 373h1M92 359h1M85 364h1M99 372h1M96 344h1M96 347h1M92 365h1M92 361h1M99 356h1M90 361h1M100 372h1M92 369h1M86 357h1M92 370h1M90 366h1M97 379h1M91 374h1M94 367h1M97 367h1M98 358h1M92 366h1M90 377h1M91 361h1M96 376h1M92 347h1M95 377h1M94 368h1M91 369h1M98 366h1M88 369h1M99 353h1M92 365h1M97 375h1M92 363h1M93 366h1M95 366h1M97 379h1M87 369h1M81 373h1M85 365h1M85 380h1M91 358h1M99 372h1M99 375h1M102 372h1M96 366h1M90 362h1M93 357h1M82 366h1M95 368h1M86 375h1M98 364h1M94 363h1M94 369h1M86 373h1M93 357h1M95 373h1M100 346h1M102 373h1M93 362h1M93 375h1M94 362h1M102 365h1M90 354h1M90 352h1M90 342h1M87 375h1M102 369h1M101 377h1M104 377h1M96 371h1M98 361h1M97 373h1M88 364h1M101 345h1M95 374h1M92 346h1M93 372h1M93 365h1M91 365h1M95 367h1M91 363h1M92 373h1M102 374h1M88 379h1M110 353h1M98 374h1M87 360h1M95 365h1M90 370h1M95 374h1M91 376h1M91 374h1M91 370h1M92 369h1M89 358h1M93 370h1M97 378h1M95 361h1M103 350h1M99 372h1M93 378h1M88 362h1M97 370h1M97 373h1M93 365h1M100 364h1M95 345h1M93 361h1M89 350h1M88 377h1M96 368h1M90 361h1M85 368h1M100 368h1M96 350h1M102 370h1M89 369h1M87 350h1M86 358h1M95 362h1M91 379h1M88 369h1M104 364h1M97 359h1M96 368h1M94 353h1M98 359h1M92 363h1M88 370h1M99 360h1M92 357h1M98 361h1M93 364h1M88 363h1M97 362h1M90 368h1M91 361h1M90 355h1M92 350h1M91 369h1M96 358h1M99 370h1M96 354h1M104 372h1M97 372h1M94 341h1M95 361h1M93 359h1M96 344h1M96 371h1M93 344h1M96 372h1M95 360h1M98 357h1M91 359h1M99 369h1M94 365h1M95 359h1M88 359h1M97 372h1M97 347h1M95 370h1M90 362h1M86 360h1M102 379h1M90 374h1M96 362h1M93 377h1M88 380h1M94 366h1M90 375h1M92 363h1M91 352h1M96 365h1M98 379h1M105 374h1M95 366h1M88 379h1M98 376h1M101 345h1M94 369h1M94 360h1M100 371h1M92 362h1M96 366h1M97 371h1M101 360h1M99 361h1M90 365h1M94 365h1M94 339h1M93 362h1M87 354h1M94 371h1M97 375h1M90 365h1M96 365h1M92 373h1M94 371h1M95 375h1M89 362h1M94 368h1M95 359h1M85 356h1M102 344h1M91 354h1M95 370h1M93 377h1M100 372h1M94 363h1M100 372h1M101 366h1M93 371h1M80 374h1M104 374h1M93 372h1M98 352h1M84 354h1M92 367h1M93 365h1M92 374h1M99 368h1M100 370h1M87 373h1M94 376h1M88 364h1M91 359h1M86 365h1M87 375h1M91 370h1M95 375h1M95 364h1M92 375h1M96 368h1M100 375h1M100 379h1M103 379h1M86 369h1M85 359h1M92 352h1M86 369h1M98 380h1M90 377h1M97 350h1M90 364h1M97 371h1M86 373h1M92 367h1M88 360h1M99 371h1M89 363h1M91 370h1M92 367h1M95 373h1M85 355h1M98 370h1M97 361h1M97 367h1M87 360h1M86 346h1M95 367h1M93 360h1M89 373h1M95 361h1M95 361h1M90 374h1M91 349h1M90 365h1M95 356h1M93 370h1M84 370h1M88 357h1M93 368h1M96 371h1M94 349h1M87 362h1M100 364h1M93 363h1M94 372h1M98 374h1M90 377h1M88 361h1M96 372h1M96 374h1M98 371h1M88 362h1M95 370h1M98 367h1M92 352h1M94 367h1M95 365h1M93 351h1M92 371h1M88 361h1M90 358h1M93 369h1M90 377h1M90 346h1M88 377h1M97 372h1M96 363h1M88 361h1M88 357h1M89 364h1M99 355h1M88 370h1M88 360h1M100 359h1M89 374h1M106 370h1M99 371h1M92 374h1M94 359h1M98 368h1M96 373h1M92 365h1M96 363h1M90 368h1M100 376h1M100 374h1M94 352h1M102 378h1M96 363h1M89 369h1M85 369h1M89 360h1M100 348h1M92 363h1M91 376h1M100 368h1M95 339h1M93 370h1M94 361h1M93 363h1M93 336h1M93 367h1M95 380h1M101 360h1M99 366h1M96 367h1M94 374h1M93 340h1M88 376h1M91 377h1M101 367h1M96 360h1M95 366h1M102 361h1M102 374h1M93 367h1M96 368h1M97 370h1M89 358h1M92 368h1M91 364h1M97 368h1M81 357h1M86 363h1M90 362h1M99 378h1M91 373h1M91 364h1M97 365h1M95 345h1M93 369h1M102 364h1M89 368h1M95 376h1M90 379h1M95 376h1M95 363h1M87 379h1M96 352h1M99 348h1M94 373h1M88 368h1M103 365h1M94 364h1M94 367h1M97 362h1M85 362h1M85 365h1M97 362h1M104 378h1M98 366h1M101 361h1M88 368h1M92 375h1M95 370h1M97 379h1M99 341h1M96 375h1M98 349h1M92 353h1M97 364h1M100 355h1M95 368h1M98 364h1M88 362h1M106 366h1M96 353h1M91 371h1M94 366h1M94 372h1M95 364h1M91 359h1M95 364h1M88 376h1M101 372h1M96 374h1M91 365h1M95 365h1M91 364h1M89 367h1M88 361h1M97 364h1M98 369h1M108 375h1M88 366h1M100 379h1M101 371h1M93 372h1M98 363h1M86 374h1M99 380h1M99 351h1M94 366h1M89 361h1M95 341h1M96 373h1M95 368h1M97 370h1M95 367h1M90 370h1M99 366h1M92 363h1M85 367h1M95 378h1M92 366h1M92 362h1M92 357h1M88 363h1M99 364h1M92 366h1M93 371h1M90 374h1M90 367h1M90 379h1M99 361h1M100 351h1M91 372h1M97 359h1M91 343h1M97 365h1M93 364h1M99 362h1M90 356h1M99 372h1M91 374h1M92 361h1M84 367h1M101 346h1M95 379h1M103 374h1M89 359h1M92 350h1M100 379h1M84 361h1M95 366h1M101 380h1M89 374h1M96 369h1M99 359h1M88 368h1M86 357h1M100 374h1M98 351h1M90 366h1M100 378h1M87 377h1M92 368h1M99 374h1M93 365h1M82 369h1M88 353h1M91 364h1M96 345h1M86 364h1M88 363h1M94 346h1M85 373h1M92 363h1M95 372h1M90 372h1M89 375h1M93 348h1M95 364h1M102 378h1M96 376h1M92 374h1M90 371h1M92 350h1M95 360h1M97 365h1M83 374h1M96 372h1M89 366h1M90 358h1M96 354h1M97 371h1M85 355h1M88 379h1M96 374h1M97 367h1M98 362h1M94 371h1M96 369h1M99 376h1M89 360h1M103 363h1M95 369h1M100 377h1M95 361h1M98 365h1M93 353h1M90 367h1M90 364h1M97 362h1M93 360h1M94 368h1M95 371h1M100 379h1M99 365h1M88 359h1M96 369h1M93 368h1M95 352h1M96 358h1M100 365h1M96 366h1M96 362h1M91 368h1M95 370h1M86 368h1M100 363h1M85 362h1M91 365h1M94 379h1M86 364h1M93 363h1M98 366h1M99 354h1M94 369h1M95 363h1M94 372h1M94 372h1M91 360h1M90 369h1M91 373h1M95 374h1M96 369h1M92 348h1M88 372h1M89 363h1M94 373h1M93 369h1M97 378h1M92 350h1M98 369h1M97 371h1M99 374h1M91 373h1M89 345h1M95 369h1M94 364h1M93 375h1M100 379h1M93 369h1M89 375h1M91 377h1M92 362h1M95 371h1M93 360h1M85 368h1M100 369h1M92 347h1M91 375h1M101 366h1M92 365h1M89 371h1M90 378h1M84 370h1M99 347h1M93 366h1M89 358h1M85 362h1M90 369h1M98 359h1M92 379h1M92 372h1M98 360h1M95 363h1M99 356h1M96 363h1M97 370h1M91 380h1M86 362h1M87 356h1M102 360h1M92 372h1M100 351h1M95 369h1M93 361h1M100 361h1M99 379h1M94 358h1M91 369h1M108 371h1M97 353h1M87 351h1M94 362h1M92 370h1M87 353h1M94 360h1M95 347h1M89 358h1M91 366h1M97 364h1M89 374h1M85 359h1M95 363h1M90 367h1M96 369h1M85 371h1M98 370h1M99 357h1M97 366h1M98 367h1M90 367h1M92 370h1M83 367h1M99 364h1M93 353h1M95 340h1M94 376h1M91 374h1M89 358h1M90 376h1M89 375h1M96 361h1M88 374h1M101 354h1M92 376h1M94 364h1M95 360h1M93 366h1M89 368h1M99 377h1M91 359h1M90 371h1M91 380h1M98 377h1M89 379h1M90 377h1M93 376h1M92 367h1M97 368h1M104 376h1M94 358h1M88 357h1M103 349h1M93 372h1M91 369h1M90 370h1M90 360h1M100 348h1M89 354h1M87 358h1M95 356h1M96 358h1M99 359h1M100 380h1M87 369h1M98 368h1M94 366h1M91 376h1M98 374h1M91 371h1M94 372h1M92 365h1M91 355h1M98 362h1M97 366h1M93 363h1M83 364h1M86 371h1M89 369h1M94 368h1M96 375h1M95 366h1M84 361h1M93 357h1M86 362h1M86 376h1M95 376h1M99 356h1M98 370h1M85 361h1M87 376h1M96 373h1M101 367h1M95 361h1M89 367h1M98 361h1M103 366h1M99 356h1M94 346h1M97 361h1M91 356h1M94 371h1M88 357h1M89 362h1M96 363h1M93 363h1M90 373h1M93 377h1M94 371h1M95 363h1M94 369h1M91 369h1M100 376h1M91 372h1M95 371h1M101 351h1M93 368h1M86 360h1M100 363h1M97 377h1M98 356h1M86 379h1M105 373h1M89 367h1M100 336h1M94 365h1M97 363h1M85 365h1M98 370h1M86 371h1M100 370h1M93 373h1M91 371h1M93 365h1M97 368h1M95 356h1M84 355h1M98 354h1M99 371h1M93 364h1M94 365h1M89 378h1M93 379h1M95 358h1M98 365h1M93 364h1M97 348h1M94 360h1M91 360h1M90 357h1M90 376h1M98 369h1M90 376h1M90 375h1M89 368h1M90 355h1M94 368h1M97 377h1M100 367h1M103 368h1M96 361h1M99 361h1M94 365h1M93 370h1M94 364h1M84 359h1M92 370h1M90 372h1M98 369h1M86 360h1M96 346h1M88 369h1M91 364h1M92 372h1M105 354h1M87 373h1M90 374h1M95 375h1M92 362h1M97 369h1M96 370h1M91 350h1M89 371h1M85 369h1M92 368h1M95 369h1M94 362h1M92 371h1M92 375h1M98 349h1M91 379h1M89 353h1M97 380h1M98 365h1M90 359h1M94 369h1M96 349h1M101 359h1M99 375h1M93 366h1M89 365h1M93 373h1M89 362h1M88 371h1M100 333h1M93 348h1M84 361h1M91 362h1M89 358h1M81 360h1M95 366h1M97 345h1M86 369h1M101 365h1M88 351h1M93 364h1M89 357h1M93 366h1M95 375h1M99 379h1M94 367h1M96 361h1M97 355h1M87 351h1M90 369h1M92 376h1M93 374h1M96 358h1M101 361h1M92 369h1M88 370h1M92 363h1M93 364h1M92 364h1M96 361h1M93 345h1M92 363h1M100 365h1M95 366h1M87 367h1M103 360h1M96 370h1M97 374h1M93 363h1M97 380h1M90 358h1M94 368h1M100 366h1M91 366h1M88 377h1M99 367h1M102 368h1M89 370h1M90 372h1M89 365h1M97 374h1M89 365h1M85 369h1M88 368h1M97 365h1M91 351h1M91 347h1M89 376h1M92 353h1M87 369h1M103 371h1M98 365h1M93 370h1M102 364h1M95 367h1M103 341h1M91 365h1M93 362h1M88 364h1M93 366h1M99 362h1M88 367h1M84 372h1M99 346h1M91 373h1M94 367h1M99 369h1M96 369h1M99 362h1M88 361h1M93 363h1M86 370h1M96 368h1M88 356h1M93 364h1M94 365h1M97 349h1M98 367h1M95 364h1M85 365h1M93 361h1M96 368h1M90 378h1M94 371h1M100 375h1M98 366h1M93 361h1M99 365h1M87 354h1M89 368h1M97 378h1M89 373h1M97 371h1M87 372h1M94 361h1M103 373h1M95 376h1M91 351h1M90 367h1M88 368h1M100 366h1M93 363h1M95 359h1M102 351h1M95 363h1M94 373h1M95 366h1M91 374h1M96 372h1M84 362h1M91 366h1M93 369h1M94 360h1M93 374h1M97 346h1M94 374h1M84 376h1M99 377h1M91 371h1M104 377h1M103 354h1M93 377h1M88 366h1M95 379h1M93 377h1M98 344h1M91 348h1M94 372h1M92 361h1M85 353h1M89 375h1M98 360h1M93 372h1M102 366h1M87 374h1M84 354h1M102 362h1M103 368h1M93 369h1M92 352h1M97 369h1M91 375h1M103 377h1M87 355h1M91 373h1M96 356h1M89 359h1M90 373h1M92 343h1M106 360h1M97 376h1M95 372h1M94 340h1M92 363h1M99 365h1M87 367h1M99 373h1M97 368h1M93 351h1M92 362h1M92 380h1M93 345h1M93 364h1M102 369h1M93 370h1M98 371h1M87 367h1M96 373h1M89 368h1M94 364h1M102 372h1M97 345h1M91 379h1M94 371h1M106 363h1M92 356h1M86 368h1M88 342h1M88 351h1M90 380h1M92 368h1M98 365h1M94 351h1M94 346h1M93 364h1M101 378h1M100 346h1M90 363h1M90 361h1M91 368h1M99 368h1M98 378h1M96 357h1M99 374h1M92 340h1M86 380h1M97 378h1M92 374h1M90 360h1M84 370h1M87 367h1M100 355h1M91 367h1M96 367h1M87 365h1M100 360h1M92 371h1M97 376h1M95 375h1M98 375h1M101 358h1M104 374h1M100 366h1M94 345h1M91 361h1M87 372h1M88 380h1M95 376h1M100 372h1M89 377h1M95 373h1M83 371h1M94 378h1M94 367h1M92 365h1M94 365h1M98 365h1M93 371h1M90 358h1M90 375h1M89 366h1M102 377h1M101 345h1M91 367h1M89 354h1M93 354h1M95 362h1" stroke="#2e68c0" stroke-opacity="0.5" stroke-width="1" transform="translate(0 0.5)"/>
<path d="M94 340h1M102 349h1M116 351h1M89 336h1M94 329h1M98 338h1M99 323h1M96 338h1M98 329h1M86 340h1M99 327h1M106 321h1M99 332h1M100 317h1M88 341h1M101 338h1M99 322h1M101 344h1M88 323h1M86 332h1M98 339h1M98 338h1M99 334h1M116 357h1M95 340h1M82 339h1M104 334h1M103 332h1M97 346h1M90 332h1M82 327h1M87 314h1M90 316h1M100 342h1M91 335h1M105 335h1M94 332h1M99 337h1M93 335h1M95 343h1M99 334h1M96 327h1M95 326h1M97 335h1M108 336h1M99 327h1M89 320h1M101 335h1M100 325h1M110 331h1M102 326h1M96 338h1M96 329h1M103 335h1M82 335h1M92 334h1M82 334h1M126 344h1M84 336h1M94 329h1M103 334h1M89 338h1M109 343h1M91 339h1M91 334h1M94 336h1M94 330h1M96 342h1M130 340h1M105 330h1M114 332h1M90 330h1M93 326h1M99 340h1M103 329h1M83 344h1M97 322h1M99 331h1M89 347h1M106 326h1M89 340h1M101 343h1M85 332h1M111 354h1M92 334h1M94 336h1M102 320h1M88 333h1M78 345h1M95 326h1M91 335h1M86 324h1M94 332h1M101 343h1M102 336h1M93 336h1M125 356h1M97 329h1M93 328h1M99 325h1M109 350h1M91 328h1M104 346h1M96 326h1M91 355h1M106 333h1M115 352h1M89 335h1M99 322h1M97 325h1M95 325h1M102 325h1M97 339h1M107 345h1M88 345h1M82 340h1M116 365h1M94 333h1M93 333h1M95 325h1M105 330h1M110 357h1M98 323h1M127 338h1M96 332h1M86 324h1M105 332h1M95 325h1M109 328h1M106 334h1M99 336h1M103 349h1M94 331h1M99 338h1M87 336h1M88 324h1M95 325h1M115 355h1M93 342h1M94 326h1M94 336h1M109 356h1M95 343h1M89 334h1M119 343h1M108 331h1M95 335h1M96 348h1M96 335h1M94 323h1M100 338h1M105 356h1M96 327h1M91 320h1M104 330h1M95 331h1M104 339h1M101 334h1M96 328h1M94 318h1M97 342h1M95 337h1M89 342h1M103 332h1M90 348h1M98 337h1M95 327h1M95 320h1M112 326h1M100 336h1M104 335h1M112 352h1M125 358h1M78 326h1M105 362h1M68 338h1M96 329h1M99 353h1M116 342h1M101 328h1M100 338h1M107 351h1M90 353h1M94 334h1M109 358h1M90 327h1M101 340h1M104 338h1M93 332h1M96 330h1M108 343h1M90 340h1M99 342h1M104 335h1M86 348h1M125 333h1M100 329h1M96 321h1M105 322h1M97 328h1" stroke="#6a84c0" stroke-opacity="0.42" stroke-width="1" transform="translate(0 0.5)"/>
<g clip-path="url(#cC1)"><ellipse cx="93.5" cy="368" rx="5" ry="9" fill="#3a88cc" opacity="0.5" filter="url(#bl2)" transform="rotate(0 93.5 368)"/></g>
<g clip-path="url(#cC1)"><ellipse cx="93.5" cy="367" rx="2.5" ry="4" fill="#6cc060" opacity="0.9" filter="url(#bl1)" transform="rotate(0 93.5 367)"/></g>
<rect x="56.7" y="286.5" width="95.8" height="95.3" fill="none" stroke="#909090" stroke-width="0.9"/>
<text x="57" y="389.4" font-size="4.6" text-anchor="middle" fill="#3a3a3a">10<tspan font-size="3.22" dy="-1.5">0</tspan></text>
<text x="80.95" y="389.4" font-size="4.6" text-anchor="middle" fill="#3a3a3a">10<tspan font-size="3.22" dy="-1.5">1</tspan></text>
<text x="104.9" y="389.4" font-size="4.6" text-anchor="middle" fill="#3a3a3a">10<tspan font-size="3.22" dy="-1.5">2</tspan></text>
<text x="128.85" y="389.4" font-size="4.6" text-anchor="middle" fill="#3a3a3a">10<tspan font-size="3.22" dy="-1.5">3</tspan></text>
<text x="152.8" y="389.4" font-size="4.6" text-anchor="middle" fill="#3a3a3a">10<tspan font-size="3.22" dy="-1.5">4</tspan></text>
<text x="54.1" y="383.5" font-size="4.6" text-anchor="end" fill="#3a3a3a">10<tspan font-size="3.22" dy="-1.5">0</tspan></text>
<text x="54.1" y="359.68" font-size="4.6" text-anchor="end" fill="#3a3a3a">10<tspan font-size="3.22" dy="-1.5">1</tspan></text>
<text x="54.1" y="335.85" font-size="4.6" text-anchor="end" fill="#3a3a3a">10<tspan font-size="3.22" dy="-1.5">2</tspan></text>
<text x="54.1" y="312.02" font-size="4.6" text-anchor="end" fill="#3a3a3a">10<tspan font-size="3.22" dy="-1.5">3</tspan></text>
<text x="54.1" y="288.2" font-size="4.6" text-anchor="end" fill="#3a3a3a">10<tspan font-size="3.22" dy="-1.5">4</tspan></text>
<path d="M56.7 381.8v1.6M63.91 381.8v1M68.13 381.8v1M71.12 381.8v1M73.44 381.8v1M75.34 381.8v1M76.94 381.8v1M78.33 381.8v1M79.55 381.8v1M80.65 381.8v1.6M87.86 381.8v1M92.08 381.8v1M95.07 381.8v1M97.39 381.8v1M99.29 381.8v1M100.89 381.8v1M102.28 381.8v1M103.5 381.8v1M104.6 381.8v1.6M111.81 381.8v1M116.03 381.8v1M119.02 381.8v1M121.34 381.8v1M123.24 381.8v1M124.84 381.8v1M126.23 381.8v1M127.45 381.8v1M128.55 381.8v1.6M135.76 381.8v1M139.98 381.8v1M142.97 381.8v1M145.29 381.8v1M147.19 381.8v1M148.79 381.8v1M150.18 381.8v1M151.4 381.8v1M56.7 381.8h-1.6M56.7 374.63h-1M56.7 370.43h-1M56.7 367.46h-1M56.7 365.15h-1M56.7 363.26h-1M56.7 361.67h-1M56.7 360.28h-1M56.7 359.07h-1M56.7 357.98h-1.6M56.7 350.8h-1M56.7 346.61h-1M56.7 343.63h-1M56.7 341.32h-1M56.7 339.44h-1M56.7 337.84h-1M56.7 336.46h-1M56.7 335.24h-1M56.7 334.15h-1.6M56.7 326.98h-1M56.7 322.78h-1M56.7 319.81h-1M56.7 317.5h-1M56.7 315.61h-1M56.7 314.02h-1M56.7 312.63h-1M56.7 311.42h-1M56.7 310.32h-1.6M56.7 303.15h-1M56.7 298.96h-1M56.7 295.98h-1M56.7 293.67h-1M56.7 291.79h-1M56.7 290.19h-1M56.7 288.81h-1M56.7 287.59h-1" stroke="#999" stroke-width="0.6"/>
<path d="M69.5 292.5L140 288.8L149 345.6L64.3 348.4Z" fill="none" stroke="#a89eaa" stroke-width="0.9" stroke-linejoin="round"/>
<text x="104.7" y="309.6" font-size="6" text-anchor="middle" font-weight="bold">3.88</text>
<path d="M223 343h1M235 362h1M247 377h1M228 372h1M230 340h1M240 364h1M225 369h1M230 374h1M236 337h1M228 352h1M229 370h1M223 363h1M239 345h1M233 368h1M236 373h1M237 380h1M234 366h1M232 380h1M234 370h1M236 361h1M222 379h1M237 364h1M226 377h1M225 334h1M237 372h1M238 369h1M230 365h1M230 367h1M231 368h1M231 364h1M228 372h1M236 363h1M238 346h1M234 380h1M229 364h1M231 368h1M225 363h1M226 361h1M229 380h1M224 372h1M221 340h1M225 360h1M226 344h1M224 350h1M231 364h1M230 369h1M228 365h1M238 370h1M221 349h1M233 378h1M232 345h1M234 352h1M221 359h1M223 367h1M226 368h1M227 361h1M237 342h1M235 353h1M240 366h1M223 363h1M230 358h1M222 373h1M225 357h1M231 371h1M232 366h1M219 336h1M237 379h1M225 356h1M231 345h1M229 358h1M231 352h1M228 365h1M232 370h1M230 353h1M232 352h1M239 367h1M229 377h1M227 365h1M224 346h1M225 349h1M225 363h1M233 377h1M241 375h1M230 376h1M230 347h1M229 380h1M228 339h1M229 368h1M235 370h1M230 365h1M233 368h1M233 368h1M232 361h1M231 380h1M228 354h1M231 364h1M232 325h1M235 366h1M227 360h1M230 355h1M235 353h1M229 369h1M227 369h1M229 346h1M235 374h1M229 364h1M232 356h1M231 362h1M229 366h1M240 367h1M230 337h1M233 370h1M228 380h1M224 376h1M226 374h1M235 350h1M222 363h1M234 343h1M230 359h1M233 369h1M226 362h1M228 358h1M226 380h1M227 364h1M226 360h1M227 363h1M232 353h1M236 367h1M232 372h1M220 362h1M232 367h1M230 380h1M229 362h1M230 371h1M224 370h1M231 342h1M238 366h1M226 363h1M233 348h1M226 345h1M230 369h1M238 378h1M227 364h1M230 352h1M224 367h1M234 378h1M226 352h1M224 362h1M233 336h1M233 360h1M230 346h1M232 368h1M236 362h1M239 361h1M231 347h1M231 366h1M234 356h1M223 359h1M230 367h1M220 341h1M239 369h1M240 354h1M233 372h1M231 349h1M230 363h1M233 365h1M230 365h1M222 363h1M234 362h1M234 378h1M241 365h1M238 380h1M227 371h1M234 360h1M228 363h1M226 357h1M233 365h1M233 371h1M227 377h1M219 368h1M233 358h1M231 363h1M230 353h1M227 360h1M238 360h1M235 366h1M233 362h1M231 339h1M231 365h1M233 334h1M226 358h1M223 362h1M234 362h1M228 363h1M232 368h1M226 350h1M232 368h1M228 370h1M230 369h1M228 341h1M231 359h1M233 351h1M232 370h1M233 380h1M230 351h1M229 358h1M227 367h1M227 357h1M223 360h1M234 368h1M230 370h1M233 355h1M233 379h1M234 374h1M232 353h1M237 371h1M222 364h1M230 371h1M225 357h1M233 349h1M225 361h1M229 342h1M226 356h1M233 367h1M233 353h1M232 369h1M225 351h1M233 380h1M221 367h1M228 364h1M227 374h1M227 375h1M237 344h1M229 365h1M228 360h1M224 379h1M223 366h1M234 371h1M234 363h1M225 376h1M232 365h1M225 358h1M229 360h1M226 363h1M225 371h1M230 369h1M227 359h1M236 375h1M222 371h1M239 377h1M231 349h1M233 364h1M226 365h1M234 361h1M237 365h1M235 360h1M226 359h1M227 355h1M240 366h1M224 377h1M231 349h1M231 366h1M223 354h1M223 356h1M231 372h1M225 380h1M228 351h1M227 379h1M230 357h1M239 335h1M233 369h1M226 368h1M233 359h1M234 371h1M231 340h1M231 372h1M234 344h1M224 344h1M230 362h1M234 341h1M225 376h1M223 344h1M233 377h1M229 352h1M227 378h1M229 367h1M231 364h1M235 369h1M229 369h1M230 367h1M227 336h1M229 378h1M230 342h1M228 371h1M237 369h1M231 335h1M226 359h1M226 354h1M224 368h1M229 378h1M226 363h1M230 360h1M230 366h1M222 342h1M230 339h1M237 336h1M237 338h1M220 347h1M240 370h1M236 361h1M233 360h1M230 362h1M230 346h1M232 355h1M226 362h1M228 361h1M226 361h1M239 370h1M231 342h1M230 371h1M228 380h1M238 361h1M236 368h1M230 352h1M222 356h1M228 358h1M232 365h1M229 366h1M222 362h1M219 357h1M227 369h1M221 367h1M234 367h1M232 368h1M226 360h1M238 339h1M228 367h1M234 360h1M230 375h1M231 377h1M233 380h1M226 376h1M227 358h1M230 357h1M223 374h1M229 377h1M229 370h1M238 331h1M242 380h1M240 366h1M231 377h1M232 356h1M228 371h1M234 366h1M230 376h1M228 355h1M230 347h1M227 353h1M228 338h1M228 380h1M233 349h1M237 380h1M224 345h1M226 371h1M229 372h1M233 368h1M226 380h1M233 370h1M234 361h1M225 364h1M217 370h1M231 355h1M218 369h1M236 343h1M234 375h1M222 370h1M228 335h1M237 366h1M239 353h1M234 368h1M232 370h1M227 372h1M226 349h1M238 354h1M222 364h1M224 357h1M231 337h1M226 355h1M236 355h1M225 359h1M233 354h1M231 341h1M227 349h1M224 348h1M232 361h1M222 357h1M232 367h1M229 372h1M228 330h1M227 346h1" stroke="#3a5aa8" stroke-opacity="0.36" stroke-width="1" transform="translate(0 0.5)"/>
<path d="M236 326h1M249 341h1M236 334h1M234 357h1M235 339h1M241 342h1M254 329h1M229 336h1M226 336h1M237 321h1M246 338h1M226 313h1M220 328h1M237 323h1M241 330h1M241 313h1M235 318h1M245 353h1M242 332h1M229 323h1M243 331h1M224 344h1M261 342h1M234 330h1M238 330h1M227 319h1M236 316h1M232 329h1M249 324h1M229 335h1M244 335h1M241 331h1M241 348h1M260 350h1M240 331h1M247 335h1M243 347h1M250 351h1M244 325h1M249 348h1M233 322h1M231 343h1M243 319h1M243 352h1M252 345h1M241 358h1M235 346h1M227 331h1M233 327h1M240 327h1M239 334h1M234 334h1M239 333h1M250 337h1M237 332h1M231 322h1M251 331h1M251 330h1M239 357h1M235 332h1M246 347h1M252 352h1M248 342h1M243 341h1M235 328h1M244 329h1M235 312h1M235 328h1M232 341h1M254 345h1M223 328h1M230 370h1M218 315h1M237 352h1M247 325h1M242 338h1M239 329h1M231 322h1M224 343h1M234 328h1M261 348h1M239 331h1M238 328h1M265 337h1M235 329h1M252 333h1M225 319h1M228 335h1M234 317h1M236 327h1M231 328h1M217 325h1M247 340h1M247 334h1M238 332h1M228 331h1M220 318h1M240 342h1M250 321h1M233 339h1M240 340h1M238 332h1M254 363h1M243 323h1M244 326h1M239 333h1M232 338h1M231 351h1M239 344h1M240 332h1M260 353h1M234 316h1M262 322h1M242 328h1M240 326h1M227 330h1M244 339h1M235 337h1M250 353h1M258 356h1" stroke="#7a8cc0" stroke-opacity="0.3" stroke-width="1" transform="translate(0 0.5)"/>
<g clip-path="url(#cC2)"><ellipse cx="230" cy="364" rx="4" ry="9" fill="#4a78b8" opacity="0.3" filter="url(#bl2)" transform="rotate(0 230 364)"/></g>
<rect x="189.5" y="286.8" width="94.7" height="95.2" fill="none" stroke="#909090" stroke-width="0.9"/>
<text x="189.8" y="389.6" font-size="4.6" text-anchor="middle" fill="#3a3a3a">10<tspan font-size="3.22" dy="-1.5">0</tspan></text>
<text x="213.48" y="389.6" font-size="4.6" text-anchor="middle" fill="#3a3a3a">10<tspan font-size="3.22" dy="-1.5">1</tspan></text>
<text x="237.15" y="389.6" font-size="4.6" text-anchor="middle" fill="#3a3a3a">10<tspan font-size="3.22" dy="-1.5">2</tspan></text>
<text x="260.82" y="389.6" font-size="4.6" text-anchor="middle" fill="#3a3a3a">10<tspan font-size="3.22" dy="-1.5">3</tspan></text>
<text x="284.5" y="389.6" font-size="4.6" text-anchor="middle" fill="#3a3a3a">10<tspan font-size="3.22" dy="-1.5">4</tspan></text>
<text x="186.9" y="383.7" font-size="4.6" text-anchor="end" fill="#3a3a3a">10<tspan font-size="3.22" dy="-1.5">0</tspan></text>
<text x="186.9" y="359.9" font-size="4.6" text-anchor="end" fill="#3a3a3a">10<tspan font-size="3.22" dy="-1.5">1</tspan></text>
<text x="186.9" y="336.1" font-size="4.6" text-anchor="end" fill="#3a3a3a">10<tspan font-size="3.22" dy="-1.5">2</tspan></text>
<text x="186.9" y="312.3" font-size="4.6" text-anchor="end" fill="#3a3a3a">10<tspan font-size="3.22" dy="-1.5">3</tspan></text>
<text x="186.9" y="288.5" font-size="4.6" text-anchor="end" fill="#3a3a3a">10<tspan font-size="3.22" dy="-1.5">4</tspan></text>
<path d="M189.5 382v1.6M196.63 382v1M200.8 382v1M203.75 382v1M206.05 382v1M207.92 382v1M209.51 382v1M210.88 382v1M212.09 382v1M213.18 382v1.6M220.3 382v1M224.47 382v1M227.43 382v1M229.72 382v1M231.6 382v1M233.18 382v1M234.56 382v1M235.77 382v1M236.85 382v1.6M243.98 382v1M248.15 382v1M251.1 382v1M253.4 382v1M255.27 382v1M256.86 382v1M258.23 382v1M259.44 382v1M260.52 382v1.6M267.65 382v1M271.82 382v1M274.78 382v1M277.07 382v1M278.95 382v1M280.53 382v1M281.91 382v1M283.12 382v1M189.5 382h-1.6M189.5 374.84h-1M189.5 370.64h-1M189.5 367.67h-1M189.5 365.36h-1M189.5 363.48h-1M189.5 361.89h-1M189.5 360.51h-1M189.5 359.29h-1M189.5 358.2h-1.6M189.5 351.04h-1M189.5 346.84h-1M189.5 343.87h-1M189.5 341.56h-1M189.5 339.68h-1M189.5 338.09h-1M189.5 336.71h-1M189.5 335.49h-1M189.5 334.4h-1.6M189.5 327.24h-1M189.5 323.04h-1M189.5 320.07h-1M189.5 317.76h-1M189.5 315.88h-1M189.5 314.29h-1M189.5 312.91h-1M189.5 311.69h-1M189.5 310.6h-1.6M189.5 303.44h-1M189.5 299.24h-1M189.5 296.27h-1M189.5 293.96h-1M189.5 292.08h-1M189.5 290.49h-1M189.5 289.11h-1M189.5 287.89h-1" stroke="#999" stroke-width="0.6"/>
<path d="M201 292.5L273 288L281.7 344.5L196 348.2Z" fill="none" stroke="#a89eaa" stroke-width="0.9" stroke-linejoin="round"/>
<text x="238" y="303.6" font-size="6" text-anchor="middle" font-weight="bold">11.4</text>
<path d="M42.5 345.6L42.5 391" stroke="#000" stroke-width="1.4"/>
<path d="M39.8 347.6L42.5 341.6L45.2 347.6Z"/>
<text x="36.4" y="367.2" font-size="9.4" text-anchor="middle" transform="rotate(-90 36.4 367.2)">Annexin V</text>
<path d="M49.4 397.9L95.6 397.9" stroke="#000" stroke-width="1.4"/>
<path d="M93.6 395.2L99.6 397.9L93.6 400.6Z"/>
<text x="71.8" y="408.3" font-size="9" text-anchor="middle">SSC</text>
<text x="12.4" y="423.4" font-size="11.3" font-weight="bold">D</text>
<text x="19.9" y="577.5" font-size="6.5" text-anchor="end" fill="#404040">0</text>
<text x="19.9" y="554.55" font-size="6.5" text-anchor="end" fill="#404040">200</text>
<text x="19.9" y="531.6" font-size="6.5" text-anchor="end" fill="#404040">400</text>
<text x="19.9" y="508.65" font-size="6.5" text-anchor="end" fill="#404040">600</text>
<text x="19.9" y="485.7" font-size="6.5" text-anchor="end" fill="#404040">800</text>
<text x="19.9" y="462.75" font-size="6.5" text-anchor="end" fill="#404040">1000</text>
<text x="19.9" y="439.8" font-size="6.5" text-anchor="end" fill="#404040">1200</text>
<path d="M26.5 437.5L26.5 575.2" stroke="#707070" stroke-width="1"/>
<path d="M26.5 575.2L251 575.2" stroke="#707070" stroke-width="1"/>
<text x="6.6" y="510.5" font-size="6.9" text-anchor="middle" transform="rotate(-90 6.6 510.5)">Mean FSC</text>
<path d="M53.05 542.8L53.05 539" stroke="#555" stroke-width="0.9"/>
<path d="M51.25 539L54.85 539" stroke="#555" stroke-width="0.9"/>
<rect x="44.3" y="542.8" width="17.5" height="32.4" fill="#3f6cb8" stroke="#222" stroke-width="0.9"/>
<path d="M74.2 531.2L74.2 527" stroke="#555" stroke-width="0.9"/>
<path d="M72.4 527L76 527" stroke="#555" stroke-width="0.9"/>
<rect x="65.8" y="531.2" width="16.8" height="44" fill="#cc2229" stroke="#3a0a0a" stroke-width="0.9"/>
<path d="M127.5 527.3L127.5 522.3" stroke="#555" stroke-width="0.9"/>
<path d="M125.7 522.3L129.3 522.3" stroke="#555" stroke-width="0.9"/>
<rect x="118.5" y="527.3" width="18" height="47.9" fill="#3f6cb8" stroke="#222" stroke-width="0.9"/>
<path d="M149 512.5L149 507.6" stroke="#555" stroke-width="0.9"/>
<path d="M147.2 507.6L150.8 507.6" stroke="#555" stroke-width="0.9"/>
<rect x="140.2" y="512.5" width="17.6" height="62.7" fill="#cc2229" stroke="#3a0a0a" stroke-width="0.9"/>
<path d="M202.35 487.2L202.35 478.8" stroke="#555" stroke-width="0.9"/>
<path d="M200.55 478.8L204.15 478.8" stroke="#555" stroke-width="0.9"/>
<rect x="193.4" y="487.2" width="17.9" height="88" fill="#3f6cb8" stroke="#222" stroke-width="0.9"/>
<path d="M223.45 466.2L223.45 461.2" stroke="#555" stroke-width="0.9"/>
<path d="M221.65 461.2L225.25 461.2" stroke="#555" stroke-width="0.9"/>
<rect x="214.6" y="466.2" width="17.7" height="109" fill="#cc2229" stroke="#3a0a0a" stroke-width="0.9"/>
<text x="74.3" y="526.6" font-size="9" text-anchor="middle" fill="#222">*</text>
<text x="149.2" y="507" font-size="9" text-anchor="middle" fill="#222">*</text>
<text x="223.4" y="460.8" font-size="9" text-anchor="middle" fill="#222">*</text>
<rect x="50.2" y="443.8" width="4" height="4" fill="#3f6cb8" stroke="none" stroke-width="1"/>
<rect x="50.2" y="457" width="4" height="4" fill="#cc2229" stroke="none" stroke-width="1"/>
<text x="59.2" y="448.7" font-size="9">WT</text>
<text x="59.2" y="462.2" font-size="10.8" font-style="italic">Aurka -/-</text>
<text x="62.3" y="587.3" font-size="9.5" text-anchor="middle">2N</text>
<text x="136.7" y="587.4" font-size="9.5" text-anchor="middle">4N</text>
<text x="211" y="587.4" font-size="9.5" text-anchor="middle">≥8N</text>
<text x="266.8" y="423.5" font-size="11.3" font-weight="bold">E</text>
<text x="294.3" y="577.6" font-size="6.7" text-anchor="end" fill="#404040">0</text>
<text x="294.3" y="561.38" font-size="6.7" text-anchor="end" fill="#404040">20</text>
<text x="294.3" y="545.15" font-size="6.7" text-anchor="end" fill="#404040">40</text>
<text x="294.3" y="528.92" font-size="6.7" text-anchor="end" fill="#404040">60</text>
<text x="294.3" y="512.7" font-size="6.7" text-anchor="end" fill="#404040">80</text>
<text x="294.3" y="496.47" font-size="6.7" text-anchor="end" fill="#404040">100</text>
<text x="294.3" y="480.25" font-size="6.7" text-anchor="end" fill="#404040">120</text>
<text x="294.3" y="464.02" font-size="6.7" text-anchor="end" fill="#404040">140</text>
<text x="294.3" y="447.8" font-size="6.7" text-anchor="end" fill="#404040">160</text>
<path d="M301 445.9L301 575.2" stroke="#b0b0b0" stroke-width="1"/>
<path d="M301 575.2L516.7 575.2" stroke="#b0b0b0" stroke-width="1"/>
<text x="279.5" y="510.5" font-size="5.9" text-anchor="middle" font-weight="bold" transform="rotate(-90 279.5 510.5)">Fold Change</text>
<rect x="323.8" y="574" width="31.2" height="1.2" fill="#8aa0d0" stroke="none" stroke-width="1"/>
<rect x="433" y="574" width="30.8" height="1.2" fill="#8aa0d0" stroke="none" stroke-width="1"/>
<path d="M371.1 474.2L371.1 466.6" stroke="#777" stroke-width="0.9"/>
<path d="M369.1 466.6L373.1 466.6" stroke="#777" stroke-width="0.9"/>
<rect x="355" y="474.2" width="32.2" height="101" fill="#cc2229" stroke="#3a0a0a" stroke-width="0.9"/>
<path d="M480.1 514.2L480.1 489.2" stroke="#777" stroke-width="0.9"/>
<path d="M478.1 489.2L482.1 489.2" stroke="#777" stroke-width="0.9"/>
<rect x="463.8" y="514.2" width="32.6" height="61" fill="#cc2229" stroke="#3a0a0a" stroke-width="0.9"/>
<text x="371.1" y="466.6" font-size="10" text-anchor="middle" fill="#333">***</text>
<text x="480.1" y="490.2" font-size="10" text-anchor="middle" fill="#333">***</text>
<rect x="412.7" y="443.8" width="3.6" height="3.6" fill="#3f6cb8" stroke="none" stroke-width="1"/>
<rect x="412.7" y="457.2" width="3.6" height="3.6" fill="#cc2229" stroke="none" stroke-width="1"/>
<text x="420.8" y="448.8" font-size="9">WT</text>
<text x="420.8" y="462.2" font-size="10.8" font-style="italic">Aurka -/-</text>
<text x="353.2" y="587.5" font-size="9.6" text-anchor="middle">NF-E2</text>
<text x="467.2" y="587.6" font-size="10.2" text-anchor="middle">β1-tubulin</text></svg></body></html>
